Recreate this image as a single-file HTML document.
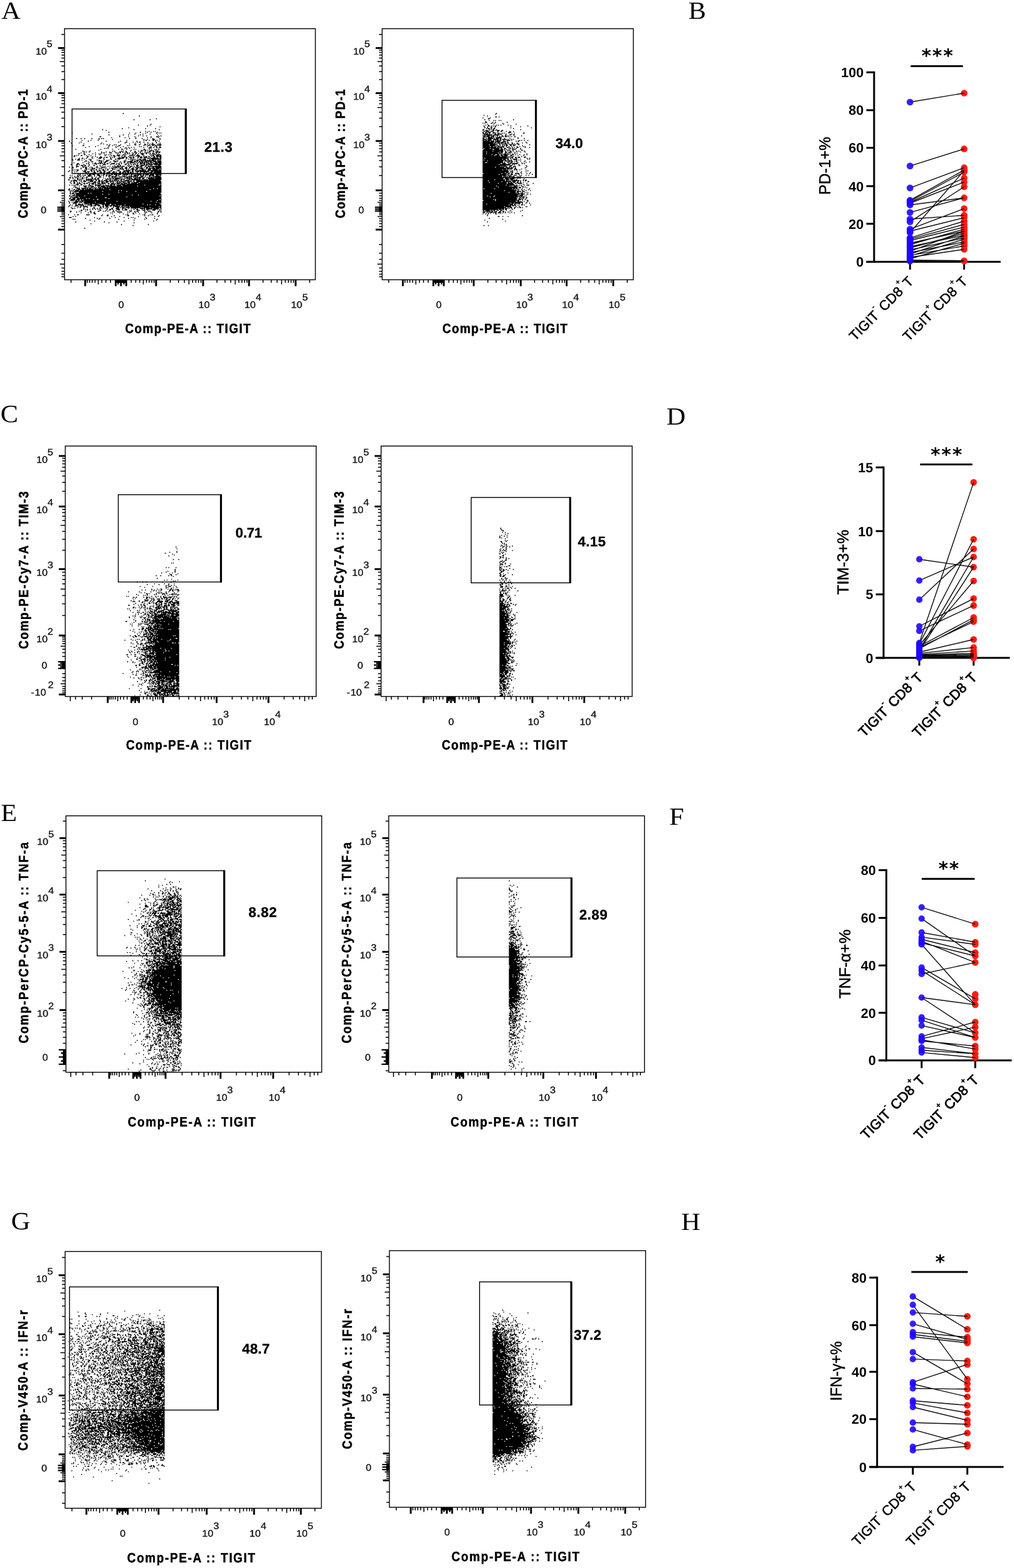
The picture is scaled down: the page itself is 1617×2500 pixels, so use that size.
<!DOCTYPE html>
<html><head><meta charset="utf-8"><title>Figure</title>
<style>html,body{margin:0;padding:0;background:#fff;overflow:hidden}svg{display:block}text{white-space:pre;text-rendering:geometricPrecision}</style></head>
<body>
<svg width="1617" height="2500" viewBox="0 0 1617 2500">
<rect width="1617" height="2500" fill="#fff"/>
<path transform="translate(102.90,46.42) scale(1.430)" d="M65 94h1M83 97h1M102 100h1M77 101h1m17 0h1M96 106h1M82 107h1m12 0h1M92 108h1M106 109h1M71 110h1M64 111h1m25 0h1m10 0h1M42 112h1m34 0h1m27 0h1M46 113h1M90 114h1m3 0h1m4 0h1m1 0h1M49 115h1m34 0h1m7 0h1m3 0h1m6 0h1M8 116h1m63 0h1m6 0h1m10 0h1m11 0h1m2 0h1m1 0h1M30 117h1m47 0h1m8 0h1m7 0h1m7 0h1M49 118h1m15 0h1m5 0h1m12 0h1M61 119h1m20 0h1m4 0h1m3 0h1m12 0h1m2 0h1M39 120h2m20 0h1m9 0h1m6 0h1m17 0h1m5 0h2m1 0h1M52 121h1m14 0h1m11 0h1m12 0h1m3 0h1m7 0h1M13 122h1m4 0h1m3 0h1m7 0h1m7 0h1m2 0h1m1 0h1m28 0h1m6 0h1m6 0h1m11 0h1m7 0h1M38 123h1m14 0h1m34 0h1m3 0h1m5 0h3m5 0h1M19 124h1m9 0h1m7 0h1m31 0h1m18 0h1m1 0h2m2 0h1m3 0h2m1 0h1m1 0h1M5 125h1m20 0h1m19 0h1m15 0h1m17 0h1m20 0h1m3 0h1M18 126h1m41 0h1m7 0h2m6 0h1m4 0h1m1 0h2m3 0h1m13 0h1M7 127h1m8 0h1m24 0h1m25 0h1m11 0h1m12 0h2m4 0h1m3 0h1m3 0h1M21 128h1m18 0h1m2 0h1m28 0h1m5 0h1m5 0h1m4 0h1m5 0h1m1 0h2m5 0h1m1 0h1M47 129h1m2 0h1m4 0h1m1 0h1m4 0h1m15 0h2m3 0h1m5 0h2m1 0h1m1 0h1m2 0h4m2 0h1m1 0h3M8 130h1m11 0h2m15 0h1m11 0h1m3 0h1m6 0h2m8 0h1m1 0h1m15 0h1m4 0h1m1 0h1m2 0h1m2 0h2m1 0h1m1 0h1M27 131h1m6 0h1m14 0h1m7 0h1m1 0h1m5 0h1m17 0h1m1 0h1m6 0h1m3 0h1m3 0h1m1 0h1m3 0h1M23 132h1m24 0h1m8 0h1m4 0h1m5 0h1m2 0h1m2 0h1m2 0h1m10 0h1m5 0h3m2 0h1m2 0h2m1 0h3M44 133h1m1 0h1m1 0h1m18 0h1m1 0h1m2 0h1m21 0h1m1 0h1M12 134h1m27 0h1m12 0h1m6 0h1m2 0h2m4 0h1m7 0h1m1 0h1m8 0h2m4 0h1m5 0h1m1 0h1m1 0h2M38 135h1m26 0h1m8 0h1m10 0h1m1 0h1m1 0h2m1 0h1m3 0h2m3 0h2M20 136h1m7 0h1m24 0h1m1 0h1m7 0h1m4 0h1m4 0h1m4 0h1m3 0h1m2 0h2m3 0h1m3 0h3m1 0h2m3 0h2M21 137h2m1 0h1m2 0h1m13 0h1m4 0h1m3 0h1m5 0h1m4 0h2m1 0h2m2 0h2m8 0h2m4 0h1m4 0h1m2 0h1m1 0h1m4 0h1m1 0h3m1 0h2M18 138h1m15 0h1m6 0h1m1 0h2m5 0h3m4 0h2m1 0h1m1 0h1m4 0h1m1 0h2m1 0h1m2 0h1m1 0h1m1 0h2m3 0h1m1 0h1m3 0h2m1 0h1m1 0h1m2 0h1m3 0h1m1 0h2M15 139h2m4 0h2m8 0h1m6 0h1m1 0h1m18 0h1m7 0h1m2 0h1m1 0h1m3 0h1m2 0h1m2 0h1m2 0h4m2 0h1m3 0h1m2 0h3m1 0h1M22 140h1m4 0h1m6 0h1m4 0h1m4 0h1m1 0h1m2 0h1m1 0h1m7 0h1m1 0h1m3 0h2m1 0h1m6 0h2m1 0h1m2 0h1m4 0h2m7 0h1m1 0h1m1 0h1m1 0h1m1 0h4M11 141h1m1 0h1m1 0h1m2 0h2m4 0h1m4 0h1m15 0h1m6 0h1m1 0h2m2 0h4m2 0h1m2 0h1m4 0h4m1 0h1m2 0h4m4 0h1m7 0h1m1 0h2m2 0h3m1 0h2M10 142h2m13 0h2m4 0h1m2 0h1m5 0h1m9 0h1m4 0h2m3 0h1m2 0h1m2 0h2m3 0h1m4 0h1m2 0h1m1 0h3m1 0h1m2 0h1m1 0h2m1 0h2m2 0h1m1 0h2m1 0h6M25 143h1m4 0h1m5 0h1m2 0h3m2 0h1m1 0h2m3 0h1m1 0h1m1 0h1m5 0h1m2 0h3m1 0h2m2 0h3m1 0h2m4 0h1m1 0h3m1 0h4m3 0h1m3 0h2m2 0h1m2 0h2M16 144h1m2 0h2m3 0h1m6 0h1m6 0h3m2 0h1m7 0h1m7 0h7m3 0h1m4 0h1m1 0h1m4 0h1m3 0h1m3 0h1m2 0h3m1 0h9m1 0h2M8 145h1m3 0h1m2 0h2m5 0h1m4 0h1m1 0h1m14 0h1m6 0h2m3 0h2m1 0h3m6 0h1m2 0h1m1 0h2m1 0h1m1 0h1m4 0h2m2 0h4m4 0h1m1 0h11M9 146h1m4 0h3m2 0h1m8 0h2m6 0h1m1 0h1m4 0h1m3 0h1m1 0h1m25 0h2m1 0h1m1 0h3m1 0h3m1 0h3m1 0h1m1 0h2m1 0h3m1 0h1m2 0h1m1 0h1M23 147h2m4 0h1m8 0h4m4 0h3m5 0h3m1 0h2m6 0h3m4 0h3m2 0h1m1 0h2m1 0h1m1 0h4m1 0h12m1 0h5M22 148h1m3 0h1m3 0h2m9 0h1m1 0h1m1 0h2m4 0h1m4 0h2m4 0h1m3 0h1m3 0h6m1 0h3m1 0h1m1 0h2m1 0h1m2 0h3m1 0h1m1 0h2m2 0h4m1 0h4M10 149h1m9 0h1m6 0h1m6 0h1m3 0h4m2 0h2m4 0h1m4 0h1m5 0h1m1 0h1m2 0h2m2 0h1m2 0h5m2 0h1m1 0h1m1 0h6m1 0h3m1 0h4m2 0h7M14 150h2m8 0h1m1 0h1m4 0h1m1 0h3m1 0h1m1 0h2m1 0h1m1 0h1m2 0h2m3 0h4m2 0h1m1 0h1m2 0h1m5 0h1m1 0h1m1 0h1m4 0h1m2 0h1m2 0h3m1 0h2m1 0h1m1 0h2m1 0h1m2 0h5m1 0h3M7 151h1m5 0h2m1 0h1m4 0h1m5 0h1m7 0h1m7 0h3m5 0h1m5 0h1m2 0h2m5 0h2m2 0h1m2 0h1m1 0h2m1 0h1m1 0h1m2 0h1m1 0h1m1 0h2m1 0h2m1 0h5m1 0h8M13 152h1m4 0h3m1 0h2m3 0h1m4 0h2m5 0h1m2 0h1m12 0h1m3 0h1m2 0h1m7 0h1m1 0h1m7 0h3m2 0h4m1 0h2m1 0h1m2 0h1m5 0h1m1 0h3M13 153h3m4 0h1m1 0h1m3 0h1m9 0h1m3 0h1m4 0h1m2 0h1m1 0h1m2 0h1m2 0h1m1 0h5m1 0h3m4 0h1m1 0h3m1 0h1m2 0h2m2 0h3m3 0h1m2 0h15M5 154h1m3 0h1m3 0h1m6 0h2m1 0h2m3 0h1m1 0h1m4 0h2m4 0h4m9 0h5m1 0h1m2 0h2m3 0h2m2 0h2m3 0h1m1 0h1m1 0h3m1 0h1m3 0h1m1 0h2m1 0h1m3 0h2m1 0h7M9 155h1m8 0h1m4 0h2m5 0h2m1 0h1m3 0h1m1 0h1m1 0h1m3 0h2m3 0h1m1 0h2m3 0h1m1 0h1m1 0h2m1 0h1m2 0h3m2 0h1m2 0h2m2 0h3m2 0h4m3 0h2m1 0h7m1 0h6M18 156h1m4 0h2m1 0h1m1 0h1m1 0h4m1 0h1m3 0h1m1 0h1m1 0h1m4 0h1m4 0h4m5 0h4m2 0h2m1 0h1m2 0h4m2 0h2m1 0h1m1 0h3m1 0h1m1 0h1m1 0h3m2 0h8m1 0h1M9 157h1m1 0h1m1 0h3m6 0h1m1 0h1m4 0h2m4 0h1m2 0h1m3 0h2m1 0h1m1 0h2m4 0h1m4 0h1m1 0h2m3 0h1m3 0h1m1 0h1m1 0h1m1 0h2m1 0h3m3 0h1m1 0h3m1 0h1m2 0h4m1 0h6m1 0h3M5 158h1m8 0h1m5 0h1m1 0h2m5 0h2m1 0h2m2 0h1m1 0h3m2 0h2m6 0h2m6 0h2m5 0h7m2 0h2m2 0h1m1 0h10m1 0h3m1 0h12M4 159h1m6 0h1m1 0h1m7 0h3m1 0h3m2 0h1m2 0h1m2 0h2m2 0h1m3 0h2m3 0h2m3 0h2m1 0h1m3 0h2m2 0h3m1 0h3m1 0h1m1 0h2m2 0h4m1 0h10m2 0h3m1 0h8M23 160h2m1 0h1m5 0h3m4 0h3m1 0h2m2 0h4m2 0h3m1 0h1m3 0h2m1 0h2m1 0h2m1 0h2m1 0h2m1 0h1m4 0h1m2 0h1m3 0h2m1 0h1m2 0h4m1 0h9M11 161h1m2 0h1m2 0h1m2 0h2m1 0h1m4 0h1m1 0h2m1 0h2m5 0h2m1 0h2m1 0h2m1 0h1m1 0h12m1 0h1m3 0h1m1 0h2m1 0h1m1 0h2m1 0h4m2 0h2m1 0h4m1 0h2m2 0h4m1 0h7M15 162h1m1 0h1m7 0h1m1 0h3m1 0h3m2 0h3m4 0h2m2 0h1m1 0h1m2 0h2m1 0h4m1 0h3m2 0h6m1 0h1m1 0h2m1 0h1m1 0h1m1 0h5m1 0h2m1 0h4m1 0h5m1 0h7M6 163h1m1 0h1m5 0h1m1 0h2m2 0h1m1 0h2m2 0h4m3 0h1m2 0h4m1 0h1m1 0h1m2 0h2m1 0h3m5 0h2m1 0h1m3 0h1m1 0h1m2 0h1m4 0h1m2 0h6m1 0h2m1 0h2m1 0h1m1 0h1m1 0h6m2 0h3m1 0h2M11 164h1m2 0h2m2 0h1m2 0h1m4 0h3m1 0h1m2 0h1m4 0h2m3 0h1m2 0h1m2 0h2m1 0h3m1 0h3m1 0h1m4 0h4m2 0h5m1 0h3m1 0h1m3 0h3m2 0h1m3 0h2m2 0h2m1 0h6M6 165h1m1 0h1m2 0h1m1 0h1m1 0h1m1 0h1m2 0h1m3 0h2m4 0h1m4 0h1m3 0h2m8 0h1m3 0h1m1 0h2m4 0h4m1 0h1m2 0h2m1 0h1m1 0h1m1 0h2m1 0h3m1 0h5m1 0h1m2 0h1m1 0h1m1 0h2m1 0h9M5 166h2m2 0h1m2 0h1m1 0h1m4 0h2m1 0h1m1 0h1m5 0h2m2 0h1m2 0h2m4 0h1m6 0h1m1 0h3m1 0h5m6 0h8m3 0h2m1 0h4m2 0h2m2 0h1m1 0h7m1 0h7M9 167h1m4 0h2m1 0h1m1 0h2m3 0h1m1 0h1m1 0h1m1 0h2m1 0h2m1 0h2m7 0h1m1 0h2m1 0h2m2 0h1m1 0h9m1 0h1m3 0h1m1 0h1m1 0h2m1 0h5m1 0h2m1 0h3m4 0h15M4 168h2m5 0h1m2 0h1m1 0h1m1 0h1m5 0h7m1 0h1m1 0h2m1 0h2m3 0h1m3 0h2m1 0h1m1 0h1m1 0h1m1 0h4m4 0h1m1 0h2m2 0h1m1 0h3m1 0h10m1 0h1m1 0h5m1 0h14M7 169h1m1 0h5m2 0h1m1 0h1m2 0h2m1 0h1m1 0h1m1 0h4m3 0h1m2 0h2m1 0h1m2 0h4m2 0h2m1 0h1m1 0h1m1 0h1m1 0h2m1 0h2m3 0h5m2 0h1m2 0h1m2 0h27M7 170h1m2 0h1m2 0h1m4 0h1m2 0h3m4 0h4m1 0h2m2 0h3m1 0h3m2 0h4m1 0h4m1 0h1m1 0h2m1 0h1m1 0h5m2 0h5m1 0h2m2 0h28M6 171h1m3 0h2m2 0h1m1 0h1m2 0h1m6 0h2m4 0h3m1 0h1m1 0h1m2 0h2m1 0h1m1 0h2m3 0h1m2 0h1m3 0h2m1 0h2m2 0h2m1 0h1m1 0h3m2 0h1m1 0h6m1 0h24M7 172h1m2 0h2m2 0h1m1 0h2m3 0h2m1 0h2m2 0h1m1 0h3m1 0h1m2 0h3m1 0h5m2 0h2m2 0h3m1 0h1m1 0h4m1 0h2m1 0h4m1 0h2m1 0h7m1 0h26M13 173h3m2 0h2m2 0h1m4 0h1m2 0h3m1 0h1m1 0h1m1 0h1m1 0h1m1 0h1m6 0h1m1 0h6m1 0h1m1 0h1m1 0h6m1 0h37m1 0h1M5 174h1m2 0h1m1 0h1m1 0h1m1 0h1m3 0h1m8 0h2m5 0h2m1 0h4m2 0h1m1 0h2m1 0h1m2 0h2m2 0h1m2 0h5m1 0h25m1 0h15m1 0h2M11 175h1m4 0h1m4 0h4m1 0h1m1 0h4m2 0h1m1 0h4m1 0h4m1 0h11m1 0h6m1 0h16m1 0h26M10 176h1m1 0h1m9 0h2m3 0h1m2 0h3m5 0h1m1 0h6m1 0h2m1 0h58M12 177h3m1 0h1m2 0h1m1 0h1m1 0h4m1 0h3m2 0h3m1 0h4m1 0h66M5 178h1m2 0h1m5 0h3m2 0h5m1 0h1m1 0h3m1 0h2m1 0h1m1 0h1m1 0h5m1 0h55m1 0h3m1 0h4M4 179h2m4 0h2m1 0h1m1 0h3m1 0h3m1 0h9m1 0h17m1 0h44m1 0h12M5 180h1m1 0h1m1 0h1m2 0h4m1 0h43m1 0h2m1 0h44M6 181h1m1 0h1m1 0h32m1 0h26m1 0h9m1 0h11m1 0h16M6 182h1m3 0h1m1 0h1m3 0h44m1 0h47M6 183h1m1 0h3m1 0h14m1 0h2m1 0h77M6 184h1m1 0h1m1 0h1m2 0h29m1 0h6m1 0h58M10 185h65m1 0h6m1 0h25M5 186h2m1 0h3m2 0h9m1 0h83m1 0h1M7 187h1m3 0h4m1 0h19m1 0h33m1 0h38M6 188h1m1 0h8m1 0h28m2 0h61M5 189h2m2 0h3m2 0h10m1 0h2m1 0h21m1 0h58M7 190h5m1 0h4m1 0h2m1 0h11m1 0h3m2 0h68m1 0h1M6 191h5m1 0h2m1 0h2m1 0h85m1 0h4M4 192h1m7 0h4m1 0h1m1 0h2m1 0h36m1 0h37m1 0h11M5 193h1m2 0h1m1 0h5m1 0h4m1 0h13m1 0h10m1 0h56m1 0h5M5 194h1m4 0h4m8 0h23m1 0h60m1 0h1M9 195h1m2 0h1m2 0h3m1 0h2m1 0h3m1 0h1m1 0h3m1 0h5m1 0h1m1 0h11m1 0h35m1 0h19M6 196h1m5 0h2m1 0h6m4 0h6m3 0h5m3 0h2m1 0h5m2 0h4m1 0h10m1 0h24m1 0h2m1 0h5m1 0h6M5 197h1m2 0h1m3 0h3m3 0h1m1 0h2m1 0h1m5 0h2m1 0h3m2 0h3m3 0h1m1 0h4m1 0h3m1 0h6m1 0h1m2 0h44M4 198h1m6 0h1m3 0h1m1 0h2m2 0h5m3 0h1m10 0h1m1 0h2m2 0h3m2 0h1m2 0h1m1 0h6m1 0h2m1 0h1m1 0h1m1 0h2m1 0h32m1 0h2M7 199h1m6 0h1m2 0h1m3 0h1m3 0h1m6 0h2m5 0h2m2 0h1m2 0h1m1 0h1m5 0h1m3 0h3m1 0h1m1 0h3m1 0h5m1 0h11m1 0h1m1 0h7m1 0h12M8 200h2m1 0h1m9 0h1m9 0h1m1 0h1m2 0h1m2 0h1m1 0h1m3 0h1m1 0h1m4 0h2m3 0h4m3 0h2m1 0h1m3 0h1m2 0h1m1 0h1m1 0h2m1 0h1m2 0h6m1 0h7m1 0h6m2 0h1M21 201h1m1 0h1m1 0h1m2 0h1m2 0h1m2 0h1m2 0h1m1 0h1m7 0h1m2 0h2m1 0h1m4 0h4m2 0h1m2 0h3m7 0h1m2 0h2m4 0h1m2 0h1m1 0h4m1 0h1m1 0h4m1 0h1m1 0h1m1 0h1M18 202h2m5 0h1m13 0h2m5 0h1m3 0h1m3 0h1m2 0h1m2 0h1m4 0h1m1 0h1m1 0h1m2 0h1m1 0h1m6 0h3m3 0h3m2 0h1m5 0h3m5 0h1M6 203h2m8 0h1m1 0h1m4 0h1m4 0h2m7 0h2m4 0h1m1 0h1m2 0h1m5 0h1m3 0h1m2 0h1m11 0h2m3 0h1m1 0h2m7 0h1m3 0h3m8 0h2m1 0h1M6 204h1m6 0h1m15 0h1m3 0h1m19 0h1m1 0h1m3 0h2m1 0h2m6 0h1m1 0h1m5 0h1m3 0h1m6 0h1m1 0h1m4 0h1m7 0h1m2 0h1M18 205h1m7 0h1m2 0h1m2 0h2m17 0h1m9 0h1m14 0h1m2 0h1m10 0h1m6 0h1m5 0h1M33 206h2m18 0h1m11 0h1m4 0h1m5 0h2m5 0h1m5 0h1m13 0h1M4 207h1m6 0h1m2 0h2m8 0h4m14 0h1m5 0h1m19 0h1m1 0h1m16 0h1m1 0h1m5 0h1m1 0h2M41 208h1m5 0h2m6 0h1m14 0h2m17 0h1m3 0h1m11 0h1M9 209h1m2 0h1m39 0h1m8 0h1m20 0h1m17 0h1m3 0h1M5 210h3m25 0h1m22 0h1m9 0h1m7 0h1m1 0h1m13 0h1M23 211h1m12 0h1m2 0h1m10 0h1m20 0h1m6 0h1m12 0h1m8 0h1M9 212h1m1 0h1m26 0h1m21 0h1m28 0h1m13 0h1M28 213h1m48 0h1m24 0h1M33 214h1m32 0h1m32 0h1M12 215h1m31 0h1m13 0h1M49 216h1m27 0h1M29 217h1M63 218h1m29 0h1M76 219h1M22 222h1" stroke="#000" stroke-width="1.12" fill="none"/>
<rect x="102.9" y="45.7" width="400" height="400.3" fill="none" stroke="#000" stroke-width="1.4"/>
<rect x="92.6" y="364.65" width="10.3" height="2.9" fill="#000"/>
<rect x="92.6" y="302.05" width="10.3" height="2.9" fill="#000"/>
<rect x="92.6" y="223.35" width="10.3" height="2.9" fill="#000"/>
<rect x="92.6" y="147.05" width="10.3" height="2.9" fill="#000"/>
<rect x="92.6" y="75.15" width="10.3" height="2.9" fill="#000"/>
<rect x="98" y="279.06" width="4.9" height="1.5" fill="#000"/>
<rect x="98" y="265.2" width="4.9" height="1.5" fill="#000"/>
<rect x="98" y="255.37" width="4.9" height="1.5" fill="#000"/>
<rect x="95.4" y="247.74" width="7.5" height="1.5" fill="#000"/>
<rect x="98" y="241.51" width="4.9" height="1.5" fill="#000"/>
<rect x="98" y="236.24" width="4.9" height="1.5" fill="#000"/>
<rect x="98" y="231.68" width="4.9" height="1.5" fill="#000"/>
<rect x="98" y="227.65" width="4.9" height="1.5" fill="#000"/>
<rect x="98" y="201.08" width="4.9" height="1.5" fill="#000"/>
<rect x="98" y="187.65" width="4.9" height="1.5" fill="#000"/>
<rect x="98" y="178.11" width="4.9" height="1.5" fill="#000"/>
<rect x="95.4" y="170.72" width="7.5" height="1.5" fill="#000"/>
<rect x="98" y="164.68" width="4.9" height="1.5" fill="#000"/>
<rect x="98" y="159.57" width="4.9" height="1.5" fill="#000"/>
<rect x="98" y="155.14" width="4.9" height="1.5" fill="#000"/>
<rect x="98" y="151.24" width="4.9" height="1.5" fill="#000"/>
<rect x="98" y="126.11" width="4.9" height="1.5" fill="#000"/>
<rect x="98" y="113.44" width="4.9" height="1.5" fill="#000"/>
<rect x="98" y="104.46" width="4.9" height="1.5" fill="#000"/>
<rect x="95.4" y="97.49" width="7.5" height="1.5" fill="#000"/>
<rect x="98" y="91.8" width="4.9" height="1.5" fill="#000"/>
<rect x="98" y="86.99" width="4.9" height="1.5" fill="#000"/>
<rect x="98" y="82.82" width="4.9" height="1.5" fill="#000"/>
<rect x="98" y="79.14" width="4.9" height="1.5" fill="#000"/>
<rect x="98" y="54.21" width="4.9" height="1.5" fill="#000"/>
<rect x="97.9" y="330.5" width="5" height="6" fill="#000"/>
<rect x="91.4" y="329.4" width="11.5" height="2.2" fill="#000"/>
<rect x="91.4" y="332.4" width="11.5" height="2.2" fill="#000"/>
<rect x="91.4" y="335.4" width="11.5" height="2.2" fill="#000"/>
<rect x="98" y="329.04" width="4.9" height="1.5" fill="#000"/>
<rect x="98" y="326.9" width="4.9" height="1.5" fill="#000"/>
<rect x="98" y="324.51" width="4.9" height="1.5" fill="#000"/>
<rect x="95.4" y="321.83" width="7.5" height="1.5" fill="#000"/>
<rect x="98" y="318.8" width="4.9" height="1.5" fill="#000"/>
<rect x="98" y="315.37" width="4.9" height="1.5" fill="#000"/>
<rect x="98" y="311.51" width="4.9" height="1.5" fill="#000"/>
<rect x="98" y="307.26" width="4.9" height="1.5" fill="#000"/>
<rect x="98" y="336.78" width="4.9" height="1.5" fill="#000"/>
<rect x="98" y="339.11" width="4.9" height="1.5" fill="#000"/>
<rect x="98" y="341.7" width="4.9" height="1.5" fill="#000"/>
<rect x="95.4" y="344.62" width="7.5" height="1.5" fill="#000"/>
<rect x="98" y="347.91" width="4.9" height="1.5" fill="#000"/>
<rect x="98" y="351.63" width="4.9" height="1.5" fill="#000"/>
<rect x="98" y="355.83" width="4.9" height="1.5" fill="#000"/>
<rect x="98" y="360.45" width="4.9" height="1.5" fill="#000"/>
<rect x="98" y="389.04" width="4.9" height="1.5" fill="#000"/>
<rect x="98" y="402.9" width="4.9" height="1.5" fill="#000"/>
<rect x="98" y="412.73" width="4.9" height="1.5" fill="#000"/>
<rect x="95.4" y="420.36" width="7.5" height="1.5" fill="#000"/>
<rect x="98" y="426.59" width="4.9" height="1.5" fill="#000"/>
<rect x="98" y="431.86" width="4.9" height="1.5" fill="#000"/>
<rect x="98" y="436.42" width="4.9" height="1.5" fill="#000"/>
<rect x="98" y="440.45" width="4.9" height="1.5" fill="#000"/>
<rect x="134.45" y="446" width="2.9" height="10.3" fill="#000"/>
<rect x="247.45" y="446" width="2.9" height="10.3" fill="#000"/>
<rect x="322.45" y="446" width="2.9" height="10.3" fill="#000"/>
<rect x="395.65" y="446" width="2.9" height="10.3" fill="#000"/>
<rect x="469.95" y="446" width="2.9" height="10.3" fill="#000"/>
<rect x="270.73" y="446" width="1.5" height="4.9" fill="#000"/>
<rect x="283.93" y="446" width="1.5" height="4.9" fill="#000"/>
<rect x="293.3" y="446" width="1.5" height="4.9" fill="#000"/>
<rect x="300.57" y="446" width="1.5" height="7.5" fill="#000"/>
<rect x="306.51" y="446" width="1.5" height="4.9" fill="#000"/>
<rect x="311.53" y="446" width="1.5" height="4.9" fill="#000"/>
<rect x="315.88" y="446" width="1.5" height="4.9" fill="#000"/>
<rect x="319.72" y="446" width="1.5" height="4.9" fill="#000"/>
<rect x="345.19" y="446" width="1.5" height="4.9" fill="#000"/>
<rect x="358.08" y="446" width="1.5" height="4.9" fill="#000"/>
<rect x="367.22" y="446" width="1.5" height="4.9" fill="#000"/>
<rect x="374.31" y="446" width="1.5" height="7.5" fill="#000"/>
<rect x="380.11" y="446" width="1.5" height="4.9" fill="#000"/>
<rect x="385.01" y="446" width="1.5" height="4.9" fill="#000"/>
<rect x="389.26" y="446" width="1.5" height="4.9" fill="#000"/>
<rect x="393" y="446" width="1.5" height="4.9" fill="#000"/>
<rect x="418.72" y="446" width="1.5" height="4.9" fill="#000"/>
<rect x="431.8" y="446" width="1.5" height="4.9" fill="#000"/>
<rect x="441.08" y="446" width="1.5" height="4.9" fill="#000"/>
<rect x="448.28" y="446" width="1.5" height="7.5" fill="#000"/>
<rect x="454.17" y="446" width="1.5" height="4.9" fill="#000"/>
<rect x="459.14" y="446" width="1.5" height="4.9" fill="#000"/>
<rect x="463.45" y="446" width="1.5" height="4.9" fill="#000"/>
<rect x="467.25" y="446" width="1.5" height="4.9" fill="#000"/>
<rect x="493.02" y="446" width="1.5" height="4.9" fill="#000"/>
<rect x="184.5" y="446" width="16.8" height="5" fill="#000"/>
<rect x="187.18" y="446" width="2.2" height="7.5" fill="#000"/>
<rect x="196.42" y="446" width="2.2" height="7.5" fill="#000"/>
<rect x="183.1" y="446" width="2.8" height="10.3" fill="#000"/>
<rect x="191.5" y="446" width="2.8" height="10.3" fill="#000"/>
<rect x="199.9" y="446" width="2.8" height="10.3" fill="#000"/>
<rect x="208.51" y="446" width="1.5" height="4.9" fill="#000"/>
<rect x="215.71" y="446" width="1.5" height="4.9" fill="#000"/>
<rect x="222.11" y="446" width="1.5" height="4.9" fill="#000"/>
<rect x="227.76" y="446" width="1.5" height="7.5" fill="#000"/>
<rect x="232.77" y="446" width="1.5" height="4.9" fill="#000"/>
<rect x="237.23" y="446" width="1.5" height="4.9" fill="#000"/>
<rect x="241.23" y="446" width="1.5" height="4.9" fill="#000"/>
<rect x="244.85" y="446" width="1.5" height="4.9" fill="#000"/>
<rect x="175.5" y="446" width="1.5" height="4.9" fill="#000"/>
<rect x="168.16" y="446" width="1.5" height="4.9" fill="#000"/>
<rect x="161.65" y="446" width="1.5" height="4.9" fill="#000"/>
<rect x="155.9" y="446" width="1.5" height="7.5" fill="#000"/>
<rect x="150.81" y="446" width="1.5" height="4.9" fill="#000"/>
<rect x="146.27" y="446" width="1.5" height="4.9" fill="#000"/>
<rect x="142.2" y="446" width="1.5" height="4.9" fill="#000"/>
<rect x="138.51" y="446" width="1.5" height="4.9" fill="#000"/>
<rect x="112.57" y="446" width="1.5" height="4.9" fill="#000"/>
<text transform="translate(193.2,491) scale(1.08,1)" text-anchor="middle" fill="#101010" font-family="Liberation Sans, Arial, Helvetica, sans-serif" font-size="15.0" stroke="#101010" stroke-width="0.35">0</text>
<text transform="translate(316.6,491) scale(1.08,1)" fill="#101010" font-family="Liberation Sans, Arial, Helvetica, sans-serif" font-size="15.0" stroke="#101010" stroke-width="0.35">10</text>
<text transform="translate(334.5,479) scale(1.08,1)" fill="#101010" font-family="Liberation Sans, Arial, Helvetica, sans-serif" font-size="15.0" stroke="#101010" stroke-width="0.35">3</text>
<text transform="translate(389.8,491) scale(1.08,1)" fill="#101010" font-family="Liberation Sans, Arial, Helvetica, sans-serif" font-size="15.0" stroke="#101010" stroke-width="0.35">10</text>
<text transform="translate(407.7,479) scale(1.08,1)" fill="#101010" font-family="Liberation Sans, Arial, Helvetica, sans-serif" font-size="15.0" stroke="#101010" stroke-width="0.35">4</text>
<text transform="translate(464.1,491) scale(1.08,1)" fill="#101010" font-family="Liberation Sans, Arial, Helvetica, sans-serif" font-size="15.0" stroke="#101010" stroke-width="0.35">10</text>
<text transform="translate(482,479) scale(1.08,1)" fill="#101010" font-family="Liberation Sans, Arial, Helvetica, sans-serif" font-size="15.0" stroke="#101010" stroke-width="0.35">5</text>
<text transform="translate(56.7,87) scale(1.08,1)" fill="#101010" font-family="Liberation Sans, Arial, Helvetica, sans-serif" font-size="15.0" stroke="#101010" stroke-width="0.35">10</text>
<text transform="translate(74.6,75) scale(1.08,1)" fill="#101010" font-family="Liberation Sans, Arial, Helvetica, sans-serif" font-size="15.0" stroke="#101010" stroke-width="0.35">5</text>
<text transform="translate(56.7,159) scale(1.08,1)" fill="#101010" font-family="Liberation Sans, Arial, Helvetica, sans-serif" font-size="15.0" stroke="#101010" stroke-width="0.35">10</text>
<text transform="translate(74.6,147) scale(1.08,1)" fill="#101010" font-family="Liberation Sans, Arial, Helvetica, sans-serif" font-size="15.0" stroke="#101010" stroke-width="0.35">4</text>
<text transform="translate(56.7,236) scale(1.08,1)" fill="#101010" font-family="Liberation Sans, Arial, Helvetica, sans-serif" font-size="15.0" stroke="#101010" stroke-width="0.35">10</text>
<text transform="translate(74.6,224) scale(1.08,1)" fill="#101010" font-family="Liberation Sans, Arial, Helvetica, sans-serif" font-size="15.0" stroke="#101010" stroke-width="0.35">3</text>
<text transform="translate(69.6,340) scale(1.08,1)" text-anchor="middle" fill="#101010" font-family="Liberation Sans, Arial, Helvetica, sans-serif" font-size="15.0" stroke="#101010" stroke-width="0.35">0</text>
<text transform="translate(199.4,530.8) scale(0.875,1)" textLength="228.69" lengthAdjust="spacing" font-weight="bold" font-family="Liberation Sans, Arial, Helvetica, sans-serif" font-size="21.6" stroke="#000" stroke-width="0.5">Comp-PE-A :: TIGIT</text>
<text transform="translate(44,348) rotate(-90) scale(0.875,1)" textLength="234.86" lengthAdjust="spacing" font-weight="bold" font-family="Liberation Sans, Arial, Helvetica, sans-serif" font-size="21.6" stroke="#000" stroke-width="0.5">Comp-APC-A :: PD-1</text>
<rect x="114.9" y="173.7" width="181.4" height="102.9" fill="none" stroke="#000" stroke-width="1.4"/>
<rect x="294.7" y="173" width="3.2" height="104.3" fill="#000"/>
<text transform="translate(325.7,242)" textLength="44.9" lengthAdjust="spacing" font-weight="bold" font-family="Liberation Sans, Arial, Helvetica, sans-serif" font-size="22.3" stroke="#000" stroke-width="0.3">21.3</text>
<path transform="translate(609.40,46.42) scale(1.430)" d="M127 94h1M126 95h1M113 96h1M117 97h1M126 98h2m2 0h1M112 99h1m7 0h1M118 100h2M114 101h1m31 0h1M119 102h1m4 0h1m1 0h1m3 0h1m1 0h1M115 103h1M115 104h2m6 0h1m2 0h1m12 0h1M112 105h1m1 0h1m6 0h2m2 0h1m8 0h1M117 106h1m6 0h1m10 0h1m13 0h1M115 107h1m2 0h1m8 0h1m1 0h1m2 0h1m7 0h1M113 108h1m4 0h2m2 0h1m1 0h1m1 0h1m16 0h1m18 0h1M114 109h1m2 0h1m3 0h1m4 0h1m27 0h1M114 110h1m2 0h1m3 0h2m2 0h1m17 0h1m22 0h1M116 111h1m1 0h2m1 0h1m2 0h2m20 0h1M112 112h2m5 0h1m1 0h1m1 0h2m2 0h1m26 0h1M112 113h1m2 0h3m1 0h1m3 0h2m1 0h1m1 0h3m2 0h2M113 114h2m1 0h3m2 0h3m4 0h2m2 0h2m4 0h1m3 0h1m3 0h1M112 115h1m2 0h2m1 0h3m3 0h1m16 0h3M112 116h2m1 0h1m1 0h1m1 0h2m2 0h4m1 0h3m3 0h1m1 0h1m4 0h1m5 0h1m9 0h2M112 117h6m1 0h1m6 0h1m2 0h1m1 0h3m4 0h1m5 0h1M114 118h1m1 0h7m1 0h7m6 0h1m4 0h2m2 0h2M112 119h4m1 0h3m1 0h1m1 0h2m3 0h1m4 0h2m2 0h2m1 0h1m14 0h1M113 120h2m1 0h4m1 0h4m1 0h1m1 0h1m1 0h2m1 0h1m1 0h1m1 0h2m1 0h1m1 0h1m1 0h1m2 0h2M112 121h2m1 0h1m2 0h5m1 0h1m2 0h6m18 0h1M112 122h2m2 0h1m1 0h6m1 0h1m1 0h3m1 0h2m3 0h1m5 0h1m8 0h1m6 0h1M112 123h4m1 0h5m2 0h6m1 0h2m1 0h5m1 0h1m3 0h1m1 0h1M112 124h2m1 0h2m1 0h4m2 0h1m1 0h1m1 0h2m1 0h2m2 0h1m3 0h4m1 0h1m8 0h1m1 0h1m2 0h1m3 0h1M112 125h8m1 0h4m1 0h6m3 0h3m1 0h1m9 0h1m1 0h2M112 126h13m1 0h1m1 0h4m1 0h3m1 0h1m2 0h1m19 0h1M112 127h12m1 0h3m1 0h2m1 0h3m1 0h2m1 0h2m3 0h2m4 0h1m5 0h1m4 0h1M112 128h14m2 0h1m1 0h2m1 0h1m1 0h1m1 0h2m2 0h1m3 0h1m1 0h1m2 0h3M112 129h7m1 0h8m3 0h1m2 0h1m1 0h1m1 0h2m2 0h3m1 0h1m1 0h1m3 0h1m11 0h1M112 130h14m2 0h2m1 0h1m2 0h1m1 0h1m1 0h2m3 0h1m2 0h2m8 0h1M112 131h8m1 0h3m1 0h3m1 0h3m1 0h3m2 0h1m2 0h1m2 0h1m5 0h1m2 0h1m3 0h1m1 0h1M112 132h15m1 0h2m1 0h3m1 0h1m3 0h2m1 0h1m2 0h1m1 0h1m2 0h2m7 0h1m4 0h1M112 133h1m1 0h6m1 0h10m1 0h2m2 0h2m3 0h1m1 0h1m1 0h1m3 0h1m4 0h1M113 134h10m2 0h6m1 0h3m1 0h1m1 0h1m3 0h1m2 0h4m5 0h1M112 135h23m1 0h1m2 0h3m3 0h1m9 0h2M112 136h11m1 0h11m2 0h1m4 0h2m2 0h1m2 0h1m2 0h1m5 0h1M112 137h4m1 0h14m1 0h3m2 0h2m1 0h1m1 0h1m1 0h1m5 0h1m3 0h1m4 0h1M112 138h17m1 0h4m3 0h2m2 0h3m3 0h2M112 139h4m1 0h14m1 0h1m1 0h1m1 0h2m1 0h2m4 0h1m4 0h1m10 0h1M112 140h10m1 0h3m2 0h3m1 0h2m1 0h5m1 0h1m1 0h1m1 0h2m1 0h1m4 0h1m4 0h1m2 0h1M112 141h13m1 0h5m1 0h3m1 0h4m3 0h2m6 0h1m5 0h1M112 142h20m1 0h7m1 0h1m1 0h1m1 0h2m8 0h1m3 0h1M112 143h27m1 0h1m1 0h1m1 0h2m2 0h2m1 0h3m4 0h2M112 144h2m1 0h26m2 0h1m1 0h1m3 0h1m11 0h1m2 0h1M112 145h22m1 0h3m2 0h1m2 0h1m2 0h5m3 0h1m7 0h1m1 0h1M112 146h1m1 0h24m1 0h3m2 0h1m2 0h1m1 0h1m2 0h1M112 147h5m1 0h17m2 0h2m2 0h4m4 0h2m3 0h1m4 0h1M112 148h23m1 0h1m2 0h3m2 0h2m1 0h1m1 0h1m8 0h1m5 0h1M112 149h3m2 0h18m1 0h1m3 0h1m1 0h3m5 0h2m3 0h1m4 0h1M112 150h20m2 0h4m3 0h1m1 0h1m1 0h6m5 0h1m1 0h1M112 151h18m1 0h12m2 0h1m1 0h1m4 0h1M112 152h26m1 0h1m1 0h1m1 0h2m7 0h2m6 0h1M112 153h20m1 0h1m1 0h4m3 0h2m2 0h3m12 0h1M112 154h14m1 0h9m2 0h2m1 0h2m1 0h1m1 0h1m1 0h1m11 0h1M112 155h30m1 0h3m2 0h1m10 0h1M112 156h26m1 0h6m2 0h3m5 0h1M112 157h22m1 0h5m7 0h1m1 0h2m2 0h1m6 0h1M112 158h29m1 0h1m1 0h2m16 0h1M112 159h29m2 0h1m1 0h1m4 0h1m4 0h1m4 0h1M112 160h25m1 0h3m1 0h1m1 0h2m8 0h1m10 0h1M113 161h20m1 0h5m1 0h2m2 0h1m3 0h5m2 0h1m5 0h1m2 0h1M112 162h18m1 0h7m1 0h1m1 0h1m1 0h3m6 0h1m14 0h1M112 163h27m1 0h2m1 0h1m3 0h3m3 0h1m1 0h1m4 0h1m2 0h1M112 164h22m1 0h3m1 0h1m1 0h4m1 0h1m7 0h1M112 165h22m1 0h1m1 0h3m1 0h2m2 0h3m2 0h4M112 166h24m1 0h5m1 0h6m2 0h4M112 167h23m2 0h4m1 0h5m3 0h1m7 0h1M112 168h13m1 0h11m1 0h4m1 0h3m1 0h1m1 0h1m7 0h1m2 0h1M112 169h6m1 0h18m1 0h2m1 0h1m1 0h1m1 0h8m1 0h1m2 0h1m1 0h2M112 170h21m1 0h10m1 0h4m2 0h1m2 0h1m7 0h2M112 171h7m1 0h19m1 0h2m1 0h2m1 0h2m2 0h2m2 0h1m2 0h1M112 172h17m1 0h9m1 0h6m2 0h2m1 0h5m5 0h1m6 0h1M112 173h35m10 0h1M112 174h26m1 0h9m1 0h2m2 0h1m1 0h1m2 0h1m2 0h3M112 175h15m1 0h14m1 0h1m3 0h3m1 0h1m3 0h1M112 176h17m1 0h21m2 0h1m2 0h2m1 0h1M112 177h39m1 0h3m6 0h1M112 178h1m1 0h11m1 0h19m1 0h2m1 0h2m5 0h1m7 0h1M112 179h35m1 0h1m2 0h2m2 0h1m2 0h1m4 0h1M112 180h24m1 0h13m1 0h1m4 0h1m3 0h1m4 0h1M112 181h37m1 0h5m1 0h3M112 182h29m1 0h7m1 0h2m4 0h1m3 0h1m1 0h1M112 183h9m1 0h28m1 0h2m1 0h3m1 0h1M112 184h42m1 0h3m3 0h2m2 0h1M112 185h40m2 0h3m1 0h1M112 186h5m1 0h7m1 0h25m1 0h5m3 0h1M112 187h8m1 0h3m1 0h27m1 0h1m1 0h1m1 0h2M112 188h38m3 0h2m1 0h2m2 0h2M112 189h39m1 0h2m1 0h1m1 0h1m2 0h1M112 190h12m1 0h1m1 0h23m2 0h3m1 0h1m2 0h1M113 191h13m1 0h26m3 0h1m4 0h2M112 192h37m2 0h2m1 0h1m3 0h1m3 0h1M112 193h45m4 0h1M112 194h31m1 0h3m1 0h6m2 0h1m3 0h1m3 0h1M112 195h4m1 0h29m1 0h2m3 0h2m2 0h1M112 196h29m1 0h4m1 0h2m1 0h1m4 0h2m1 0h1m6 0h1M112 197h32m1 0h2m1 0h1m3 0h1M112 198h24m1 0h7m5 0h1m3 0h1m6 0h2M112 199h26m2 0h1m1 0h3m2 0h2m2 0h1m1 0h2m1 0h1M112 200h24m1 0h3m1 0h1m2 0h1m2 0h1M112 201h17m1 0h3m1 0h2m1 0h2m6 0h1M112 202h2m1 0h5m1 0h2m1 0h2m2 0h2m2 0h2m4 0h1m4 0h1m12 0h1M113 203h1m1 0h6m1 0h2m1 0h1m1 0h1m3 0h2m1 0h2m6 0h1m11 0h1M112 204h3m2 0h1m1 0h1m1 0h3m1 0h3m2 0h2m3 0h1m1 0h1m2 0h1m3 0h1M113 205h1m2 0h1m1 0h1m1 0h2m2 0h1m1 0h1m2 0h4m1 0h1m2 0h1m4 0h1m4 0h1M112 206h1m2 0h1m2 0h1m7 0h2M117 207h1M117 208h1m38 0h1M129 209h2m3 0h1m5 0h1M119 211h1M134 212h1M114 213h1M137 214h1M117 215h1M113 219h1m4 0h1" stroke="#000" stroke-width="1.12" fill="none"/>
<rect x="609.4" y="45.7" width="400.6" height="400.3" fill="none" stroke="#000" stroke-width="1.4"/>
<rect x="599.1" y="364.65" width="10.3" height="2.9" fill="#000"/>
<rect x="599.1" y="302.05" width="10.3" height="2.9" fill="#000"/>
<rect x="599.1" y="223.35" width="10.3" height="2.9" fill="#000"/>
<rect x="599.1" y="147.05" width="10.3" height="2.9" fill="#000"/>
<rect x="599.1" y="75.15" width="10.3" height="2.9" fill="#000"/>
<rect x="604.5" y="279.06" width="4.9" height="1.5" fill="#000"/>
<rect x="604.5" y="265.2" width="4.9" height="1.5" fill="#000"/>
<rect x="604.5" y="255.37" width="4.9" height="1.5" fill="#000"/>
<rect x="601.9" y="247.74" width="7.5" height="1.5" fill="#000"/>
<rect x="604.5" y="241.51" width="4.9" height="1.5" fill="#000"/>
<rect x="604.5" y="236.24" width="4.9" height="1.5" fill="#000"/>
<rect x="604.5" y="231.68" width="4.9" height="1.5" fill="#000"/>
<rect x="604.5" y="227.65" width="4.9" height="1.5" fill="#000"/>
<rect x="604.5" y="201.08" width="4.9" height="1.5" fill="#000"/>
<rect x="604.5" y="187.65" width="4.9" height="1.5" fill="#000"/>
<rect x="604.5" y="178.11" width="4.9" height="1.5" fill="#000"/>
<rect x="601.9" y="170.72" width="7.5" height="1.5" fill="#000"/>
<rect x="604.5" y="164.68" width="4.9" height="1.5" fill="#000"/>
<rect x="604.5" y="159.57" width="4.9" height="1.5" fill="#000"/>
<rect x="604.5" y="155.14" width="4.9" height="1.5" fill="#000"/>
<rect x="604.5" y="151.24" width="4.9" height="1.5" fill="#000"/>
<rect x="604.5" y="126.11" width="4.9" height="1.5" fill="#000"/>
<rect x="604.5" y="113.44" width="4.9" height="1.5" fill="#000"/>
<rect x="604.5" y="104.46" width="4.9" height="1.5" fill="#000"/>
<rect x="601.9" y="97.49" width="7.5" height="1.5" fill="#000"/>
<rect x="604.5" y="91.8" width="4.9" height="1.5" fill="#000"/>
<rect x="604.5" y="86.99" width="4.9" height="1.5" fill="#000"/>
<rect x="604.5" y="82.82" width="4.9" height="1.5" fill="#000"/>
<rect x="604.5" y="79.14" width="4.9" height="1.5" fill="#000"/>
<rect x="604.5" y="54.21" width="4.9" height="1.5" fill="#000"/>
<rect x="604.4" y="330.5" width="5" height="6" fill="#000"/>
<rect x="597.9" y="329.4" width="11.5" height="2.2" fill="#000"/>
<rect x="597.9" y="332.4" width="11.5" height="2.2" fill="#000"/>
<rect x="597.9" y="335.4" width="11.5" height="2.2" fill="#000"/>
<rect x="604.5" y="329.04" width="4.9" height="1.5" fill="#000"/>
<rect x="604.5" y="326.9" width="4.9" height="1.5" fill="#000"/>
<rect x="604.5" y="324.51" width="4.9" height="1.5" fill="#000"/>
<rect x="601.9" y="321.83" width="7.5" height="1.5" fill="#000"/>
<rect x="604.5" y="318.8" width="4.9" height="1.5" fill="#000"/>
<rect x="604.5" y="315.37" width="4.9" height="1.5" fill="#000"/>
<rect x="604.5" y="311.51" width="4.9" height="1.5" fill="#000"/>
<rect x="604.5" y="307.26" width="4.9" height="1.5" fill="#000"/>
<rect x="604.5" y="336.78" width="4.9" height="1.5" fill="#000"/>
<rect x="604.5" y="339.11" width="4.9" height="1.5" fill="#000"/>
<rect x="604.5" y="341.7" width="4.9" height="1.5" fill="#000"/>
<rect x="601.9" y="344.62" width="7.5" height="1.5" fill="#000"/>
<rect x="604.5" y="347.91" width="4.9" height="1.5" fill="#000"/>
<rect x="604.5" y="351.63" width="4.9" height="1.5" fill="#000"/>
<rect x="604.5" y="355.83" width="4.9" height="1.5" fill="#000"/>
<rect x="604.5" y="360.45" width="4.9" height="1.5" fill="#000"/>
<rect x="604.5" y="389.04" width="4.9" height="1.5" fill="#000"/>
<rect x="604.5" y="402.9" width="4.9" height="1.5" fill="#000"/>
<rect x="604.5" y="412.73" width="4.9" height="1.5" fill="#000"/>
<rect x="601.9" y="420.36" width="7.5" height="1.5" fill="#000"/>
<rect x="604.5" y="426.59" width="4.9" height="1.5" fill="#000"/>
<rect x="604.5" y="431.86" width="4.9" height="1.5" fill="#000"/>
<rect x="604.5" y="436.42" width="4.9" height="1.5" fill="#000"/>
<rect x="604.5" y="440.45" width="4.9" height="1.5" fill="#000"/>
<rect x="640.95" y="446" width="2.9" height="10.3" fill="#000"/>
<rect x="753.95" y="446" width="2.9" height="10.3" fill="#000"/>
<rect x="828.95" y="446" width="2.9" height="10.3" fill="#000"/>
<rect x="902.15" y="446" width="2.9" height="10.3" fill="#000"/>
<rect x="976.45" y="446" width="2.9" height="10.3" fill="#000"/>
<rect x="777.23" y="446" width="1.5" height="4.9" fill="#000"/>
<rect x="790.43" y="446" width="1.5" height="4.9" fill="#000"/>
<rect x="799.8" y="446" width="1.5" height="4.9" fill="#000"/>
<rect x="807.07" y="446" width="1.5" height="7.5" fill="#000"/>
<rect x="813.01" y="446" width="1.5" height="4.9" fill="#000"/>
<rect x="818.03" y="446" width="1.5" height="4.9" fill="#000"/>
<rect x="822.38" y="446" width="1.5" height="4.9" fill="#000"/>
<rect x="826.22" y="446" width="1.5" height="4.9" fill="#000"/>
<rect x="851.69" y="446" width="1.5" height="4.9" fill="#000"/>
<rect x="864.58" y="446" width="1.5" height="4.9" fill="#000"/>
<rect x="873.72" y="446" width="1.5" height="4.9" fill="#000"/>
<rect x="880.81" y="446" width="1.5" height="7.5" fill="#000"/>
<rect x="886.61" y="446" width="1.5" height="4.9" fill="#000"/>
<rect x="891.51" y="446" width="1.5" height="4.9" fill="#000"/>
<rect x="895.76" y="446" width="1.5" height="4.9" fill="#000"/>
<rect x="899.5" y="446" width="1.5" height="4.9" fill="#000"/>
<rect x="925.22" y="446" width="1.5" height="4.9" fill="#000"/>
<rect x="938.3" y="446" width="1.5" height="4.9" fill="#000"/>
<rect x="947.58" y="446" width="1.5" height="4.9" fill="#000"/>
<rect x="954.78" y="446" width="1.5" height="7.5" fill="#000"/>
<rect x="960.67" y="446" width="1.5" height="4.9" fill="#000"/>
<rect x="965.64" y="446" width="1.5" height="4.9" fill="#000"/>
<rect x="969.95" y="446" width="1.5" height="4.9" fill="#000"/>
<rect x="973.75" y="446" width="1.5" height="4.9" fill="#000"/>
<rect x="999.52" y="446" width="1.5" height="4.9" fill="#000"/>
<rect x="691" y="446" width="16.8" height="5" fill="#000"/>
<rect x="693.68" y="446" width="2.2" height="7.5" fill="#000"/>
<rect x="702.92" y="446" width="2.2" height="7.5" fill="#000"/>
<rect x="689.6" y="446" width="2.8" height="10.3" fill="#000"/>
<rect x="698" y="446" width="2.8" height="10.3" fill="#000"/>
<rect x="706.4" y="446" width="2.8" height="10.3" fill="#000"/>
<rect x="715.01" y="446" width="1.5" height="4.9" fill="#000"/>
<rect x="722.21" y="446" width="1.5" height="4.9" fill="#000"/>
<rect x="728.61" y="446" width="1.5" height="4.9" fill="#000"/>
<rect x="734.26" y="446" width="1.5" height="7.5" fill="#000"/>
<rect x="739.27" y="446" width="1.5" height="4.9" fill="#000"/>
<rect x="743.73" y="446" width="1.5" height="4.9" fill="#000"/>
<rect x="747.73" y="446" width="1.5" height="4.9" fill="#000"/>
<rect x="751.35" y="446" width="1.5" height="4.9" fill="#000"/>
<rect x="682" y="446" width="1.5" height="4.9" fill="#000"/>
<rect x="674.66" y="446" width="1.5" height="4.9" fill="#000"/>
<rect x="668.15" y="446" width="1.5" height="4.9" fill="#000"/>
<rect x="662.4" y="446" width="1.5" height="7.5" fill="#000"/>
<rect x="657.31" y="446" width="1.5" height="4.9" fill="#000"/>
<rect x="652.77" y="446" width="1.5" height="4.9" fill="#000"/>
<rect x="648.7" y="446" width="1.5" height="4.9" fill="#000"/>
<rect x="645.01" y="446" width="1.5" height="4.9" fill="#000"/>
<rect x="619.07" y="446" width="1.5" height="4.9" fill="#000"/>
<text transform="translate(699.7,491) scale(1.08,1)" text-anchor="middle" fill="#101010" font-family="Liberation Sans, Arial, Helvetica, sans-serif" font-size="15.0" stroke="#101010" stroke-width="0.35">0</text>
<text transform="translate(823.1,491) scale(1.08,1)" fill="#101010" font-family="Liberation Sans, Arial, Helvetica, sans-serif" font-size="15.0" stroke="#101010" stroke-width="0.35">10</text>
<text transform="translate(841,479) scale(1.08,1)" fill="#101010" font-family="Liberation Sans, Arial, Helvetica, sans-serif" font-size="15.0" stroke="#101010" stroke-width="0.35">3</text>
<text transform="translate(896.3,491) scale(1.08,1)" fill="#101010" font-family="Liberation Sans, Arial, Helvetica, sans-serif" font-size="15.0" stroke="#101010" stroke-width="0.35">10</text>
<text transform="translate(914.2,479) scale(1.08,1)" fill="#101010" font-family="Liberation Sans, Arial, Helvetica, sans-serif" font-size="15.0" stroke="#101010" stroke-width="0.35">4</text>
<text transform="translate(970.6,491) scale(1.08,1)" fill="#101010" font-family="Liberation Sans, Arial, Helvetica, sans-serif" font-size="15.0" stroke="#101010" stroke-width="0.35">10</text>
<text transform="translate(988.5,479) scale(1.08,1)" fill="#101010" font-family="Liberation Sans, Arial, Helvetica, sans-serif" font-size="15.0" stroke="#101010" stroke-width="0.35">5</text>
<text transform="translate(563.2,87) scale(1.08,1)" fill="#101010" font-family="Liberation Sans, Arial, Helvetica, sans-serif" font-size="15.0" stroke="#101010" stroke-width="0.35">10</text>
<text transform="translate(581.1,75) scale(1.08,1)" fill="#101010" font-family="Liberation Sans, Arial, Helvetica, sans-serif" font-size="15.0" stroke="#101010" stroke-width="0.35">5</text>
<text transform="translate(563.2,159) scale(1.08,1)" fill="#101010" font-family="Liberation Sans, Arial, Helvetica, sans-serif" font-size="15.0" stroke="#101010" stroke-width="0.35">10</text>
<text transform="translate(581.1,147) scale(1.08,1)" fill="#101010" font-family="Liberation Sans, Arial, Helvetica, sans-serif" font-size="15.0" stroke="#101010" stroke-width="0.35">4</text>
<text transform="translate(563.2,236) scale(1.08,1)" fill="#101010" font-family="Liberation Sans, Arial, Helvetica, sans-serif" font-size="15.0" stroke="#101010" stroke-width="0.35">10</text>
<text transform="translate(581.1,224) scale(1.08,1)" fill="#101010" font-family="Liberation Sans, Arial, Helvetica, sans-serif" font-size="15.0" stroke="#101010" stroke-width="0.35">3</text>
<text transform="translate(576.1,340) scale(1.08,1)" text-anchor="middle" fill="#101010" font-family="Liberation Sans, Arial, Helvetica, sans-serif" font-size="15.0" stroke="#101010" stroke-width="0.35">0</text>
<text transform="translate(705.4,530.8) scale(0.875,1)" textLength="228" lengthAdjust="spacing" font-weight="bold" font-family="Liberation Sans, Arial, Helvetica, sans-serif" font-size="21.6" stroke="#000" stroke-width="0.5">Comp-PE-A :: TIGIT</text>
<text transform="translate(550,348) rotate(-90) scale(0.875,1)" textLength="234.86" lengthAdjust="spacing" font-weight="bold" font-family="Liberation Sans, Arial, Helvetica, sans-serif" font-size="21.6" stroke="#000" stroke-width="0.5">Comp-APC-A :: PD-1</text>
<rect x="704.9" y="160" width="149.7" height="123.1" fill="none" stroke="#000" stroke-width="1.4"/>
<rect x="853" y="159.3" width="3.2" height="124.5" fill="#000"/>
<text transform="translate(885.7,235.5)" textLength="44" lengthAdjust="spacing" font-weight="bold" font-family="Liberation Sans, Arial, Helvetica, sans-serif" font-size="22.3" stroke="#000" stroke-width="0.3">34.0</text>
<path transform="translate(104.10,711.92) scale(1.430)" d="M123 112h1M124 114h1M124 117h1M116 118h1m7 0h1M111 119h1M119 120h1M121 121h1M115 122h1M120 126h1m5 0h1M118 130h1m1 0h1M112 135h1m2 0h1m7 0h1M122 137h1M122 138h1M114 139h1m7 0h1M112 140h1m9 0h1M107 141h1m11 0h1M116 142h1m8 0h1M117 143h2m4 0h1M101 144h1m4 0h1m8 0h1m2 0h1M120 145h1M102 147h1M118 148h1M110 149h1m2 0h1m11 0h1M120 150h1m1 0h1M80 151h1m5 0h1m3 0h1m17 0h1m8 0h2M99 153h1m10 0h1m4 0h1m5 0h1M91 154h1m12 0h1m10 0h1M112 155h1m1 0h1m3 0h1m2 0h1M83 156h1m13 0h1m14 0h1m2 0h3m5 0h1M88 157h1m23 0h1m1 0h1m5 0h1m3 0h1M112 158h1m5 0h1M96 159h1m5 0h1m3 0h2m6 0h1m2 0h2m1 0h1m2 0h1m1 0h1M85 160h1m3 0h1m6 0h1m2 0h1m4 0h1m2 0h1m8 0h2m1 0h1m2 0h1m1 0h3M98 161h1m2 0h1m4 0h1m9 0h1m2 0h2m5 0h1M70 162h1m11 0h1m12 0h1m8 0h1m7 0h1m2 0h1m9 0h1M84 163h1m3 0h1m13 0h1m1 0h1m1 0h2m4 0h1m8 0h1M90 164h2m1 0h1m7 0h1m2 0h1m3 0h3m1 0h2m5 0h1m1 0h1m1 0h1M79 165h1m11 0h1m7 0h1m1 0h1m6 0h1m1 0h1m5 0h1m1 0h3m1 0h1m1 0h1m1 0h1M81 166h1m5 0h1m1 0h1m1 0h1m19 0h1m2 0h1m10 0h1M68 167h1m1 0h1m25 0h1m3 0h1m2 0h1m2 0h1m2 0h1m9 0h1m1 0h1m1 0h1M76 168h1m2 0h1m7 0h1m2 0h2m1 0h1m7 0h1m4 0h1m2 0h4m2 0h4m2 0h1m2 0h1M75 169h1m2 0h1m11 0h2m2 0h1m1 0h1m1 0h1m8 0h1m2 0h1m1 0h3m2 0h1m2 0h1m5 0h1M90 170h1m5 0h1m1 0h1m3 0h4m1 0h2m1 0h1m1 0h1m3 0h1m2 0h2m1 0h1m2 0h1M76 171h1m11 0h2m1 0h2m3 0h1m1 0h2m4 0h1m7 0h5m2 0h1M73 172h1m8 0h1m6 0h3m3 0h1m2 0h1m4 0h3m1 0h1m3 0h1m1 0h2m3 0h1m3 0h3M75 173h3m4 0h1m3 0h1m1 0h1m5 0h1m2 0h1m4 0h7m2 0h4m1 0h4m4 0h3M85 174h2m6 0h1m2 0h1m1 0h1m2 0h2m2 0h3m5 0h1m1 0h3m1 0h8M78 175h1m9 0h1m4 0h2m3 0h1m1 0h2m2 0h1m2 0h1m2 0h3m2 0h1m1 0h1m2 0h3m1 0h3M76 176h1m7 0h1m2 0h1m3 0h1m9 0h2m1 0h1m1 0h2m4 0h1m2 0h1m2 0h4m2 0h1m1 0h1M70 177h2m9 0h1m2 0h1m2 0h2m9 0h1m2 0h2m1 0h2m1 0h1m2 0h3m1 0h3m1 0h5m2 0h2M85 178h1m2 0h2m5 0h1m1 0h1m5 0h3m1 0h1m2 0h4m1 0h1m4 0h2M76 179h1m5 0h1m2 0h1m8 0h1m3 0h1m2 0h4m1 0h1m1 0h3m1 0h2m3 0h4m1 0h1m1 0h1M75 180h2m1 0h1m5 0h1m2 0h3m1 0h1m2 0h1m5 0h2m1 0h4m2 0h2m1 0h2m3 0h1m3 0h1m1 0h1m1 0h1M69 181h1m1 0h1m11 0h1m7 0h1m1 0h4m4 0h5m1 0h1m2 0h1m1 0h2m3 0h3m1 0h2m2 0h2M88 182h2m7 0h1m1 0h1m1 0h2m6 0h3m1 0h3m1 0h2m1 0h1m2 0h1m1 0h2M72 183h1m7 0h1m1 0h1m11 0h2m3 0h3m2 0h1m1 0h4m5 0h10M89 184h1m2 0h1m2 0h3m1 0h1m1 0h1m1 0h5m1 0h1m1 0h3m1 0h2m1 0h6m1 0h2M75 185h1m4 0h3m3 0h2m3 0h1m1 0h2m1 0h1m1 0h2m2 0h4m1 0h11m1 0h2m2 0h4M84 186h1m4 0h1m4 0h2m1 0h1m1 0h2m1 0h1m4 0h1m1 0h4m1 0h8m1 0h3M78 187h1m2 0h1m6 0h2m1 0h2m3 0h1m2 0h4m1 0h1m1 0h7m1 0h1m1 0h1m1 0h9M87 188h1m4 0h2m2 0h3m1 0h2m1 0h9m1 0h3m2 0h3m2 0h4M75 189h1m1 0h2m6 0h1m4 0h1m1 0h2m1 0h1m1 0h1m1 0h10m1 0h4m1 0h12M71 190h1m11 0h1m1 0h1m7 0h1m1 0h2m2 0h17m1 0h8M71 191h1m5 0h1m6 0h1m2 0h3m2 0h2m1 0h1m1 0h5m1 0h4m1 0h10m1 0h5m1 0h2M88 192h1m2 0h1m5 0h1m1 0h5m1 0h1m1 0h1m1 0h16m1 0h1M76 193h1m9 0h1m2 0h1m1 0h4m3 0h1m1 0h5m1 0h19m1 0h1M78 194h1m10 0h1m1 0h1m1 0h2m1 0h31M67 195h2m9 0h1m6 0h2m1 0h1m2 0h1m1 0h1m1 0h1m1 0h9m1 0h3m1 0h9m1 0h6M76 196h1m11 0h4m2 0h2m1 0h30M84 197h1m1 0h1m6 0h6m2 0h26M72 198h1m1 0h1m6 0h2m1 0h1m3 0h5m3 0h2m1 0h5m1 0h10m1 0h11M83 199h1m7 0h2m1 0h1m1 0h1m3 0h1m1 0h4m1 0h20M74 200h1m6 0h1m11 0h2m1 0h1m1 0h29M85 201h1m1 0h1m4 0h1m1 0h2m2 0h7m1 0h21M86 202h1m3 0h1m1 0h5m1 0h3m1 0h25M85 203h3m2 0h3m1 0h4m1 0h5m1 0h1m1 0h1m1 0h17M76 204h1m5 0h1m2 0h2m2 0h1m2 0h4m1 0h18m1 0h1m1 0h9M72 205h1m15 0h3m1 0h2m1 0h4m2 0h1m1 0h24M75 206h1m9 0h1m3 0h2m2 0h2m1 0h31M77 207h1m4 0h1m1 0h1m2 0h1m1 0h1m1 0h1m1 0h3m2 0h1m1 0h1m1 0h25M90 208h2m2 0h4m1 0h28M80 209h1m2 0h1m3 0h4m1 0h2m1 0h3m1 0h1m1 0h26M87 210h2m1 0h1m1 0h1m1 0h5m1 0h2m1 0h24M72 211h1m4 0h2m2 0h2m4 0h1m2 0h1m1 0h1m1 0h1m2 0h23m1 0h1m1 0h4M75 212h1m2 0h2m4 0h1m1 0h1m1 0h4m1 0h5m1 0h1m1 0h26M76 213h1m8 0h1m5 0h3m1 0h2m1 0h4m1 0h24M88 214h1m2 0h2m1 0h3m1 0h2m1 0h22m2 0h2M73 215h1m6 0h1m1 0h1m3 0h1m1 0h1m3 0h4m1 0h10m1 0h9m1 0h9M66 216h1m8 0h1m2 0h1m6 0h2m1 0h1m3 0h4m2 0h18m1 0h10M84 217h1m5 0h1m1 0h1m1 0h8m1 0h11m1 0h12M79 218h2m11 0h2m1 0h8m1 0h23M73 219h1m10 0h1m4 0h8m1 0h1m1 0h19m2 0h1m1 0h3M75 220h1m4 0h2m2 0h3m1 0h2m4 0h1m1 0h2m1 0h28M83 221h2m5 0h1m2 0h1m4 0h1m1 0h27M79 222h1m6 0h2m2 0h2m2 0h3m1 0h29M73 223h1m5 0h1m10 0h37M76 224h2m3 0h1m1 0h1m2 0h5m1 0h3m1 0h31M82 225h1m4 0h1m2 0h16m1 0h11m1 0h8M80 226h1m1 0h1m1 0h9m1 0h2m1 0h14m1 0h15M70 227h1m6 0h1m6 0h1m1 0h1m1 0h3m1 0h3m1 0h31M73 228h1m7 0h1m4 0h1m1 0h1m2 0h1m1 0h3m1 0h14m2 0h2m1 0h11M71 229h1m2 0h1m5 0h1m1 0h1m2 0h1m3 0h3m2 0h1m2 0h2m1 0h27M72 230h1m4 0h1m2 0h1m6 0h3m4 0h6m1 0h8m1 0h17M82 231h1m6 0h3m1 0h6m1 0h27M68 232h2m3 0h1m3 0h2m5 0h3m2 0h1m1 0h1m1 0h1m1 0h1m1 0h2m2 0h23m1 0h2M86 233h3m1 0h6m1 0h1m1 0h28M69 234h1m7 0h2m5 0h1m3 0h2m1 0h9m1 0h26M70 235h1m9 0h1m3 0h1m4 0h27m1 0h10M82 236h2m4 0h1m2 0h1m2 0h3m2 0h12m1 0h15M79 237h2m3 0h1m1 0h4m1 0h1m1 0h3m1 0h30M73 238h1m10 0h2m1 0h2m2 0h2m1 0h1m1 0h3m1 0h11m1 0h15M82 239h1m1 0h1m3 0h2m1 0h1m1 0h4m1 0h3m1 0h25M69 240h1m5 0h1m9 0h2m1 0h1m3 0h1m2 0h3m1 0h28M75 241h1m1 0h1m7 0h2m1 0h1m2 0h1m2 0h3m1 0h2m1 0h1m1 0h24M83 242h1m1 0h2m3 0h2m1 0h2m2 0h3m1 0h26M82 243h1m4 0h1m2 0h1m1 0h1m2 0h1m1 0h21m2 0h7M78 244h2m2 0h2m6 0h1m1 0h1m1 0h5m1 0h22m1 0h2m1 0h1M89 245h2m1 0h5m1 0h29M79 246h1m5 0h6m2 0h4m1 0h3m1 0h25M85 247h2m2 0h4m1 0h4m1 0h28M83 248h1m4 0h2m2 0h1m2 0h1m1 0h4m2 0h24M72 249h1m9 0h1m1 0h1m7 0h1m1 0h1m1 0h3m2 0h26M80 250h1m5 0h1m1 0h1m1 0h2m1 0h1m1 0h1m3 0h28M75 251h1m3 0h1m1 0h1m4 0h1m2 0h1m3 0h1m1 0h1m2 0h8m1 0h9m1 0h10M74 252h1m12 0h1m1 0h2m1 0h1m1 0h30m1 0h2M64 253h1m14 0h1m6 0h2m6 0h1m1 0h1m3 0h1m1 0h1m1 0h23M75 254h1m8 0h1m4 0h1m1 0h1m2 0h1m4 0h28M78 255h2m6 0h2m1 0h3m1 0h3m1 0h3m1 0h1m1 0h3m1 0h19M90 256h4m1 0h1m2 0h12m1 0h16M72 257h1m12 0h1m3 0h2m2 0h1m1 0h2m1 0h1m2 0h13m1 0h1m1 0h5m1 0h4M76 258h1m4 0h1m2 0h1m2 0h1m9 0h1m1 0h2m1 0h25M82 259h1m12 0h1m1 0h3m2 0h6m1 0h2m1 0h15M84 260h2m4 0h1m3 0h2m1 0h1m2 0h1m1 0h4m1 0h3m1 0h7m1 0h3m1 0h4M88 261h1m1 0h1m2 0h2m1 0h1m2 0h2m2 0h1m1 0h6m1 0h1m1 0h1m1 0h5m2 0h4M80 262h1m8 0h1m4 0h1m2 0h2m2 0h5m1 0h7m1 0h7m2 0h3M88 263h1m4 0h1m2 0h1m1 0h2m1 0h1m1 0h3m1 0h3m4 0h5m2 0h1m2 0h2M86 264h1m5 0h1m1 0h1m1 0h3m1 0h1m1 0h4m1 0h2m1 0h1m1 0h3m1 0h2m2 0h7M82 265h1m1 0h1m9 0h1m3 0h1m1 0h2m1 0h2m2 0h3m2 0h1m1 0h1m1 0h3m2 0h1m2 0h3M75 266h1m9 0h1m10 0h1m6 0h3m1 0h1m1 0h5m1 0h2m1 0h1m1 0h7M81 267h1m12 0h1m2 0h1m1 0h2m1 0h5m1 0h2m1 0h3m1 0h2m1 0h9M91 268h2m1 0h1m1 0h1m2 0h3m2 0h5m1 0h1m1 0h3m1 0h7m1 0h1m1 0h1M92 269h1m9 0h7m1 0h1m1 0h3m1 0h1m1 0h1m1 0h2m2 0h2M71 270h1m12 0h1m7 0h3m1 0h5m2 0h4m1 0h2m1 0h11m1 0h4M92 271h2m1 0h3m1 0h1m1 0h5m1 0h6m1 0h1m1 0h11M82 272h1m12 0h2m1 0h5m1 0h1m1 0h18m1 0h2M88 273h1m5 0h1m1 0h3m1 0h2m1 0h2m1 0h7m1 0h5m2 0h3m1 0h2M84 274h1m5 0h2m4 0h1m2 0h1m2 0h5m3 0h9m1 0h4m1 0h1M88 275h2m3 0h1m4 0h1m1 0h1m1 0h5m2 0h3m1 0h2m1 0h1m1 0h9M89 276h1m5 0h1m2 0h3m1 0h1m1 0h2m1 0h2m1 0h2m1 0h2m1 0h1m1 0h2m1 0h2m1 0h1m1 0h1M83 277h1m7 0h2m6 0h4m2 0h7m1 0h3m1 0h1m1 0h2m3 0h1m1 0h1M77 278h1m13 0h1m1 0h1m1 0h2m3 0h3m2 0h1m3 0h1m1 0h4m1 0h1m2 0h3m1 0h1m1 0h2" stroke="#000" stroke-width="1.12" fill="none"/>
<rect x="104.1" y="711.2" width="400.1" height="399.3" fill="none" stroke="#000" stroke-width="1.4"/>
<rect x="93.8" y="1105.85" width="10.3" height="2.9" fill="#000"/>
<rect x="93.8" y="1011.75" width="10.3" height="2.9" fill="#000"/>
<rect x="93.8" y="905.95" width="10.3" height="2.9" fill="#000"/>
<rect x="93.8" y="806.15" width="10.3" height="2.9" fill="#000"/>
<rect x="93.8" y="725.55" width="10.3" height="2.9" fill="#000"/>
<rect x="99.2" y="980.6" width="4.9" height="1.5" fill="#000"/>
<rect x="99.2" y="961.97" width="4.9" height="1.5" fill="#000"/>
<rect x="99.2" y="948.75" width="4.9" height="1.5" fill="#000"/>
<rect x="96.6" y="938.5" width="7.5" height="1.5" fill="#000"/>
<rect x="99.2" y="930.12" width="4.9" height="1.5" fill="#000"/>
<rect x="99.2" y="923.04" width="4.9" height="1.5" fill="#000"/>
<rect x="99.2" y="916.9" width="4.9" height="1.5" fill="#000"/>
<rect x="99.2" y="911.49" width="4.9" height="1.5" fill="#000"/>
<rect x="99.2" y="876.61" width="4.9" height="1.5" fill="#000"/>
<rect x="99.2" y="859.03" width="4.9" height="1.5" fill="#000"/>
<rect x="99.2" y="846.56" width="4.9" height="1.5" fill="#000"/>
<rect x="96.6" y="836.89" width="7.5" height="1.5" fill="#000"/>
<rect x="99.2" y="828.99" width="4.9" height="1.5" fill="#000"/>
<rect x="99.2" y="822.31" width="4.9" height="1.5" fill="#000"/>
<rect x="99.2" y="816.52" width="4.9" height="1.5" fill="#000"/>
<rect x="99.2" y="811.42" width="4.9" height="1.5" fill="#000"/>
<rect x="99.2" y="782.59" width="4.9" height="1.5" fill="#000"/>
<rect x="99.2" y="768.39" width="4.9" height="1.5" fill="#000"/>
<rect x="99.2" y="758.32" width="4.9" height="1.5" fill="#000"/>
<rect x="96.6" y="750.51" width="7.5" height="1.5" fill="#000"/>
<rect x="99.2" y="744.13" width="4.9" height="1.5" fill="#000"/>
<rect x="99.2" y="738.74" width="4.9" height="1.5" fill="#000"/>
<rect x="99.2" y="734.06" width="4.9" height="1.5" fill="#000"/>
<rect x="99.2" y="729.94" width="4.9" height="1.5" fill="#000"/>
<rect x="99.1" y="1055.1" width="5" height="10.6" fill="#000"/>
<rect x="96.1" y="1056.29" width="8" height="2.4" fill="#000"/>
<rect x="96.1" y="1062.12" width="8" height="2.4" fill="#000"/>
<rect x="92.6" y="1054" width="11.5" height="2.2" fill="#000"/>
<rect x="92.6" y="1059.3" width="11.5" height="2.2" fill="#000"/>
<rect x="92.6" y="1064.6" width="11.5" height="2.2" fill="#000"/>
<rect x="99.2" y="1045.86" width="4.9" height="1.5" fill="#000"/>
<rect x="99.2" y="1039.79" width="4.9" height="1.5" fill="#000"/>
<rect x="99.2" y="1034.39" width="4.9" height="1.5" fill="#000"/>
<rect x="96.6" y="1029.63" width="7.5" height="1.5" fill="#000"/>
<rect x="99.2" y="1025.42" width="4.9" height="1.5" fill="#000"/>
<rect x="99.2" y="1021.66" width="4.9" height="1.5" fill="#000"/>
<rect x="99.2" y="1018.28" width="4.9" height="1.5" fill="#000"/>
<rect x="99.2" y="1015.23" width="4.9" height="1.5" fill="#000"/>
<rect x="99.2" y="1073.35" width="4.9" height="1.5" fill="#000"/>
<rect x="99.2" y="1079.39" width="4.9" height="1.5" fill="#000"/>
<rect x="99.2" y="1084.74" width="4.9" height="1.5" fill="#000"/>
<rect x="96.6" y="1089.48" width="7.5" height="1.5" fill="#000"/>
<rect x="99.2" y="1093.67" width="4.9" height="1.5" fill="#000"/>
<rect x="99.2" y="1097.4" width="4.9" height="1.5" fill="#000"/>
<rect x="99.2" y="1100.75" width="4.9" height="1.5" fill="#000"/>
<rect x="99.2" y="1103.79" width="4.9" height="1.5" fill="#000"/>
<rect x="170.35" y="1110.5" width="2.9" height="10.3" fill="#000"/>
<rect x="258.65" y="1110.5" width="2.9" height="10.3" fill="#000"/>
<rect x="343.95" y="1110.5" width="2.9" height="10.3" fill="#000"/>
<rect x="426.65" y="1110.5" width="2.9" height="10.3" fill="#000"/>
<rect x="285.03" y="1110.5" width="1.5" height="4.9" fill="#000"/>
<rect x="300.05" y="1110.5" width="1.5" height="4.9" fill="#000"/>
<rect x="310.71" y="1110.5" width="1.5" height="4.9" fill="#000"/>
<rect x="318.97" y="1110.5" width="1.5" height="7.5" fill="#000"/>
<rect x="325.73" y="1110.5" width="1.5" height="4.9" fill="#000"/>
<rect x="331.44" y="1110.5" width="1.5" height="4.9" fill="#000"/>
<rect x="336.38" y="1110.5" width="1.5" height="4.9" fill="#000"/>
<rect x="340.75" y="1110.5" width="1.5" height="4.9" fill="#000"/>
<rect x="369.55" y="1110.5" width="1.5" height="4.9" fill="#000"/>
<rect x="384.11" y="1110.5" width="1.5" height="4.9" fill="#000"/>
<rect x="394.44" y="1110.5" width="1.5" height="4.9" fill="#000"/>
<rect x="402.45" y="1110.5" width="1.5" height="7.5" fill="#000"/>
<rect x="409" y="1110.5" width="1.5" height="4.9" fill="#000"/>
<rect x="414.54" y="1110.5" width="1.5" height="4.9" fill="#000"/>
<rect x="419.34" y="1110.5" width="1.5" height="4.9" fill="#000"/>
<rect x="423.57" y="1110.5" width="1.5" height="4.9" fill="#000"/>
<rect x="452.25" y="1110.5" width="1.5" height="4.9" fill="#000"/>
<rect x="466.81" y="1110.5" width="1.5" height="4.9" fill="#000"/>
<rect x="477.14" y="1110.5" width="1.5" height="4.9" fill="#000"/>
<rect x="485.15" y="1110.5" width="1.5" height="7.5" fill="#000"/>
<rect x="491.7" y="1110.5" width="1.5" height="4.9" fill="#000"/>
<rect x="497.24" y="1110.5" width="1.5" height="4.9" fill="#000"/>
<rect x="209.5" y="1110.5" width="12.2" height="5" fill="#000"/>
<rect x="211.15" y="1110.5" width="2.2" height="7.5" fill="#000"/>
<rect x="217.85" y="1110.5" width="2.2" height="7.5" fill="#000"/>
<rect x="208.1" y="1110.5" width="2.8" height="10.3" fill="#000"/>
<rect x="214.2" y="1110.5" width="2.8" height="10.3" fill="#000"/>
<rect x="220.3" y="1110.5" width="2.8" height="10.3" fill="#000"/>
<rect x="227.85" y="1110.5" width="1.5" height="4.9" fill="#000"/>
<rect x="233.58" y="1110.5" width="1.5" height="4.9" fill="#000"/>
<rect x="238.66" y="1110.5" width="1.5" height="4.9" fill="#000"/>
<rect x="243.15" y="1110.5" width="1.5" height="7.5" fill="#000"/>
<rect x="247.13" y="1110.5" width="1.5" height="4.9" fill="#000"/>
<rect x="250.67" y="1110.5" width="1.5" height="4.9" fill="#000"/>
<rect x="253.85" y="1110.5" width="1.5" height="4.9" fill="#000"/>
<rect x="256.73" y="1110.5" width="1.5" height="4.9" fill="#000"/>
<rect x="202.05" y="1110.5" width="1.5" height="4.9" fill="#000"/>
<rect x="196.42" y="1110.5" width="1.5" height="4.9" fill="#000"/>
<rect x="191.41" y="1110.5" width="1.5" height="4.9" fill="#000"/>
<rect x="186.99" y="1110.5" width="1.5" height="7.5" fill="#000"/>
<rect x="183.08" y="1110.5" width="1.5" height="4.9" fill="#000"/>
<rect x="179.59" y="1110.5" width="1.5" height="4.9" fill="#000"/>
<rect x="176.46" y="1110.5" width="1.5" height="4.9" fill="#000"/>
<rect x="173.63" y="1110.5" width="1.5" height="4.9" fill="#000"/>
<rect x="145.37" y="1110.5" width="1.5" height="4.9" fill="#000"/>
<rect x="130.35" y="1110.5" width="1.5" height="4.9" fill="#000"/>
<rect x="119.69" y="1110.5" width="1.5" height="4.9" fill="#000"/>
<rect x="111.43" y="1110.5" width="1.5" height="7.5" fill="#000"/>
<text transform="translate(215.9,1156) scale(1.08,1)" text-anchor="middle" fill="#101010" font-family="Liberation Sans, Arial, Helvetica, sans-serif" font-size="15.0" stroke="#101010" stroke-width="0.35">0</text>
<text transform="translate(338.1,1156) scale(1.08,1)" fill="#101010" font-family="Liberation Sans, Arial, Helvetica, sans-serif" font-size="15.0" stroke="#101010" stroke-width="0.35">10</text>
<text transform="translate(356,1144) scale(1.08,1)" fill="#101010" font-family="Liberation Sans, Arial, Helvetica, sans-serif" font-size="15.0" stroke="#101010" stroke-width="0.35">3</text>
<text transform="translate(420.8,1156) scale(1.08,1)" fill="#101010" font-family="Liberation Sans, Arial, Helvetica, sans-serif" font-size="15.0" stroke="#101010" stroke-width="0.35">10</text>
<text transform="translate(438.7,1144) scale(1.08,1)" fill="#101010" font-family="Liberation Sans, Arial, Helvetica, sans-serif" font-size="15.0" stroke="#101010" stroke-width="0.35">4</text>
<text transform="translate(57.9,738) scale(1.08,1)" fill="#101010" font-family="Liberation Sans, Arial, Helvetica, sans-serif" font-size="15.0" stroke="#101010" stroke-width="0.35">10</text>
<text transform="translate(75.8,726) scale(1.08,1)" fill="#101010" font-family="Liberation Sans, Arial, Helvetica, sans-serif" font-size="15.0" stroke="#101010" stroke-width="0.35">5</text>
<text transform="translate(57.9,818) scale(1.08,1)" fill="#101010" font-family="Liberation Sans, Arial, Helvetica, sans-serif" font-size="15.0" stroke="#101010" stroke-width="0.35">10</text>
<text transform="translate(75.8,806) scale(1.08,1)" fill="#101010" font-family="Liberation Sans, Arial, Helvetica, sans-serif" font-size="15.0" stroke="#101010" stroke-width="0.35">4</text>
<text transform="translate(57.9,918) scale(1.08,1)" fill="#101010" font-family="Liberation Sans, Arial, Helvetica, sans-serif" font-size="15.0" stroke="#101010" stroke-width="0.35">10</text>
<text transform="translate(75.8,906) scale(1.08,1)" fill="#101010" font-family="Liberation Sans, Arial, Helvetica, sans-serif" font-size="15.0" stroke="#101010" stroke-width="0.35">3</text>
<text transform="translate(57.9,1024) scale(1.08,1)" fill="#101010" font-family="Liberation Sans, Arial, Helvetica, sans-serif" font-size="15.0" stroke="#101010" stroke-width="0.35">10</text>
<text transform="translate(75.8,1012) scale(1.08,1)" fill="#101010" font-family="Liberation Sans, Arial, Helvetica, sans-serif" font-size="15.0" stroke="#101010" stroke-width="0.35">2</text>
<text transform="translate(70.8,1066) scale(1.08,1)" text-anchor="middle" fill="#101010" font-family="Liberation Sans, Arial, Helvetica, sans-serif" font-size="15.0" stroke="#101010" stroke-width="0.35">0</text>
<text transform="translate(54.6,1109) scale(1.08,1)" text-anchor="end" fill="#101010" font-family="Liberation Sans, Arial, Helvetica, sans-serif" font-size="15.0" stroke="#101010" stroke-width="0.35">-</text>
<text transform="translate(55.5,1109) scale(1.08,1)" fill="#101010" font-family="Liberation Sans, Arial, Helvetica, sans-serif" font-size="15.0" stroke="#101010" stroke-width="0.35">10</text>
<text transform="translate(76.6,1097) scale(1.08,1)" fill="#101010" font-family="Liberation Sans, Arial, Helvetica, sans-serif" font-size="15.0" stroke="#101010" stroke-width="0.35">2</text>
<text transform="translate(201,1195.1) scale(0.875,1)" textLength="228.11" lengthAdjust="spacing" font-weight="bold" font-family="Liberation Sans, Arial, Helvetica, sans-serif" font-size="21.6" stroke="#000" stroke-width="0.5">Comp-PE-A :: TIGIT</text>
<text transform="translate(45,1034.7) rotate(-90) scale(0.875,1)" textLength="287.09" lengthAdjust="spacing" font-weight="bold" font-family="Liberation Sans, Arial, Helvetica, sans-serif" font-size="21.6" stroke="#000" stroke-width="0.5">Comp-PE-Cy7-A :: TIM-3</text>
<rect x="188.6" y="788.7" width="163.8" height="139.2" fill="none" stroke="#000" stroke-width="1.4"/>
<rect x="350.8" y="788" width="3.2" height="140.6" fill="#000"/>
<text transform="translate(375.6,857.3)" textLength="42.3" lengthAdjust="spacing" font-weight="bold" font-family="Liberation Sans, Arial, Helvetica, sans-serif" font-size="22.3" stroke="#000" stroke-width="0.3">0.71</text>
<path transform="translate(607.70,711.92) scale(1.430)" d="M133 91h1M133 92h1M134 93h1M135 94h2M135 96h1m2 0h1M141 97h1M138 98h1M134 99h1m5 0h1M132 100h1m4 0h1M132 101h1m7 0h1M132 102h1m1 0h1M138 103h1M138 105h1m1 0h1M133 106h2m4 0h1M134 107h1M135 108h1m1 0h1M137 109h1m1 0h1M134 110h1m4 0h1M133 111h1m1 0h1m1 0h1m2 0h1m5 0h1M136 112h1m2 0h1m3 0h1M135 113h1m3 0h1M133 114h1m5 0h1M132 115h1m3 0h1m2 0h1M133 116h1m1 0h1m1 0h2m7 0h1M132 117h1m6 0h1M134 118h1m1 0h1M132 119h1m2 0h1M132 120h1m5 0h1M136 121h1M135 122h2M132 123h2M133 124h1m1 0h2m2 0h1M132 125h1m6 0h1m2 0h1M139 126h1M135 127h1m2 0h2M133 128h2m2 0h1M132 129h1m2 0h2M132 130h1m5 0h1M133 131h3m2 0h1m5 0h1M132 132h2m1 0h1M142 133h2M132 134h1m1 0h1m2 0h1m1 0h2M132 135h2M132 136h1m1 0h1m8 0h1M132 137h1m1 0h1m1 0h1m2 0h1m7 0h1M132 138h2m2 0h2m3 0h1M134 139h3M133 140h2M132 141h1m8 0h1M132 142h2m2 0h1M133 143h1m4 0h1m7 0h1M132 144h2m2 0h2M133 145h1m1 0h2M138 146h1M134 147h1m3 0h1m1 0h1M134 148h1m1 0h1m2 0h1M132 149h1m2 0h1m3 0h1m3 0h1M137 150h1M133 151h1m3 0h1m4 0h1m1 0h1M133 152h1m7 0h1M134 153h2m3 0h1m5 0h1M132 154h2m1 0h1m6 0h1M133 155h1m5 0h1M133 156h3m3 0h2m1 0h1m3 0h1M133 157h3m2 0h1m5 0h1M140 158h3m2 0h1m3 0h1M132 159h1m2 0h2m1 0h1M135 160h1m3 0h1m2 0h2M132 161h1m1 0h5m13 0h1M133 162h1m7 0h1M132 163h2m2 0h1m1 0h1m1 0h1M133 164h1m2 0h1m1 0h2M132 165h4m3 0h1M132 166h4m4 0h1m1 0h1m6 0h1M132 167h5m6 0h1M132 168h1m1 0h1m6 0h2M132 169h2m7 0h1m2 0h1M132 170h1m2 0h2m3 0h1m2 0h1M132 171h2m2 0h2m5 0h2M132 172h2m1 0h2m2 0h1m4 0h1M132 173h4m2 0h1m3 0h1M132 174h1m1 0h2m2 0h1m1 0h2M132 175h5m7 0h2M132 176h4m1 0h2m1 0h3m4 0h1m2 0h1M132 177h6m2 0h1m2 0h1m5 0h1M132 178h9m1 0h2M132 179h3m1 0h6M132 180h7m2 0h1M132 181h7m2 0h2m2 0h1M132 182h5m1 0h1m1 0h2m1 0h1M132 183h3m1 0h1m1 0h2m2 0h1m2 0h1M132 184h6m1 0h2m3 0h1M132 185h6m1 0h2m1 0h1m1 0h1m6 0h1M132 186h8m1 0h1m1 0h1M132 187h10m5 0h1M132 188h6m2 0h2m1 0h1m4 0h2M132 189h11M132 190h10m3 0h1m3 0h1M132 191h5m1 0h5m3 0h1M132 192h9m2 0h2m3 0h2M132 193h11m2 0h3M132 194h6m1 0h4m1 0h3M132 195h10m1 0h1M132 196h10m2 0h1M132 197h7m3 0h2m7 0h1M132 198h8m1 0h2m1 0h2m3 0h1M132 199h9m1 0h1m1 0h1m2 0h1M132 200h8m2 0h1m1 0h3M132 201h9M132 202h9m3 0h1M132 203h7m1 0h2m2 0h1M132 204h12m2 0h1M132 205h9M132 206h4m2 0h6m1 0h1M132 207h8m1 0h2m6 0h1M132 208h10m1 0h1m1 0h2M132 209h11m1 0h1m2 0h1M132 210h10m1 0h2m5 0h1M132 211h7m1 0h1m3 0h1m1 0h1M132 212h14M132 213h10m2 0h1M132 214h10m2 0h1M132 215h8m2 0h1m6 0h1M132 216h9m1 0h1m5 0h1M132 217h12m7 0h1M132 218h11m1 0h1m1 0h2m1 0h1M132 219h5m1 0h7m1 0h1M132 220h13m1 0h1m3 0h1M132 221h5m1 0h3m2 0h1M132 222h9m1 0h1m2 0h2m1 0h1M132 223h8m1 0h2m1 0h1m1 0h1M132 224h9m1 0h1m2 0h1M132 225h5m1 0h4m2 0h1m4 0h1M132 226h11M132 227h7m2 0h2M132 228h8m1 0h2m3 0h1M132 229h8m3 0h2M132 230h11m1 0h1m1 0h1m1 0h1M132 231h4m1 0h2m1 0h2m1 0h1m4 0h1M132 232h9M132 233h6m1 0h2m1 0h2M132 234h10m1 0h2M132 235h6m2 0h3m2 0h3M132 236h7m1 0h3m3 0h1M132 237h8m1 0h3M132 238h8m1 0h2m1 0h2m1 0h1M132 239h11m3 0h1m1 0h1M132 240h9m4 0h1m1 0h1M132 241h10m3 0h2M132 242h8m1 0h3m7 0h1M132 243h8M132 244h3m1 0h3m1 0h2m8 0h1M132 245h7m1 0h1m1 0h1m1 0h1m1 0h1M132 246h8m2 0h2M132 247h10m1 0h2M132 248h7m1 0h1m1 0h1m2 0h3M132 249h7m1 0h1m1 0h1m1 0h1m1 0h1M132 250h10m1 0h1m1 0h1m1 0h2M132 251h5m1 0h4m2 0h1M132 252h4m1 0h5M132 253h1m1 0h3m1 0h3m2 0h2M132 254h3m1 0h1m1 0h2m3 0h1m2 0h1M132 255h6m1 0h1m3 0h1M132 256h6m2 0h4M132 257h7m1 0h1m4 0h1m1 0h1M134 258h2m2 0h3m1 0h1M132 259h3m1 0h4m1 0h1m1 0h2m4 0h1M132 260h2m1 0h3m1 0h1m1 0h1m3 0h1M132 261h5m4 0h1m3 0h1M132 262h7m2 0h2M132 263h3m1 0h3M133 264h3m4 0h2M132 265h1m2 0h3m2 0h2m1 0h1M132 266h1m1 0h1m1 0h4M132 267h2m1 0h4M133 268h1m2 0h2m1 0h1m2 0h1M132 269h3m1 0h3m1 0h2m5 0h1M132 270h3m1 0h4m1 0h1M133 271h1m1 0h2m1 0h1M134 272h1m1 0h2m1 0h1m3 0h1M132 273h3m11 0h1M136 274h1m2 0h1m2 0h1m1 0h1M132 275h3m2 0h1m4 0h1M134 276h2m1 0h1m3 0h1m1 0h1M133 277h3m2 0h1m7 0h1M132 278h4m1 0h1m3 0h1m1 0h2" stroke="#000" stroke-width="1.12" fill="none"/>
<rect x="607.7" y="711.2" width="400.4" height="399.3" fill="none" stroke="#000" stroke-width="1.4"/>
<rect x="597.4" y="1105.85" width="10.3" height="2.9" fill="#000"/>
<rect x="597.4" y="1011.75" width="10.3" height="2.9" fill="#000"/>
<rect x="597.4" y="905.95" width="10.3" height="2.9" fill="#000"/>
<rect x="597.4" y="806.15" width="10.3" height="2.9" fill="#000"/>
<rect x="597.4" y="725.55" width="10.3" height="2.9" fill="#000"/>
<rect x="602.8" y="980.6" width="4.9" height="1.5" fill="#000"/>
<rect x="602.8" y="961.97" width="4.9" height="1.5" fill="#000"/>
<rect x="602.8" y="948.75" width="4.9" height="1.5" fill="#000"/>
<rect x="600.2" y="938.5" width="7.5" height="1.5" fill="#000"/>
<rect x="602.8" y="930.12" width="4.9" height="1.5" fill="#000"/>
<rect x="602.8" y="923.04" width="4.9" height="1.5" fill="#000"/>
<rect x="602.8" y="916.9" width="4.9" height="1.5" fill="#000"/>
<rect x="602.8" y="911.49" width="4.9" height="1.5" fill="#000"/>
<rect x="602.8" y="876.61" width="4.9" height="1.5" fill="#000"/>
<rect x="602.8" y="859.03" width="4.9" height="1.5" fill="#000"/>
<rect x="602.8" y="846.56" width="4.9" height="1.5" fill="#000"/>
<rect x="600.2" y="836.89" width="7.5" height="1.5" fill="#000"/>
<rect x="602.8" y="828.99" width="4.9" height="1.5" fill="#000"/>
<rect x="602.8" y="822.31" width="4.9" height="1.5" fill="#000"/>
<rect x="602.8" y="816.52" width="4.9" height="1.5" fill="#000"/>
<rect x="602.8" y="811.42" width="4.9" height="1.5" fill="#000"/>
<rect x="602.8" y="782.59" width="4.9" height="1.5" fill="#000"/>
<rect x="602.8" y="768.39" width="4.9" height="1.5" fill="#000"/>
<rect x="602.8" y="758.32" width="4.9" height="1.5" fill="#000"/>
<rect x="600.2" y="750.51" width="7.5" height="1.5" fill="#000"/>
<rect x="602.8" y="744.13" width="4.9" height="1.5" fill="#000"/>
<rect x="602.8" y="738.74" width="4.9" height="1.5" fill="#000"/>
<rect x="602.8" y="734.06" width="4.9" height="1.5" fill="#000"/>
<rect x="602.8" y="729.94" width="4.9" height="1.5" fill="#000"/>
<rect x="602.7" y="1055.1" width="5" height="10.6" fill="#000"/>
<rect x="599.7" y="1056.29" width="8" height="2.4" fill="#000"/>
<rect x="599.7" y="1062.12" width="8" height="2.4" fill="#000"/>
<rect x="596.2" y="1054" width="11.5" height="2.2" fill="#000"/>
<rect x="596.2" y="1059.3" width="11.5" height="2.2" fill="#000"/>
<rect x="596.2" y="1064.6" width="11.5" height="2.2" fill="#000"/>
<rect x="602.8" y="1045.86" width="4.9" height="1.5" fill="#000"/>
<rect x="602.8" y="1039.79" width="4.9" height="1.5" fill="#000"/>
<rect x="602.8" y="1034.39" width="4.9" height="1.5" fill="#000"/>
<rect x="600.2" y="1029.63" width="7.5" height="1.5" fill="#000"/>
<rect x="602.8" y="1025.42" width="4.9" height="1.5" fill="#000"/>
<rect x="602.8" y="1021.66" width="4.9" height="1.5" fill="#000"/>
<rect x="602.8" y="1018.28" width="4.9" height="1.5" fill="#000"/>
<rect x="602.8" y="1015.23" width="4.9" height="1.5" fill="#000"/>
<rect x="602.8" y="1073.35" width="4.9" height="1.5" fill="#000"/>
<rect x="602.8" y="1079.39" width="4.9" height="1.5" fill="#000"/>
<rect x="602.8" y="1084.74" width="4.9" height="1.5" fill="#000"/>
<rect x="600.2" y="1089.48" width="7.5" height="1.5" fill="#000"/>
<rect x="602.8" y="1093.67" width="4.9" height="1.5" fill="#000"/>
<rect x="602.8" y="1097.4" width="4.9" height="1.5" fill="#000"/>
<rect x="602.8" y="1100.75" width="4.9" height="1.5" fill="#000"/>
<rect x="602.8" y="1103.79" width="4.9" height="1.5" fill="#000"/>
<rect x="673.95" y="1110.5" width="2.9" height="10.3" fill="#000"/>
<rect x="762.25" y="1110.5" width="2.9" height="10.3" fill="#000"/>
<rect x="847.55" y="1110.5" width="2.9" height="10.3" fill="#000"/>
<rect x="930.25" y="1110.5" width="2.9" height="10.3" fill="#000"/>
<rect x="788.63" y="1110.5" width="1.5" height="4.9" fill="#000"/>
<rect x="803.65" y="1110.5" width="1.5" height="4.9" fill="#000"/>
<rect x="814.31" y="1110.5" width="1.5" height="4.9" fill="#000"/>
<rect x="822.57" y="1110.5" width="1.5" height="7.5" fill="#000"/>
<rect x="829.33" y="1110.5" width="1.5" height="4.9" fill="#000"/>
<rect x="835.04" y="1110.5" width="1.5" height="4.9" fill="#000"/>
<rect x="839.98" y="1110.5" width="1.5" height="4.9" fill="#000"/>
<rect x="844.35" y="1110.5" width="1.5" height="4.9" fill="#000"/>
<rect x="873.15" y="1110.5" width="1.5" height="4.9" fill="#000"/>
<rect x="887.71" y="1110.5" width="1.5" height="4.9" fill="#000"/>
<rect x="898.04" y="1110.5" width="1.5" height="4.9" fill="#000"/>
<rect x="906.05" y="1110.5" width="1.5" height="7.5" fill="#000"/>
<rect x="912.6" y="1110.5" width="1.5" height="4.9" fill="#000"/>
<rect x="918.14" y="1110.5" width="1.5" height="4.9" fill="#000"/>
<rect x="922.94" y="1110.5" width="1.5" height="4.9" fill="#000"/>
<rect x="927.17" y="1110.5" width="1.5" height="4.9" fill="#000"/>
<rect x="955.85" y="1110.5" width="1.5" height="4.9" fill="#000"/>
<rect x="970.41" y="1110.5" width="1.5" height="4.9" fill="#000"/>
<rect x="980.74" y="1110.5" width="1.5" height="4.9" fill="#000"/>
<rect x="988.75" y="1110.5" width="1.5" height="7.5" fill="#000"/>
<rect x="995.3" y="1110.5" width="1.5" height="4.9" fill="#000"/>
<rect x="1000.84" y="1110.5" width="1.5" height="4.9" fill="#000"/>
<rect x="713.1" y="1110.5" width="12.2" height="5" fill="#000"/>
<rect x="714.75" y="1110.5" width="2.2" height="7.5" fill="#000"/>
<rect x="721.46" y="1110.5" width="2.2" height="7.5" fill="#000"/>
<rect x="711.7" y="1110.5" width="2.8" height="10.3" fill="#000"/>
<rect x="717.8" y="1110.5" width="2.8" height="10.3" fill="#000"/>
<rect x="723.9" y="1110.5" width="2.8" height="10.3" fill="#000"/>
<rect x="731.45" y="1110.5" width="1.5" height="4.9" fill="#000"/>
<rect x="737.18" y="1110.5" width="1.5" height="4.9" fill="#000"/>
<rect x="742.26" y="1110.5" width="1.5" height="4.9" fill="#000"/>
<rect x="746.75" y="1110.5" width="1.5" height="7.5" fill="#000"/>
<rect x="750.73" y="1110.5" width="1.5" height="4.9" fill="#000"/>
<rect x="754.27" y="1110.5" width="1.5" height="4.9" fill="#000"/>
<rect x="757.45" y="1110.5" width="1.5" height="4.9" fill="#000"/>
<rect x="760.33" y="1110.5" width="1.5" height="4.9" fill="#000"/>
<rect x="705.65" y="1110.5" width="1.5" height="4.9" fill="#000"/>
<rect x="700.02" y="1110.5" width="1.5" height="4.9" fill="#000"/>
<rect x="695.01" y="1110.5" width="1.5" height="4.9" fill="#000"/>
<rect x="690.59" y="1110.5" width="1.5" height="7.5" fill="#000"/>
<rect x="686.68" y="1110.5" width="1.5" height="4.9" fill="#000"/>
<rect x="683.19" y="1110.5" width="1.5" height="4.9" fill="#000"/>
<rect x="680.06" y="1110.5" width="1.5" height="4.9" fill="#000"/>
<rect x="677.23" y="1110.5" width="1.5" height="4.9" fill="#000"/>
<rect x="648.97" y="1110.5" width="1.5" height="4.9" fill="#000"/>
<rect x="633.95" y="1110.5" width="1.5" height="4.9" fill="#000"/>
<rect x="623.29" y="1110.5" width="1.5" height="4.9" fill="#000"/>
<rect x="615.03" y="1110.5" width="1.5" height="7.5" fill="#000"/>
<text transform="translate(719.5,1156) scale(1.08,1)" text-anchor="middle" fill="#101010" font-family="Liberation Sans, Arial, Helvetica, sans-serif" font-size="15.0" stroke="#101010" stroke-width="0.35">0</text>
<text transform="translate(841.7,1156) scale(1.08,1)" fill="#101010" font-family="Liberation Sans, Arial, Helvetica, sans-serif" font-size="15.0" stroke="#101010" stroke-width="0.35">10</text>
<text transform="translate(859.6,1144) scale(1.08,1)" fill="#101010" font-family="Liberation Sans, Arial, Helvetica, sans-serif" font-size="15.0" stroke="#101010" stroke-width="0.35">3</text>
<text transform="translate(924.4,1156) scale(1.08,1)" fill="#101010" font-family="Liberation Sans, Arial, Helvetica, sans-serif" font-size="15.0" stroke="#101010" stroke-width="0.35">10</text>
<text transform="translate(942.3,1144) scale(1.08,1)" fill="#101010" font-family="Liberation Sans, Arial, Helvetica, sans-serif" font-size="15.0" stroke="#101010" stroke-width="0.35">4</text>
<text transform="translate(561.5,738) scale(1.08,1)" fill="#101010" font-family="Liberation Sans, Arial, Helvetica, sans-serif" font-size="15.0" stroke="#101010" stroke-width="0.35">10</text>
<text transform="translate(579.4,726) scale(1.08,1)" fill="#101010" font-family="Liberation Sans, Arial, Helvetica, sans-serif" font-size="15.0" stroke="#101010" stroke-width="0.35">5</text>
<text transform="translate(561.5,818) scale(1.08,1)" fill="#101010" font-family="Liberation Sans, Arial, Helvetica, sans-serif" font-size="15.0" stroke="#101010" stroke-width="0.35">10</text>
<text transform="translate(579.4,806) scale(1.08,1)" fill="#101010" font-family="Liberation Sans, Arial, Helvetica, sans-serif" font-size="15.0" stroke="#101010" stroke-width="0.35">4</text>
<text transform="translate(561.5,918) scale(1.08,1)" fill="#101010" font-family="Liberation Sans, Arial, Helvetica, sans-serif" font-size="15.0" stroke="#101010" stroke-width="0.35">10</text>
<text transform="translate(579.4,906) scale(1.08,1)" fill="#101010" font-family="Liberation Sans, Arial, Helvetica, sans-serif" font-size="15.0" stroke="#101010" stroke-width="0.35">3</text>
<text transform="translate(561.5,1024) scale(1.08,1)" fill="#101010" font-family="Liberation Sans, Arial, Helvetica, sans-serif" font-size="15.0" stroke="#101010" stroke-width="0.35">10</text>
<text transform="translate(579.4,1012) scale(1.08,1)" fill="#101010" font-family="Liberation Sans, Arial, Helvetica, sans-serif" font-size="15.0" stroke="#101010" stroke-width="0.35">2</text>
<text transform="translate(574.4,1066) scale(1.08,1)" text-anchor="middle" fill="#101010" font-family="Liberation Sans, Arial, Helvetica, sans-serif" font-size="15.0" stroke="#101010" stroke-width="0.35">0</text>
<text transform="translate(558.2,1109) scale(1.08,1)" text-anchor="end" fill="#101010" font-family="Liberation Sans, Arial, Helvetica, sans-serif" font-size="15.0" stroke="#101010" stroke-width="0.35">-</text>
<text transform="translate(559.1,1109) scale(1.08,1)" fill="#101010" font-family="Liberation Sans, Arial, Helvetica, sans-serif" font-size="15.0" stroke="#101010" stroke-width="0.35">10</text>
<text transform="translate(580.2,1097) scale(1.08,1)" fill="#101010" font-family="Liberation Sans, Arial, Helvetica, sans-serif" font-size="15.0" stroke="#101010" stroke-width="0.35">2</text>
<text transform="translate(704.5,1195.1) scale(0.875,1)" textLength="229.03" lengthAdjust="spacing" font-weight="bold" font-family="Liberation Sans, Arial, Helvetica, sans-serif" font-size="21.6" stroke="#000" stroke-width="0.5">Comp-PE-A :: TIGIT</text>
<text transform="translate(548,1034.7) rotate(-90) scale(0.875,1)" textLength="287.09" lengthAdjust="spacing" font-weight="bold" font-family="Liberation Sans, Arial, Helvetica, sans-serif" font-size="21.6" stroke="#000" stroke-width="0.5">Comp-PE-Cy7-A :: TIM-3</text>
<rect x="751.4" y="793.2" width="157.8" height="136.1" fill="none" stroke="#000" stroke-width="1.4"/>
<rect x="907.6" y="792.5" width="3.2" height="137.5" fill="#000"/>
<text transform="translate(921.6,871.3)" textLength="44.3" lengthAdjust="spacing" font-weight="bold" font-family="Liberation Sans, Arial, Helvetica, sans-serif" font-size="22.3" stroke="#000" stroke-width="0.3">4.15</text>
<path transform="translate(105.20,1301.41) scale(1.430)" d="M110 70h1M88 72h1M116 73h1m9 0h1M115 74h1m2 0h1M112 76h1m3 0h1M103 77h1m3 0h1M103 79h1m15 0h2m1 0h1M111 80h1m4 0h1m8 0h1M91 81h1m16 0h1m8 0h1m4 0h1m2 0h1m1 0h2M111 82h1m1 0h1m2 0h1m6 0h1m3 0h1M95 83h1m9 0h1m4 0h1m5 0h1m2 0h1m2 0h1M107 84h1m5 0h1m5 0h1m3 0h2M98 85h1m4 0h1m4 0h1m2 0h1m2 0h1m8 0h1m1 0h1M94 86h1m8 0h1m3 0h2m1 0h1m3 0h2m4 0h2m2 0h1M96 87h2m9 0h1m5 0h1m1 0h2m4 0h1m3 0h1M84 88h1m8 0h1m3 0h1m1 0h1m3 0h1m6 0h1m5 0h2m2 0h3m1 0h1m2 0h1M104 89h1m3 0h1m3 0h1m1 0h2m2 0h1m1 0h1m1 0h1m1 0h1m1 0h1m1 0h1M97 90h1m2 0h1m1 0h1m5 0h1m3 0h1m1 0h1m1 0h1m1 0h4m1 0h2M82 91h1m28 0h1m2 0h7m1 0h1m1 0h2m1 0h1M87 92h1m2 0h1m8 0h1m7 0h1m1 0h2m1 0h1m2 0h4m2 0h1m2 0h3m1 0h1M87 93h1m3 0h1m8 0h1m1 0h1m1 0h3m1 0h4m1 0h5m2 0h1m2 0h2m1 0h2M84 94h1m3 0h1m11 0h1m6 0h1m1 0h1m1 0h1m1 0h2m3 0h2m4 0h2m1 0h2M99 95h1m9 0h2m1 0h1m1 0h1m1 0h4m4 0h1m1 0h3M69 96h1m22 0h1m5 0h1m2 0h1m6 0h2m3 0h1m1 0h2m1 0h3m1 0h1m1 0h2m2 0h1M88 97h1m5 0h1m2 0h1m8 0h1m1 0h1m1 0h1m1 0h3m2 0h1m1 0h2m2 0h2m1 0h1M82 98h1m15 0h1m2 0h2m3 0h1m3 0h1m1 0h2m1 0h2m1 0h5m1 0h1m2 0h2M88 99h2m4 0h1m2 0h1m2 0h2m4 0h2m1 0h1m2 0h2m1 0h4m1 0h2m1 0h6M88 100h3m6 0h3m4 0h3m3 0h2m1 0h1m2 0h1m1 0h3m1 0h1m1 0h4M88 101h4m12 0h1m1 0h1m1 0h2m1 0h1m1 0h4m2 0h1m1 0h2m2 0h1m2 0h1M82 102h1m12 0h1m1 0h1m4 0h4m1 0h2m1 0h5m1 0h1m2 0h3m1 0h2m1 0h1m1 0h1M87 103h2m6 0h1m5 0h1m1 0h2m6 0h3m2 0h4m3 0h3m1 0h2M86 104h1m6 0h2m2 0h1m6 0h1m2 0h2m1 0h1m3 0h2m1 0h8m1 0h2M77 105h1m11 0h1m3 0h1m3 0h2m3 0h6m3 0h1m1 0h1m2 0h3m2 0h1m1 0h1m1 0h2m1 0h1M84 106h1m3 0h1m7 0h1m1 0h4m1 0h1m8 0h3m3 0h4m3 0h3M86 107h1m5 0h1m1 0h1m2 0h1m1 0h2m5 0h1m6 0h6m1 0h2m1 0h1m1 0h1m2 0h1M90 108h2m2 0h1m1 0h5m1 0h2m1 0h6m2 0h4m1 0h1m1 0h1m1 0h2m1 0h1m1 0h1M73 109h1m9 0h1m9 0h1m2 0h1m1 0h2m5 0h1m1 0h1m1 0h1m1 0h8m1 0h7m1 0h1M92 110h1m2 0h1m2 0h2m4 0h1m2 0h12m1 0h2m3 0h1m1 0h2M78 111h1m6 0h2m6 0h2m2 0h1m1 0h3m1 0h3m1 0h2m1 0h4m2 0h1m3 0h1m1 0h3m2 0h2M84 112h1m1 0h1m1 0h2m1 0h1m7 0h1m1 0h5m2 0h1m1 0h4m2 0h1m3 0h4m2 0h3M83 113h1m9 0h1m2 0h2m2 0h1m2 0h4m1 0h2m2 0h1m1 0h1m1 0h2m4 0h1m2 0h2m1 0h1M88 114h1m2 0h2m10 0h1m1 0h3m1 0h1m3 0h2m2 0h1m1 0h1m1 0h4M69 115h1m11 0h1m12 0h1m9 0h2m1 0h2m4 0h1m2 0h4m1 0h1m1 0h2m1 0h3M79 116h1m1 0h1m10 0h1m6 0h1m2 0h2m2 0h1m1 0h2m1 0h1m1 0h2m1 0h3m6 0h1m2 0h1M75 117h1m12 0h1m6 0h1m2 0h1m3 0h1m2 0h3m1 0h4m1 0h1m1 0h1m1 0h3m1 0h2m1 0h1m1 0h2M88 118h2m1 0h1m3 0h3m2 0h5m4 0h1m4 0h3m1 0h2m2 0h4m1 0h2M97 119h1m3 0h1m1 0h1m4 0h5m1 0h4m1 0h4m1 0h1m3 0h1M81 120h1m2 0h1m2 0h1m2 0h2m2 0h1m3 0h6m3 0h5m1 0h1m2 0h3m1 0h4m2 0h1m1 0h1M89 121h1m4 0h1m5 0h2m2 0h4m2 0h1m1 0h3m1 0h2m1 0h1m2 0h7M71 122h1m7 0h1m5 0h3m4 0h2m3 0h2m2 0h2m1 0h5m1 0h4m1 0h3m1 0h1m2 0h2m1 0h4M84 123h1m1 0h1m2 0h1m2 0h4m5 0h1m1 0h1m1 0h5m1 0h3m1 0h1m2 0h2m1 0h1m4 0h3M79 124h1m4 0h2m13 0h7m1 0h3m1 0h1m1 0h1m2 0h2m2 0h3m2 0h1m1 0h2M84 125h1m2 0h1m1 0h1m6 0h2m1 0h1m1 0h1m1 0h1m1 0h3m2 0h1m3 0h3m1 0h1m1 0h5m1 0h2M72 126h1m14 0h2m1 0h1m1 0h1m2 0h2m3 0h1m1 0h2m1 0h2m1 0h1m5 0h4m1 0h2m1 0h4m2 0h1M74 127h1m11 0h1m4 0h1m3 0h2m1 0h1m2 0h1m1 0h1m1 0h3m1 0h2m1 0h4m1 0h9m1 0h2M89 128h1m1 0h1m2 0h1m1 0h1m2 0h1m1 0h2m1 0h1m3 0h2m4 0h1m1 0h1m2 0h2m1 0h2m1 0h3M87 129h1m2 0h1m2 0h1m1 0h3m1 0h1m2 0h1m1 0h2m1 0h15m1 0h6M72 130h2m14 0h1m1 0h2m1 0h1m2 0h1m5 0h1m2 0h2m1 0h1m1 0h7m2 0h2m1 0h1m4 0h2M79 131h1m7 0h1m2 0h1m1 0h2m3 0h1m1 0h1m3 0h1m1 0h1m1 0h4m2 0h12m2 0h2M72 132h1m10 0h1m6 0h2m1 0h1m2 0h1m9 0h2m1 0h2m2 0h7m1 0h2m1 0h1M65 133h1m10 0h1m7 0h1m5 0h2m1 0h1m2 0h1m1 0h1m1 0h1m2 0h4m4 0h8m1 0h2m1 0h1m2 0h3M90 134h2m2 0h2m2 0h1m1 0h1m1 0h1m1 0h1m3 0h3m1 0h3m1 0h5m1 0h2m4 0h1M77 135h1m1 0h1m1 0h1m11 0h2m2 0h1m3 0h1m1 0h1m2 0h1m1 0h4m3 0h3m2 0h1m1 0h1m1 0h2m1 0h2M86 136h1m7 0h2m2 0h3m1 0h1m2 0h1m1 0h5m1 0h1m2 0h4m1 0h1m1 0h1m2 0h3M79 137h1m2 0h2m6 0h1m5 0h1m3 0h2m1 0h1m1 0h7m4 0h5m2 0h4m1 0h1M84 138h1m3 0h1m4 0h5m1 0h1m1 0h3m1 0h2m1 0h1m1 0h2m1 0h3m1 0h1m1 0h1m1 0h2m2 0h2m1 0h1M81 139h1m5 0h2m3 0h1m1 0h1m2 0h1m4 0h4m1 0h6m1 0h5m1 0h3m1 0h1m1 0h1M86 140h1m7 0h2m2 0h2m4 0h1m2 0h2m1 0h3m1 0h3m1 0h1m3 0h3m1 0h3M82 141h1m1 0h1m4 0h1m3 0h1m5 0h7m1 0h2m1 0h1m5 0h3m1 0h2m2 0h4M84 142h1m2 0h1m2 0h1m1 0h2m1 0h2m1 0h5m2 0h1m1 0h2m1 0h3m1 0h1m1 0h3m2 0h1m3 0h4M90 143h3m1 0h1m1 0h2m2 0h1m1 0h2m1 0h1m1 0h6m1 0h3m2 0h2m1 0h7M77 144h1m3 0h1m6 0h1m2 0h2m10 0h1m2 0h4m1 0h2m1 0h2m2 0h4m2 0h5M84 145h1m3 0h1m4 0h2m1 0h4m5 0h6m1 0h1m1 0h4m1 0h3m1 0h1m2 0h1M68 146h1m7 0h1m10 0h1m2 0h1m4 0h3m1 0h1m1 0h4m2 0h3m1 0h1m1 0h3m1 0h7m2 0h2M67 147h1m4 0h1m4 0h1m4 0h1m4 0h1m1 0h1m3 0h3m2 0h1m3 0h2m4 0h4m1 0h4m3 0h3m1 0h1m1 0h1M79 148h1m8 0h2m9 0h6m1 0h4m1 0h2m2 0h8m1 0h1m1 0h1m1 0h1M78 149h1m3 0h1m4 0h2m2 0h1m3 0h1m1 0h1m1 0h3m2 0h3m2 0h3m3 0h1m1 0h12M87 150h1m4 0h1m1 0h2m1 0h1m1 0h7m3 0h3m1 0h3m3 0h1m1 0h1m2 0h1m1 0h3M78 151h1m4 0h1m9 0h3m3 0h1m1 0h5m1 0h2m1 0h2m1 0h1m2 0h1m2 0h7m1 0h1M68 152h1m2 0h1m12 0h1m11 0h1m1 0h3m3 0h1m1 0h1m1 0h3m2 0h1m1 0h1m1 0h6m3 0h3M74 153h1m10 0h3m1 0h2m1 0h1m2 0h2m1 0h3m3 0h2m1 0h3m1 0h4m1 0h1m1 0h3m1 0h2m1 0h2M81 154h1m7 0h1m5 0h1m1 0h1m1 0h1m1 0h1m6 0h9m1 0h1m1 0h1m2 0h4m1 0h1M72 155h1m9 0h1m3 0h1m1 0h3m8 0h2m1 0h3m1 0h1m1 0h1m1 0h3m2 0h2m1 0h1m1 0h4m1 0h3M94 156h1m2 0h3m1 0h3m1 0h1m1 0h1m1 0h10m1 0h3m2 0h4M85 157h1m4 0h1m7 0h1m1 0h1m1 0h1m1 0h1m2 0h2m1 0h4m1 0h5m1 0h3m2 0h2M97 158h4m2 0h2m4 0h9m1 0h1m1 0h6m1 0h1M87 159h1m1 0h1m3 0h1m5 0h2m1 0h1m1 0h3m1 0h1m1 0h7m1 0h8m1 0h1M89 160h3m3 0h1m1 0h2m2 0h4m1 0h7m1 0h1m1 0h1m2 0h6m2 0h2M74 161h1m5 0h1m3 0h1m7 0h2m3 0h3m4 0h1m3 0h6m1 0h7m1 0h5M67 162h1m22 0h1m1 0h5m1 0h3m1 0h3m1 0h2m2 0h6m1 0h3m1 0h1m1 0h6M89 163h3m1 0h1m2 0h1m3 0h6m1 0h4m1 0h17M76 164h1m7 0h1m1 0h1m2 0h2m2 0h1m2 0h1m1 0h5m1 0h18m2 0h2m1 0h2M85 165h1m4 0h1m4 0h1m1 0h2m1 0h3m1 0h3m1 0h3m1 0h17M83 166h1m3 0h1m3 0h4m1 0h1m1 0h1m1 0h5m1 0h3m1 0h1m1 0h1m1 0h13M88 167h1m2 0h1m1 0h1m1 0h1m2 0h2m1 0h3m1 0h15m1 0h8M75 168h1m11 0h1m4 0h1m2 0h4m1 0h3m1 0h16m1 0h8M70 169h1m2 0h1m8 0h1m6 0h1m4 0h1m1 0h2m2 0h2m1 0h4m1 0h12m1 0h8M92 170h1m2 0h1m1 0h1m3 0h2m1 0h6m1 0h18M84 171h1m7 0h3m1 0h3m2 0h28M75 172h2m9 0h1m2 0h6m1 0h25m1 0h7M63 173h1m16 0h1m2 0h1m3 0h1m2 0h1m1 0h1m3 0h1m1 0h31M73 174h1m10 0h2m3 0h5m1 0h34M78 175h1m10 0h3m1 0h2m1 0h33M78 176h1m3 0h1m1 0h1m6 0h1m1 0h1m1 0h34M76 177h2m4 0h2m1 0h1m1 0h1m3 0h1m1 0h7m1 0h19m1 0h8M79 178h1m2 0h1m1 0h1m1 0h3m1 0h2m2 0h3m1 0h7m1 0h23M74 179h1m9 0h2m1 0h1m2 0h5m1 0h33M65 180h1m12 0h1m4 0h1m2 0h1m1 0h3m2 0h1m1 0h1m1 0h11m1 0h5m1 0h14M69 181h1m6 0h1m8 0h2m2 0h3m1 0h1m1 0h34M80 182h1m1 0h5m1 0h3m2 0h2m1 0h29m1 0h3M82 183h1m2 0h1m2 0h2m3 0h36M81 184h1m3 0h5m1 0h20m1 0h17M72 185h1m10 0h7m2 0h2m2 0h15m1 0h17M69 186h1m9 0h1m1 0h1m2 0h1m3 0h1m1 0h5m1 0h7m1 0h13m1 0h11M76 187h1m5 0h3m1 0h2m1 0h40M70 188h1m2 0h2m3 0h1m5 0h1m3 0h1m1 0h7m1 0h4m1 0h14m1 0h11M70 189h1m10 0h8m2 0h38M80 190h1m1 0h4m1 0h1m3 0h2m1 0h7m1 0h27M67 191h1m10 0h1m3 0h1m1 0h5m1 0h5m2 0h5m1 0h5m1 0h20M62 192h1m8 0h1m4 0h1m4 0h1m3 0h1m1 0h1m1 0h4m1 0h2m1 0h12m1 0h19M67 193h1m12 0h1m3 0h1m1 0h2m1 0h1m1 0h6m1 0h31M66 194h1m8 0h1m7 0h1m3 0h1m3 0h2m1 0h1m1 0h16m1 0h3m1 0h1m1 0h10M76 195h1m5 0h1m5 0h2m3 0h2m1 0h33M74 196h1m3 0h1m3 0h2m4 0h3m6 0h28m1 0h3M76 197h2m5 0h1m2 0h2m2 0h2m1 0h2m1 0h33M81 198h1m8 0h3m1 0h25m1 0h9M72 199h1m3 0h1m3 0h1m5 0h1m3 0h1m1 0h2m1 0h4m1 0h5m1 0h23M83 200h2m2 0h1m3 0h5m1 0h19m1 0h12M86 201h1m4 0h2m2 0h2m1 0h31M79 202h1m2 0h2m6 0h1m2 0h2m2 0h1m1 0h30M75 203h1m4 0h1m2 0h1m2 0h2m1 0h1m2 0h1m2 0h20m1 0h13M69 204h1m6 0h1m10 0h1m4 0h2m1 0h4m1 0h3m1 0h25M75 205h1m11 0h2m3 0h2m1 0h1m1 0h2m1 0h6m1 0h22M66 206h1m18 0h1m4 0h3m1 0h5m2 0h19m1 0h8M87 207h1m4 0h2m1 0h3m1 0h1m2 0h12m1 0h14M74 208h1m11 0h1m5 0h3m2 0h1m2 0h2m1 0h13m1 0h12M83 209h1m4 0h2m1 0h4m1 0h2m1 0h30M80 210h1m3 0h1m2 0h3m1 0h1m1 0h1m2 0h14m1 0h18M82 211h1m2 0h1m1 0h1m2 0h2m3 0h1m1 0h1m1 0h2m1 0h2m1 0h2m1 0h21M83 212h1m2 0h1m8 0h2m1 0h1m2 0h1m1 0h26M86 213h2m7 0h3m1 0h1m2 0h5m2 0h20M79 214h1m11 0h1m1 0h4m3 0h3m2 0h17m1 0h1m1 0h4M87 215h1m4 0h2m5 0h1m1 0h2m1 0h1m1 0h1m1 0h21M90 216h1m2 0h1m1 0h1m2 0h4m2 0h4m1 0h7m1 0h7m1 0h4M84 217h1m7 0h1m2 0h1m1 0h4m1 0h1m1 0h4m1 0h6m1 0h5m2 0h5M75 218h1m15 0h1m2 0h1m1 0h1m2 0h1m1 0h2m2 0h7m2 0h9m1 0h1m1 0h3M75 219h1m13 0h3m1 0h1m1 0h1m1 0h2m1 0h3m2 0h2m1 0h1m1 0h4m1 0h14M85 220h1m6 0h1m2 0h1m4 0h1m1 0h12m1 0h1m1 0h1m2 0h7m1 0h1M78 221h1m10 0h1m2 0h1m3 0h1m1 0h4m2 0h1m1 0h1m2 0h1m1 0h1m1 0h9m1 0h6M79 222h1m7 0h1m5 0h1m4 0h1m1 0h6m1 0h2m1 0h3m1 0h5m3 0h2m1 0h1m1 0h2M87 223h1m4 0h2m2 0h1m2 0h1m1 0h1m1 0h7m1 0h3m6 0h3m1 0h2m1 0h2M77 224h1m2 0h1m6 0h1m2 0h1m6 0h3m1 0h1m5 0h3m1 0h1m1 0h4m1 0h3m2 0h6M84 225h1m4 0h1m7 0h1m2 0h4m2 0h4m1 0h1m2 0h3m2 0h1m1 0h2m1 0h3m1 0h1M86 226h1m5 0h2m2 0h1m3 0h1m2 0h1m1 0h1m1 0h3m4 0h3m1 0h5m1 0h4M90 227h1m7 0h1m2 0h1m1 0h1m1 0h2m1 0h7m1 0h2m1 0h5m1 0h1m2 0h1M92 228h1m5 0h2m6 0h1m1 0h5m3 0h1m2 0h2m1 0h1m1 0h1m2 0h1M78 229h1m2 0h1m4 0h1m4 0h1m7 0h2m2 0h1m2 0h2m1 0h2m2 0h1m1 0h1m1 0h3m1 0h2m2 0h1m1 0h1M91 230h1m2 0h2m7 0h1m5 0h9m1 0h4m4 0h2M74 231h1m19 0h1m4 0h1m4 0h2m4 0h7m2 0h1m1 0h1m1 0h1m1 0h1m1 0h1M76 232h1m6 0h1m7 0h2m8 0h4m2 0h2m2 0h2m1 0h3m1 0h4m1 0h4M93 233h1m2 0h1m2 0h2m1 0h1m1 0h3m2 0h1m1 0h1m4 0h1m1 0h1m1 0h1m1 0h3m1 0h3M93 234h1m3 0h1m2 0h1m4 0h1m4 0h1m3 0h1m1 0h3m1 0h2m2 0h2m2 0h1M87 235h1m3 0h2m2 0h1m7 0h1m3 0h2m3 0h1m1 0h1m1 0h1m4 0h6m1 0h1M86 236h1m8 0h1m6 0h1m1 0h3m2 0h3m3 0h2m1 0h2m1 0h2m1 0h1m1 0h1M96 237h1m8 0h1m1 0h2m2 0h2m11 0h4M90 238h1m2 0h1m5 0h1m2 0h4m1 0h1m1 0h2m4 0h2m1 0h1m1 0h4m1 0h1m1 0h2M87 239h1m5 0h1m5 0h1m3 0h3m2 0h1m1 0h2m3 0h1m4 0h1m1 0h2M86 240h1m6 0h1m3 0h1m5 0h1m1 0h1m4 0h1m1 0h3m2 0h2m2 0h2m2 0h1M93 241h1m5 0h1m2 0h1m6 0h1m1 0h1m1 0h1m3 0h1m2 0h3m1 0h4M73 242h1m8 0h1m9 0h2m2 0h1m3 0h2m6 0h2m1 0h2m1 0h1m3 0h2m1 0h3m1 0h3M82 243h1m7 0h1m5 0h2m4 0h1m1 0h1m6 0h1m1 0h2m3 0h1m1 0h1m2 0h2m3 0h1M77 244h1m11 0h1m1 0h1m11 0h5m1 0h1m1 0h1m1 0h1m1 0h1m1 0h1m1 0h3m3 0h1m1 0h2M75 245h1m14 0h1m5 0h1m4 0h3m1 0h2m3 0h1m1 0h3m2 0h1m2 0h2m2 0h2m1 0h1M88 246h6m8 0h2m6 0h1m1 0h2m9 0h1m1 0h3M90 247h1m2 0h1m3 0h2m3 0h1m1 0h2m4 0h1m2 0h4m3 0h1m1 0h1m1 0h2M90 248h1m7 0h1m1 0h1m1 0h1m2 0h1m3 0h1m1 0h2m1 0h1m2 0h1m2 0h1m1 0h5M86 249h1m1 0h1m4 0h1m3 0h1m2 0h1m2 0h3m3 0h1m3 0h1m2 0h1m9 0h3M79 250h1m20 0h1m2 0h3m1 0h1m9 0h1m1 0h1m5 0h1m2 0h1M84 251h1m10 0h1m2 0h2m2 0h1m4 0h1m3 0h1m1 0h1m2 0h1m1 0h1m2 0h1m4 0h3M77 252h1m21 0h1m2 0h1m1 0h2m3 0h1m1 0h1m2 0h1m3 0h2m2 0h2m1 0h2m1 0h1M91 253h1m6 0h1m1 0h1m3 0h2m4 0h1m2 0h1m4 0h1m1 0h1m1 0h1m2 0h2m1 0h1M84 254h1m2 0h1m11 0h3m1 0h1m6 0h2m1 0h2m1 0h2m1 0h1m1 0h1m1 0h1m1 0h1M72 255h1m13 0h1m7 0h1m1 0h2m2 0h1m6 0h2m2 0h1m4 0h1m2 0h1m4 0h2M86 256h1m3 0h2m2 0h3m6 0h3m2 0h1m1 0h1m1 0h1m3 0h1m2 0h1m1 0h1m3 0h3M88 257h1m5 0h1m9 0h1m1 0h1m2 0h1m1 0h1m2 0h4m1 0h1m2 0h1M94 258h2m2 0h1m11 0h1m1 0h1m4 0h1m6 0h1M94 259h1m13 0h1m8 0h1m2 0h3m2 0h1M92 260h1m1 0h1m3 0h2m1 0h1m2 0h1m1 0h3m1 0h1m1 0h1m1 0h1m4 0h1m1 0h1m2 0h3m1 0h1M86 261h1m5 0h3m9 0h1m1 0h2m2 0h1m8 0h1m5 0h3M91 262h1m12 0h1m3 0h2m1 0h2m6 0h2m5 0h1m1 0h1M98 263h1m6 0h1m6 0h2m2 0h1m1 0h1m3 0h1m1 0h1m2 0h1M81 264h1m10 0h1m16 0h1m1 0h2m2 0h1m1 0h1m1 0h1m4 0h1m1 0h2M65 265h1m12 0h1m13 0h1m9 0h1m2 0h1m12 0h1m2 0h1m4 0h1M86 266h1m13 0h1m3 0h1m3 0h1m1 0h1m1 0h2m1 0h1m5 0h2m2 0h1M102 267h2m1 0h2m2 0h1m2 0h1m7 0h6M97 268h1m1 0h1m4 0h1m1 0h1m3 0h1m2 0h1m2 0h2m5 0h1m1 0h1M88 269h1m6 0h1m6 0h1m3 0h1m2 0h2m1 0h2m1 0h1m2 0h1m3 0h3m2 0h1M94 270h2m1 0h4m2 0h1m1 0h4m2 0h1m1 0h1m1 0h1m1 0h1m1 0h2m1 0h1m1 0h1M90 271h1m1 0h1m3 0h1m7 0h1m1 0h2m6 0h1m4 0h2m1 0h1m1 0h1M86 272h1m10 0h1m10 0h1m3 0h2m2 0h1m6 0h1M107 273h1m1 0h1m4 0h1m4 0h3m4 0h1M86 274h1m14 0h1m2 0h1m3 0h1m4 0h1m5 0h1m4 0h1m2 0h1M74 275h1m21 0h1m19 0h2m2 0h3m3 0h1M82 276h1m12 0h1m3 0h1m2 0h1m9 0h1m8 0h1m2 0h2m2 0h1M90 277h1m7 0h1m3 0h1m5 0h3m2 0h3m2 0h2m3 0h1M109 278h1m10 0h2m6 0h1M92 279h1m8 0h1m4 0h1m8 0h1m3 0h1m2 0h2m1 0h1M96 280h1m12 0h1m2 0h2m6 0h1m4 0h2M94 281h1m1 0h1m3 0h2m3 0h1m2 0h1m11 0h1m6 0h1M69 282h1m23 0h2m9 0h1m3 0h1m9 0h2m7 0h1M83 283h1m11 0h1m3 0h1m3 0h1m8 0h1m6 0h3m1 0h1m1 0h2M81 284h1m14 0h3m5 0h1m3 0h2m8 0h2m2 0h1m2 0h1M82 285h1m25 0h1m1 0h1m1 0h2m1 0h1m1 0h1m2 0h1" stroke="#000" stroke-width="1.12" fill="none"/>
<rect x="105.2" y="1300.7" width="407.8" height="408.9" fill="none" stroke="#000" stroke-width="1.4"/>
<rect x="94.9" y="1608.95" width="10.3" height="2.9" fill="#000"/>
<rect x="94.9" y="1516.15" width="10.3" height="2.9" fill="#000"/>
<rect x="94.9" y="1424.85" width="10.3" height="2.9" fill="#000"/>
<rect x="94.9" y="1334.85" width="10.3" height="2.9" fill="#000"/>
<rect x="100.3" y="1581.71" width="4.9" height="1.5" fill="#000"/>
<rect x="100.3" y="1565.37" width="4.9" height="1.5" fill="#000"/>
<rect x="100.3" y="1553.78" width="4.9" height="1.5" fill="#000"/>
<rect x="97.7" y="1544.79" width="7.5" height="1.5" fill="#000"/>
<rect x="100.3" y="1537.44" width="4.9" height="1.5" fill="#000"/>
<rect x="100.3" y="1531.22" width="4.9" height="1.5" fill="#000"/>
<rect x="100.3" y="1525.84" width="4.9" height="1.5" fill="#000"/>
<rect x="100.3" y="1521.1" width="4.9" height="1.5" fill="#000"/>
<rect x="100.3" y="1489.37" width="4.9" height="1.5" fill="#000"/>
<rect x="100.3" y="1473.29" width="4.9" height="1.5" fill="#000"/>
<rect x="100.3" y="1461.88" width="4.9" height="1.5" fill="#000"/>
<rect x="97.7" y="1453.03" width="7.5" height="1.5" fill="#000"/>
<rect x="100.3" y="1445.8" width="4.9" height="1.5" fill="#000"/>
<rect x="100.3" y="1439.69" width="4.9" height="1.5" fill="#000"/>
<rect x="100.3" y="1434.4" width="4.9" height="1.5" fill="#000"/>
<rect x="100.3" y="1429.73" width="4.9" height="1.5" fill="#000"/>
<rect x="100.3" y="1398.46" width="4.9" height="1.5" fill="#000"/>
<rect x="100.3" y="1382.61" width="4.9" height="1.5" fill="#000"/>
<rect x="100.3" y="1371.36" width="4.9" height="1.5" fill="#000"/>
<rect x="97.7" y="1362.64" width="7.5" height="1.5" fill="#000"/>
<rect x="100.3" y="1355.52" width="4.9" height="1.5" fill="#000"/>
<rect x="100.3" y="1349.49" width="4.9" height="1.5" fill="#000"/>
<rect x="100.3" y="1344.27" width="4.9" height="1.5" fill="#000"/>
<rect x="100.3" y="1339.67" width="4.9" height="1.5" fill="#000"/>
<rect x="100.3" y="1308.46" width="4.9" height="1.5" fill="#000"/>
<rect x="100.2" y="1673.8" width="5" height="23" fill="#000"/>
<rect x="97.2" y="1677.78" width="8" height="2.4" fill="#000"/>
<rect x="97.2" y="1690.43" width="8" height="2.4" fill="#000"/>
<rect x="93.7" y="1672.7" width="11.5" height="2.2" fill="#000"/>
<rect x="93.7" y="1684.2" width="11.5" height="2.2" fill="#000"/>
<rect x="93.7" y="1695.7" width="11.5" height="2.2" fill="#000"/>
<rect x="100.3" y="1662.67" width="4.9" height="1.5" fill="#000"/>
<rect x="100.3" y="1653.03" width="4.9" height="1.5" fill="#000"/>
<rect x="100.3" y="1644.47" width="4.9" height="1.5" fill="#000"/>
<rect x="97.7" y="1636.92" width="7.5" height="1.5" fill="#000"/>
<rect x="100.3" y="1630.22" width="4.9" height="1.5" fill="#000"/>
<rect x="100.3" y="1624.26" width="4.9" height="1.5" fill="#000"/>
<rect x="100.3" y="1618.91" width="4.9" height="1.5" fill="#000"/>
<rect x="100.3" y="1614.06" width="4.9" height="1.5" fill="#000"/>
<rect x="100.3" y="1706.43" width="4.9" height="1.5" fill="#000"/>
<rect x="172.65" y="1709.6" width="2.9" height="10.3" fill="#000"/>
<rect x="262.55" y="1709.6" width="2.9" height="10.3" fill="#000"/>
<rect x="350.25" y="1709.6" width="2.9" height="10.3" fill="#000"/>
<rect x="434.25" y="1709.6" width="2.9" height="10.3" fill="#000"/>
<rect x="289.65" y="1709.6" width="1.5" height="4.9" fill="#000"/>
<rect x="305.09" y="1709.6" width="1.5" height="4.9" fill="#000"/>
<rect x="316.05" y="1709.6" width="1.5" height="4.9" fill="#000"/>
<rect x="324.55" y="1709.6" width="1.5" height="7.5" fill="#000"/>
<rect x="331.49" y="1709.6" width="1.5" height="4.9" fill="#000"/>
<rect x="337.37" y="1709.6" width="1.5" height="4.9" fill="#000"/>
<rect x="342.45" y="1709.6" width="1.5" height="4.9" fill="#000"/>
<rect x="346.94" y="1709.6" width="1.5" height="4.9" fill="#000"/>
<rect x="376.24" y="1709.6" width="1.5" height="4.9" fill="#000"/>
<rect x="391.03" y="1709.6" width="1.5" height="4.9" fill="#000"/>
<rect x="401.52" y="1709.6" width="1.5" height="4.9" fill="#000"/>
<rect x="409.66" y="1709.6" width="1.5" height="7.5" fill="#000"/>
<rect x="416.31" y="1709.6" width="1.5" height="4.9" fill="#000"/>
<rect x="421.94" y="1709.6" width="1.5" height="4.9" fill="#000"/>
<rect x="426.81" y="1709.6" width="1.5" height="4.9" fill="#000"/>
<rect x="431.11" y="1709.6" width="1.5" height="4.9" fill="#000"/>
<rect x="460.24" y="1709.6" width="1.5" height="4.9" fill="#000"/>
<rect x="475.03" y="1709.6" width="1.5" height="4.9" fill="#000"/>
<rect x="485.52" y="1709.6" width="1.5" height="4.9" fill="#000"/>
<rect x="493.66" y="1709.6" width="1.5" height="7.5" fill="#000"/>
<rect x="500.31" y="1709.6" width="1.5" height="4.9" fill="#000"/>
<rect x="505.94" y="1709.6" width="1.5" height="4.9" fill="#000"/>
<rect x="212.5" y="1709.6" width="11.6" height="5" fill="#000"/>
<rect x="214.01" y="1709.6" width="2.2" height="7.5" fill="#000"/>
<rect x="220.39" y="1709.6" width="2.2" height="7.5" fill="#000"/>
<rect x="211.1" y="1709.6" width="2.8" height="10.3" fill="#000"/>
<rect x="216.9" y="1709.6" width="2.8" height="10.3" fill="#000"/>
<rect x="222.7" y="1709.6" width="2.8" height="10.3" fill="#000"/>
<rect x="230.9" y="1709.6" width="1.5" height="4.9" fill="#000"/>
<rect x="236.78" y="1709.6" width="1.5" height="4.9" fill="#000"/>
<rect x="242" y="1709.6" width="1.5" height="4.9" fill="#000"/>
<rect x="246.61" y="1709.6" width="1.5" height="7.5" fill="#000"/>
<rect x="250.7" y="1709.6" width="1.5" height="4.9" fill="#000"/>
<rect x="254.34" y="1709.6" width="1.5" height="4.9" fill="#000"/>
<rect x="257.6" y="1709.6" width="1.5" height="4.9" fill="#000"/>
<rect x="260.56" y="1709.6" width="1.5" height="4.9" fill="#000"/>
<rect x="204.64" y="1709.6" width="1.5" height="4.9" fill="#000"/>
<rect x="198.95" y="1709.6" width="1.5" height="4.9" fill="#000"/>
<rect x="193.9" y="1709.6" width="1.5" height="4.9" fill="#000"/>
<rect x="189.44" y="1709.6" width="1.5" height="7.5" fill="#000"/>
<rect x="185.49" y="1709.6" width="1.5" height="4.9" fill="#000"/>
<rect x="181.97" y="1709.6" width="1.5" height="4.9" fill="#000"/>
<rect x="178.81" y="1709.6" width="1.5" height="4.9" fill="#000"/>
<rect x="175.95" y="1709.6" width="1.5" height="4.9" fill="#000"/>
<rect x="146.95" y="1709.6" width="1.5" height="4.9" fill="#000"/>
<rect x="131.51" y="1709.6" width="1.5" height="4.9" fill="#000"/>
<rect x="120.55" y="1709.6" width="1.5" height="4.9" fill="#000"/>
<rect x="112.05" y="1709.6" width="1.5" height="7.5" fill="#000"/>
<text transform="translate(218.6,1755) scale(1.08,1)" text-anchor="middle" fill="#101010" font-family="Liberation Sans, Arial, Helvetica, sans-serif" font-size="15.0" stroke="#101010" stroke-width="0.35">0</text>
<text transform="translate(344.4,1755) scale(1.08,1)" fill="#101010" font-family="Liberation Sans, Arial, Helvetica, sans-serif" font-size="15.0" stroke="#101010" stroke-width="0.35">10</text>
<text transform="translate(362.3,1743) scale(1.08,1)" fill="#101010" font-family="Liberation Sans, Arial, Helvetica, sans-serif" font-size="15.0" stroke="#101010" stroke-width="0.35">3</text>
<text transform="translate(428.4,1755) scale(1.08,1)" fill="#101010" font-family="Liberation Sans, Arial, Helvetica, sans-serif" font-size="15.0" stroke="#101010" stroke-width="0.35">10</text>
<text transform="translate(446.3,1743) scale(1.08,1)" fill="#101010" font-family="Liberation Sans, Arial, Helvetica, sans-serif" font-size="15.0" stroke="#101010" stroke-width="0.35">4</text>
<text transform="translate(59,1347) scale(1.08,1)" fill="#101010" font-family="Liberation Sans, Arial, Helvetica, sans-serif" font-size="15.0" stroke="#101010" stroke-width="0.35">10</text>
<text transform="translate(76.9,1335) scale(1.08,1)" fill="#101010" font-family="Liberation Sans, Arial, Helvetica, sans-serif" font-size="15.0" stroke="#101010" stroke-width="0.35">5</text>
<text transform="translate(59,1437) scale(1.08,1)" fill="#101010" font-family="Liberation Sans, Arial, Helvetica, sans-serif" font-size="15.0" stroke="#101010" stroke-width="0.35">10</text>
<text transform="translate(76.9,1425) scale(1.08,1)" fill="#101010" font-family="Liberation Sans, Arial, Helvetica, sans-serif" font-size="15.0" stroke="#101010" stroke-width="0.35">4</text>
<text transform="translate(59,1528) scale(1.08,1)" fill="#101010" font-family="Liberation Sans, Arial, Helvetica, sans-serif" font-size="15.0" stroke="#101010" stroke-width="0.35">10</text>
<text transform="translate(76.9,1516) scale(1.08,1)" fill="#101010" font-family="Liberation Sans, Arial, Helvetica, sans-serif" font-size="15.0" stroke="#101010" stroke-width="0.35">3</text>
<text transform="translate(59,1621) scale(1.08,1)" fill="#101010" font-family="Liberation Sans, Arial, Helvetica, sans-serif" font-size="15.0" stroke="#101010" stroke-width="0.35">10</text>
<text transform="translate(76.9,1609) scale(1.08,1)" fill="#101010" font-family="Liberation Sans, Arial, Helvetica, sans-serif" font-size="15.0" stroke="#101010" stroke-width="0.35">2</text>
<text transform="translate(71.9,1691) scale(1.08,1)" text-anchor="middle" fill="#101010" font-family="Liberation Sans, Arial, Helvetica, sans-serif" font-size="15.0" stroke="#101010" stroke-width="0.35">0</text>
<text transform="translate(203.8,1795.9) scale(0.875,1)" textLength="232.91" lengthAdjust="spacing" font-weight="bold" font-family="Liberation Sans, Arial, Helvetica, sans-serif" font-size="21.6" stroke="#000" stroke-width="0.5">Comp-PE-A :: TIGIT</text>
<text transform="translate(45,1663.5) rotate(-90) scale(0.875,1)" textLength="366.4" lengthAdjust="spacing" font-weight="bold" font-family="Liberation Sans, Arial, Helvetica, sans-serif" font-size="21.6" stroke="#000" stroke-width="0.5">Comp-PerCP-Cy5-5-A :: TNF-a</text>
<rect x="155" y="1388.3" width="202.6" height="135.7" fill="none" stroke="#000" stroke-width="1.4"/>
<rect x="356" y="1387.6" width="3.2" height="137.1" fill="#000"/>
<text transform="translate(396.3,1461.5)" textLength="45" lengthAdjust="spacing" font-weight="bold" font-family="Liberation Sans, Arial, Helvetica, sans-serif" font-size="22.3" stroke="#000" stroke-width="0.3">8.82</text>
<path transform="translate(619.90,1301.41) scale(1.430)" d="M134 72h1M135 77h1m3 0h1M137 78h1M143 79h1M134 80h1M134 81h1M134 82h2M135 83h1m1 0h1M136 84h2M142 85h1M134 86h1M139 87h1m2 0h1M137 88h1m1 0h1m2 0h1M136 89h1M134 90h1m4 0h1M139 91h2M144 92h1M136 93h1m4 0h1M134 95h1m1 0h1m2 0h1M134 96h1M140 97h1M134 98h1M140 99h1M136 100h1m1 0h2M137 101h1M134 102h1m2 0h1m9 0h1M135 103h1m7 0h1M136 104h1m4 0h1M134 105h1m3 0h1m2 0h1M134 106h2m1 0h1M134 107h3m4 0h1m3 0h1M139 108h1M134 109h1m1 0h1M137 110h1m2 0h1M136 111h1m1 0h2M135 112h1m3 0h1m1 0h1M134 113h1M139 114h1M136 115h1M138 116h1m5 0h1M134 117h1m1 0h2m6 0h1M135 118h1m3 0h1M142 119h1M134 120h2M136 121h1m1 0h1m1 0h1m1 0h1M134 122h1m2 0h1M139 123h1m1 0h1m3 0h2M136 124h5M136 125h3M136 126h2m3 0h2m1 0h1M141 127h1M135 128h1m1 0h3m6 0h1M134 129h1m1 0h4m3 0h1M135 130h2m1 0h1m4 0h1m3 0h1M136 131h5m3 0h1M134 132h2m3 0h2m2 0h1m1 0h1m1 0h1M137 133h5m2 0h3M135 134h3m4 0h1m5 0h1M135 135h1m1 0h3m2 0h1M134 136h1m1 0h1m2 0h3m4 0h1m2 0h1M134 137h1m1 0h1m8 0h1M135 138h2m1 0h1m2 0h4M139 139h1m3 0h1m2 0h1M135 140h1m1 0h1m3 0h1M134 141h1m1 0h4m1 0h1m5 0h1M134 142h4m1 0h2m6 0h1M135 143h4m2 0h1m2 0h1m1 0h1m1 0h1M134 144h1m1 0h4m2 0h1m4 0h1m5 0h2M134 145h5m1 0h3m1 0h1m1 0h1M134 146h1m1 0h2m1 0h4m1 0h2M134 147h6m1 0h4m2 0h1M134 148h7m1 0h1m7 0h2M134 149h7m3 0h2m4 0h2M134 150h11m10 0h1M134 151h12M134 152h9m1 0h1m4 0h1M134 153h12m2 0h1M134 154h9m3 0h1m1 0h1m7 0h1M134 155h9m1 0h2m1 0h1M134 156h11m5 0h1m2 0h1M134 157h7m1 0h5m1 0h1M134 158h12m2 0h1m1 0h3M134 159h7m1 0h2m2 0h1m1 0h2M134 160h6m1 0h3m1 0h1m2 0h2m6 0h1M134 161h13M134 162h8m1 0h2m1 0h3M134 163h9m3 0h2m4 0h1M134 164h13m1 0h1m8 0h1M134 165h12m1 0h1m1 0h2m1 0h1M134 166h9m2 0h1m1 0h2m2 0h1m2 0h1M135 167h10m1 0h2M134 168h18m1 0h1M135 169h11m2 0h2M134 170h15m1 0h1M134 171h9m1 0h2m1 0h2m6 0h1M134 172h14m1 0h1M134 173h12m6 0h1M134 174h12M134 175h13m1 0h1M134 176h10m1 0h5M134 177h4m1 0h7m2 0h3m2 0h1M134 178h10m1 0h2m2 0h1m1 0h1m7 0h1M134 179h4m1 0h2m1 0h2m1 0h1m2 0h1M134 180h12m2 0h1m2 0h1M134 181h11m1 0h1m4 0h2M134 182h12m1 0h3m8 0h1M134 183h11m3 0h1M134 184h9m2 0h3m4 0h1M134 185h9m2 0h1m6 0h2m2 0h1M134 186h8m1 0h4m1 0h1M134 187h11m1 0h1m6 0h1M134 188h9m1 0h1m8 0h1M134 189h13m1 0h2m4 0h1M134 190h11m1 0h1m4 0h1M134 191h12m2 0h1m1 0h1M134 192h2m1 0h8m1 0h1m1 0h1m4 0h1M134 193h13m3 0h1M135 194h9m1 0h3m2 0h1M134 195h11m4 0h1m1 0h1M134 196h9m1 0h1M134 197h13M134 198h9m1 0h3M134 199h9m2 0h1m1 0h1m1 0h1m1 0h1M134 200h12m2 0h1m4 0h1M134 201h12m6 0h1M134 202h4m1 0h10m1 0h1M135 203h10m1 0h1m1 0h1m1 0h1M134 204h7m1 0h1m1 0h3m4 0h1m2 0h1M134 205h10m1 0h1M134 206h11M134 207h9m1 0h2m1 0h1M134 208h4m1 0h2m1 0h1m4 0h1m3 0h1M134 209h5m2 0h1m1 0h1m1 0h2m2 0h2M134 210h1m1 0h4m1 0h4m3 0h1M134 211h7m1 0h1m2 0h1M134 212h2m1 0h4m5 0h1M135 213h9M134 214h4m2 0h3m1 0h1m3 0h2M135 215h2m1 0h1m2 0h2m1 0h1m1 0h1m4 0h1M135 216h2m4 0h2M136 217h2m2 0h2m1 0h1m1 0h1M135 218h1m1 0h2m3 0h1m1 0h2M135 219h1m1 0h2m1 0h4M134 220h3m1 0h2m2 0h1m6 0h1M135 221h1m1 0h2m8 0h1m1 0h1M134 222h3m1 0h1m2 0h3m2 0h1M135 223h3m1 0h2m2 0h1m1 0h1m1 0h1m5 0h1M135 224h2m1 0h1m2 0h2m6 0h1M134 225h4m1 0h3m4 0h1M134 226h1m1 0h2m1 0h3m3 0h2M134 227h2m2 0h5m1 0h1m2 0h1M135 228h4m1 0h1m1 0h2m1 0h1M134 229h1m3 0h4m10 0h2m3 0h1M134 230h1m2 0h2m2 0h1M134 231h3m1 0h3m4 0h1M134 232h1m7 0h1m2 0h1M135 233h1m2 0h3m1 0h1m3 0h1M136 234h1m2 0h1m2 0h1m8 0h1M135 235h1m1 0h2m1 0h2m2 0h2M135 236h2m1 0h3m2 0h1m7 0h1M138 237h1m4 0h1m8 0h1M135 238h2m5 0h1m4 0h2M135 239h2m3 0h1m5 0h1m2 0h1M138 240h1m6 0h1m5 0h1M134 241h1m4 0h2m5 0h1M134 242h1m1 0h1m2 0h1m4 0h1M135 243h5m3 0h1M134 244h1m2 0h1m1 0h3M138 245h3m1 0h1m7 0h1M134 246h1m1 0h1m6 0h1M135 247h2m4 0h1m1 0h3m3 0h1M137 248h3m1 0h1M136 249h1M134 250h2m8 0h1M134 251h1m2 0h1m3 0h1M136 252h2m2 0h1m4 0h1m2 0h1M134 253h1m5 0h2m1 0h1M138 254h1m1 0h2m7 0h1M134 255h1m3 0h1M145 256h1M134 257h1m1 0h1m3 0h1m1 0h1M135 259h2m7 0h1M135 260h1m4 0h1m1 0h1M135 261h1m3 0h1m4 0h1M134 262h1m12 0h1M134 263h1m3 0h1m2 0h2M138 264h1m2 0h1m1 0h1M135 265h1m1 0h1m1 0h1M135 266h1M137 267h1M140 268h1M143 269h1M139 270h1m1 0h1M135 271h1m3 0h1M134 272h1m5 0h1M135 273h3m2 0h1M134 274h2m9 0h1m2 0h1M135 275h1m1 0h1M138 276h1M139 277h1m4 0h1M134 278h1m4 0h1M136 279h1m2 0h1M138 280h1M141 281h1m8 0h1M136 282h1m11 0h1M148 284h1" stroke="#000" stroke-width="1.12" fill="none"/>
<rect x="619.9" y="1300.7" width="407.8" height="408.9" fill="none" stroke="#000" stroke-width="1.4"/>
<rect x="609.6" y="1608.95" width="10.3" height="2.9" fill="#000"/>
<rect x="609.6" y="1516.15" width="10.3" height="2.9" fill="#000"/>
<rect x="609.6" y="1424.85" width="10.3" height="2.9" fill="#000"/>
<rect x="609.6" y="1334.85" width="10.3" height="2.9" fill="#000"/>
<rect x="615" y="1581.71" width="4.9" height="1.5" fill="#000"/>
<rect x="615" y="1565.37" width="4.9" height="1.5" fill="#000"/>
<rect x="615" y="1553.78" width="4.9" height="1.5" fill="#000"/>
<rect x="612.4" y="1544.79" width="7.5" height="1.5" fill="#000"/>
<rect x="615" y="1537.44" width="4.9" height="1.5" fill="#000"/>
<rect x="615" y="1531.22" width="4.9" height="1.5" fill="#000"/>
<rect x="615" y="1525.84" width="4.9" height="1.5" fill="#000"/>
<rect x="615" y="1521.1" width="4.9" height="1.5" fill="#000"/>
<rect x="615" y="1489.37" width="4.9" height="1.5" fill="#000"/>
<rect x="615" y="1473.29" width="4.9" height="1.5" fill="#000"/>
<rect x="615" y="1461.88" width="4.9" height="1.5" fill="#000"/>
<rect x="612.4" y="1453.03" width="7.5" height="1.5" fill="#000"/>
<rect x="615" y="1445.8" width="4.9" height="1.5" fill="#000"/>
<rect x="615" y="1439.69" width="4.9" height="1.5" fill="#000"/>
<rect x="615" y="1434.4" width="4.9" height="1.5" fill="#000"/>
<rect x="615" y="1429.73" width="4.9" height="1.5" fill="#000"/>
<rect x="615" y="1398.46" width="4.9" height="1.5" fill="#000"/>
<rect x="615" y="1382.61" width="4.9" height="1.5" fill="#000"/>
<rect x="615" y="1371.36" width="4.9" height="1.5" fill="#000"/>
<rect x="612.4" y="1362.64" width="7.5" height="1.5" fill="#000"/>
<rect x="615" y="1355.52" width="4.9" height="1.5" fill="#000"/>
<rect x="615" y="1349.49" width="4.9" height="1.5" fill="#000"/>
<rect x="615" y="1344.27" width="4.9" height="1.5" fill="#000"/>
<rect x="615" y="1339.67" width="4.9" height="1.5" fill="#000"/>
<rect x="615" y="1308.46" width="4.9" height="1.5" fill="#000"/>
<rect x="614.9" y="1673.8" width="5" height="23" fill="#000"/>
<rect x="611.9" y="1677.78" width="8" height="2.4" fill="#000"/>
<rect x="611.9" y="1690.43" width="8" height="2.4" fill="#000"/>
<rect x="608.4" y="1672.7" width="11.5" height="2.2" fill="#000"/>
<rect x="608.4" y="1684.2" width="11.5" height="2.2" fill="#000"/>
<rect x="608.4" y="1695.7" width="11.5" height="2.2" fill="#000"/>
<rect x="615" y="1662.67" width="4.9" height="1.5" fill="#000"/>
<rect x="615" y="1653.03" width="4.9" height="1.5" fill="#000"/>
<rect x="615" y="1644.47" width="4.9" height="1.5" fill="#000"/>
<rect x="612.4" y="1636.92" width="7.5" height="1.5" fill="#000"/>
<rect x="615" y="1630.22" width="4.9" height="1.5" fill="#000"/>
<rect x="615" y="1624.26" width="4.9" height="1.5" fill="#000"/>
<rect x="615" y="1618.91" width="4.9" height="1.5" fill="#000"/>
<rect x="615" y="1614.06" width="4.9" height="1.5" fill="#000"/>
<rect x="615" y="1706.43" width="4.9" height="1.5" fill="#000"/>
<rect x="687.35" y="1709.6" width="2.9" height="10.3" fill="#000"/>
<rect x="777.25" y="1709.6" width="2.9" height="10.3" fill="#000"/>
<rect x="864.95" y="1709.6" width="2.9" height="10.3" fill="#000"/>
<rect x="948.95" y="1709.6" width="2.9" height="10.3" fill="#000"/>
<rect x="804.35" y="1709.6" width="1.5" height="4.9" fill="#000"/>
<rect x="819.79" y="1709.6" width="1.5" height="4.9" fill="#000"/>
<rect x="830.75" y="1709.6" width="1.5" height="4.9" fill="#000"/>
<rect x="839.25" y="1709.6" width="1.5" height="7.5" fill="#000"/>
<rect x="846.19" y="1709.6" width="1.5" height="4.9" fill="#000"/>
<rect x="852.07" y="1709.6" width="1.5" height="4.9" fill="#000"/>
<rect x="857.15" y="1709.6" width="1.5" height="4.9" fill="#000"/>
<rect x="861.64" y="1709.6" width="1.5" height="4.9" fill="#000"/>
<rect x="890.94" y="1709.6" width="1.5" height="4.9" fill="#000"/>
<rect x="905.73" y="1709.6" width="1.5" height="4.9" fill="#000"/>
<rect x="916.22" y="1709.6" width="1.5" height="4.9" fill="#000"/>
<rect x="924.36" y="1709.6" width="1.5" height="7.5" fill="#000"/>
<rect x="931.01" y="1709.6" width="1.5" height="4.9" fill="#000"/>
<rect x="936.64" y="1709.6" width="1.5" height="4.9" fill="#000"/>
<rect x="941.51" y="1709.6" width="1.5" height="4.9" fill="#000"/>
<rect x="945.81" y="1709.6" width="1.5" height="4.9" fill="#000"/>
<rect x="974.94" y="1709.6" width="1.5" height="4.9" fill="#000"/>
<rect x="989.73" y="1709.6" width="1.5" height="4.9" fill="#000"/>
<rect x="1000.22" y="1709.6" width="1.5" height="4.9" fill="#000"/>
<rect x="1008.36" y="1709.6" width="1.5" height="7.5" fill="#000"/>
<rect x="1015.01" y="1709.6" width="1.5" height="4.9" fill="#000"/>
<rect x="1020.64" y="1709.6" width="1.5" height="4.9" fill="#000"/>
<rect x="727.2" y="1709.6" width="11.6" height="5" fill="#000"/>
<rect x="728.71" y="1709.6" width="2.2" height="7.5" fill="#000"/>
<rect x="735.09" y="1709.6" width="2.2" height="7.5" fill="#000"/>
<rect x="725.8" y="1709.6" width="2.8" height="10.3" fill="#000"/>
<rect x="731.6" y="1709.6" width="2.8" height="10.3" fill="#000"/>
<rect x="737.4" y="1709.6" width="2.8" height="10.3" fill="#000"/>
<rect x="745.6" y="1709.6" width="1.5" height="4.9" fill="#000"/>
<rect x="751.48" y="1709.6" width="1.5" height="4.9" fill="#000"/>
<rect x="756.7" y="1709.6" width="1.5" height="4.9" fill="#000"/>
<rect x="761.31" y="1709.6" width="1.5" height="7.5" fill="#000"/>
<rect x="765.4" y="1709.6" width="1.5" height="4.9" fill="#000"/>
<rect x="769.04" y="1709.6" width="1.5" height="4.9" fill="#000"/>
<rect x="772.3" y="1709.6" width="1.5" height="4.9" fill="#000"/>
<rect x="775.26" y="1709.6" width="1.5" height="4.9" fill="#000"/>
<rect x="719.34" y="1709.6" width="1.5" height="4.9" fill="#000"/>
<rect x="713.65" y="1709.6" width="1.5" height="4.9" fill="#000"/>
<rect x="708.6" y="1709.6" width="1.5" height="4.9" fill="#000"/>
<rect x="704.14" y="1709.6" width="1.5" height="7.5" fill="#000"/>
<rect x="700.19" y="1709.6" width="1.5" height="4.9" fill="#000"/>
<rect x="696.67" y="1709.6" width="1.5" height="4.9" fill="#000"/>
<rect x="693.51" y="1709.6" width="1.5" height="4.9" fill="#000"/>
<rect x="690.65" y="1709.6" width="1.5" height="4.9" fill="#000"/>
<rect x="661.65" y="1709.6" width="1.5" height="4.9" fill="#000"/>
<rect x="646.21" y="1709.6" width="1.5" height="4.9" fill="#000"/>
<rect x="635.25" y="1709.6" width="1.5" height="4.9" fill="#000"/>
<rect x="626.75" y="1709.6" width="1.5" height="7.5" fill="#000"/>
<text transform="translate(733.3,1755) scale(1.08,1)" text-anchor="middle" fill="#101010" font-family="Liberation Sans, Arial, Helvetica, sans-serif" font-size="15.0" stroke="#101010" stroke-width="0.35">0</text>
<text transform="translate(859.1,1755) scale(1.08,1)" fill="#101010" font-family="Liberation Sans, Arial, Helvetica, sans-serif" font-size="15.0" stroke="#101010" stroke-width="0.35">10</text>
<text transform="translate(877,1743) scale(1.08,1)" fill="#101010" font-family="Liberation Sans, Arial, Helvetica, sans-serif" font-size="15.0" stroke="#101010" stroke-width="0.35">3</text>
<text transform="translate(943.1,1755) scale(1.08,1)" fill="#101010" font-family="Liberation Sans, Arial, Helvetica, sans-serif" font-size="15.0" stroke="#101010" stroke-width="0.35">10</text>
<text transform="translate(961,1743) scale(1.08,1)" fill="#101010" font-family="Liberation Sans, Arial, Helvetica, sans-serif" font-size="15.0" stroke="#101010" stroke-width="0.35">4</text>
<text transform="translate(573.7,1347) scale(1.08,1)" fill="#101010" font-family="Liberation Sans, Arial, Helvetica, sans-serif" font-size="15.0" stroke="#101010" stroke-width="0.35">10</text>
<text transform="translate(591.6,1335) scale(1.08,1)" fill="#101010" font-family="Liberation Sans, Arial, Helvetica, sans-serif" font-size="15.0" stroke="#101010" stroke-width="0.35">5</text>
<text transform="translate(573.7,1437) scale(1.08,1)" fill="#101010" font-family="Liberation Sans, Arial, Helvetica, sans-serif" font-size="15.0" stroke="#101010" stroke-width="0.35">10</text>
<text transform="translate(591.6,1425) scale(1.08,1)" fill="#101010" font-family="Liberation Sans, Arial, Helvetica, sans-serif" font-size="15.0" stroke="#101010" stroke-width="0.35">4</text>
<text transform="translate(573.7,1528) scale(1.08,1)" fill="#101010" font-family="Liberation Sans, Arial, Helvetica, sans-serif" font-size="15.0" stroke="#101010" stroke-width="0.35">10</text>
<text transform="translate(591.6,1516) scale(1.08,1)" fill="#101010" font-family="Liberation Sans, Arial, Helvetica, sans-serif" font-size="15.0" stroke="#101010" stroke-width="0.35">3</text>
<text transform="translate(573.7,1621) scale(1.08,1)" fill="#101010" font-family="Liberation Sans, Arial, Helvetica, sans-serif" font-size="15.0" stroke="#101010" stroke-width="0.35">10</text>
<text transform="translate(591.6,1609) scale(1.08,1)" fill="#101010" font-family="Liberation Sans, Arial, Helvetica, sans-serif" font-size="15.0" stroke="#101010" stroke-width="0.35">2</text>
<text transform="translate(586.6,1691) scale(1.08,1)" text-anchor="middle" fill="#101010" font-family="Liberation Sans, Arial, Helvetica, sans-serif" font-size="15.0" stroke="#101010" stroke-width="0.35">0</text>
<text transform="translate(718.6,1795.9) scale(0.875,1)" textLength="232.91" lengthAdjust="spacing" font-weight="bold" font-family="Liberation Sans, Arial, Helvetica, sans-serif" font-size="21.6" stroke="#000" stroke-width="0.5">Comp-PE-A :: TIGIT</text>
<text transform="translate(559.5,1663.5) rotate(-90) scale(0.875,1)" textLength="366.4" lengthAdjust="spacing" font-weight="bold" font-family="Liberation Sans, Arial, Helvetica, sans-serif" font-size="21.6" stroke="#000" stroke-width="0.5">Comp-PerCP-Cy5-5-A :: TNF-a</text>
<rect x="728.6" y="1399.9" width="182.7" height="125.9" fill="none" stroke="#000" stroke-width="1.4"/>
<rect x="909.7" y="1399.2" width="3.2" height="127.3" fill="#000"/>
<text transform="translate(923.7,1466.1)" textLength="45" lengthAdjust="spacing" font-weight="bold" font-family="Liberation Sans, Arial, Helvetica, sans-serif" font-size="22.3" stroke="#000" stroke-width="0.3">2.89</text>
<path transform="translate(103.80,1996.12) scale(1.430)" d="M105 65h1M66 66h1M14 67h1M22 68h1m24 0h1M22 69h1m16 0h1m48 0h1m5 0h1M23 70h1m6 0h1m8 0h1m39 0h1m1 0h1M15 71h1m37 0h2m20 0h1m7 0h1m19 0h1m6 0h1M15 72h1m6 0h2m11 0h1m2 0h1m19 0h1m23 0h1M56 73h1m12 0h1m4 0h1m10 0h1m1 0h1m20 0h1M46 74h1m11 0h1m8 0h1m25 0h1m10 0h1m1 0h1M5 75h1m1 0h1m15 0h1m22 0h1m8 0h1m7 0h1m2 0h1m5 0h1m8 0h1m12 0h1m14 0h1M38 76h1m12 0h1m13 0h2m6 0h1m11 0h1m1 0h3m1 0h1m1 0h1m1 0h1M15 77h1m9 0h1m6 0h1m6 0h1m16 0h1m18 0h2m1 0h1m2 0h1m5 0h1m5 0h1M29 78h1m9 0h1m3 0h1m3 0h1m2 0h1m1 0h1m27 0h2m2 0h1m6 0h1m4 0h1m1 0h1m3 0h1m2 0h1m3 0h2M5 79h1m16 0h1m24 0h1m4 0h1m1 0h1m5 0h1m1 0h1m11 0h1m1 0h2m2 0h1m11 0h1m1 0h2m10 0h1M6 80h2m7 0h1m5 0h1m8 0h1m2 0h1m4 0h1m5 0h1m1 0h1m2 0h1m7 0h1m12 0h1m7 0h1m1 0h2m1 0h2m3 0h1m1 0h1m2 0h1m1 0h2m1 0h1m6 0h2m2 0h1M28 81h1m14 0h1m5 0h1m7 0h1m7 0h1m2 0h1m22 0h4m6 0h1m5 0h4M13 82h1m5 0h1m2 0h1m3 0h1m1 0h1m8 0h1m1 0h2m1 0h1m1 0h1m5 0h1m11 0h2m3 0h1m6 0h2m10 0h1m7 0h2m1 0h3m4 0h1m5 0h1M19 83h2m7 0h1m6 0h3m1 0h1m9 0h1m1 0h2m9 0h1m22 0h1m4 0h1m5 0h1m1 0h1m2 0h3m3 0h1m2 0h1M5 84h1m23 0h1m5 0h1m6 0h1m5 0h1m7 0h1m5 0h1m7 0h1m3 0h1m4 0h3m3 0h1m1 0h1m5 0h1m5 0h1m4 0h2m4 0h1M5 85h1m1 0h1m3 0h1m1 0h1m2 0h1m8 0h2m8 0h2m5 0h2m2 0h1m6 0h1m1 0h1m8 0h1m3 0h1m2 0h2m1 0h3m1 0h1m2 0h1m5 0h2m2 0h1m4 0h2m2 0h1m1 0h2m2 0h3m1 0h1M8 86h1m7 0h1m5 0h1m20 0h1m3 0h1m8 0h1m4 0h1m3 0h1m5 0h2m9 0h1m2 0h1m1 0h1m3 0h1m1 0h1m1 0h5m1 0h4m1 0h3M18 87h1m2 0h1m8 0h1m2 0h2m3 0h1m3 0h1m3 0h1m8 0h1m8 0h1m1 0h2m1 0h1m1 0h1m9 0h1m9 0h2m1 0h4m5 0h1m1 0h4m1 0h1M10 88h1m13 0h1m5 0h1m1 0h1m6 0h1m1 0h1m6 0h1m2 0h1m1 0h5m1 0h1m2 0h2m1 0h1m3 0h1m2 0h1m1 0h2m1 0h2m3 0h2m2 0h2m3 0h2m2 0h3m6 0h1m3 0h2M18 89h1m6 0h1m2 0h1m2 0h1m1 0h3m10 0h2m2 0h1m10 0h1m2 0h1m6 0h1m2 0h4m4 0h2m5 0h1m1 0h1m2 0h2m1 0h1m1 0h1m1 0h3m1 0h1m1 0h4M5 90h1m8 0h1m12 0h1m3 0h1m3 0h1m6 0h2m4 0h1m29 0h2m3 0h1m3 0h1m1 0h1m4 0h6m1 0h3m1 0h1m3 0h1M23 91h1m2 0h4m11 0h1m3 0h2m1 0h1m3 0h1m5 0h1m11 0h1m11 0h3m2 0h3m1 0h1m2 0h3m1 0h1m2 0h1m5 0h2M12 92h2m8 0h1m10 0h1m3 0h1m7 0h1m4 0h1m2 0h3m2 0h3m6 0h1m2 0h4m3 0h1m2 0h1m3 0h2m1 0h4m4 0h3m1 0h1m1 0h1m3 0h1m1 0h1m1 0h2M28 93h1m1 0h1m2 0h1m2 0h1m4 0h1m10 0h1m5 0h1m2 0h1m2 0h1m2 0h1m5 0h1m4 0h1m2 0h1m8 0h1m3 0h1m3 0h1m2 0h1m1 0h1m1 0h2m1 0h3M6 94h2m6 0h2m3 0h1m1 0h1m2 0h1m3 0h1m1 0h2m8 0h1m1 0h3m1 0h2m1 0h2m3 0h1m13 0h1m1 0h1m1 0h1m5 0h1m10 0h2m2 0h1m1 0h1m1 0h5m1 0h4m1 0h1M16 95h1m9 0h1m1 0h2m7 0h1m1 0h1m4 0h1m1 0h2m5 0h3m5 0h2m2 0h1m6 0h2m2 0h4m2 0h3m6 0h1m3 0h6m4 0h3m1 0h1M8 96h1m9 0h1m3 0h1m2 0h1m1 0h1m4 0h1m8 0h5m2 0h2m5 0h2m1 0h2m4 0h1m6 0h1m3 0h2m1 0h2m5 0h2m2 0h2m1 0h2m1 0h1m1 0h1m2 0h3m4 0h1m2 0h1M6 97h1m1 0h1m5 0h2m9 0h1m2 0h1m6 0h2m6 0h1m5 0h2m8 0h2m1 0h2m2 0h2m2 0h1m4 0h1m1 0h1m5 0h1m1 0h1m2 0h2m3 0h4m1 0h2m2 0h2m4 0h3M7 98h1m5 0h1m2 0h1m11 0h2m4 0h2m13 0h2m1 0h1m6 0h2m5 0h1m3 0h3m2 0h3m1 0h3m5 0h3m1 0h2m1 0h1m1 0h1m1 0h1m1 0h1m1 0h1m1 0h4m2 0h1M6 99h1m12 0h1m6 0h1m13 0h1m4 0h1m2 0h2m3 0h1m3 0h4m5 0h1m3 0h4m1 0h5m1 0h1m1 0h1m3 0h3m2 0h1m2 0h1m2 0h3m1 0h1m1 0h2m3 0h1M4 100h1m3 0h1m2 0h1m2 0h2m8 0h1m2 0h1m10 0h2m8 0h1m3 0h2m1 0h2m4 0h1m1 0h6m3 0h2m3 0h1m1 0h1m7 0h1m1 0h3m3 0h1m2 0h2m1 0h2m2 0h4M17 101h1m2 0h1m2 0h1m7 0h1m2 0h1m2 0h1m7 0h2m5 0h1m1 0h1m3 0h4m1 0h2m5 0h1m2 0h3m1 0h1m2 0h1m3 0h1m1 0h1m1 0h5m1 0h1m5 0h1m1 0h2m3 0h1m1 0h2M6 102h1m2 0h1m3 0h1m2 0h1m5 0h1m6 0h1m4 0h1m8 0h1m1 0h1m9 0h1m3 0h2m7 0h1m2 0h2m1 0h1m2 0h6m2 0h1m3 0h3m1 0h1m4 0h1m2 0h3m1 0h1m1 0h2m1 0h1M10 103h1m7 0h1m8 0h1m4 0h2m2 0h1m2 0h1m2 0h2m9 0h1m2 0h1m1 0h1m3 0h1m5 0h1m4 0h4m4 0h1m2 0h2m2 0h4m1 0h6m1 0h1m1 0h1m2 0h2m1 0h1m1 0h1M18 104h2m4 0h3m8 0h3m3 0h1m1 0h1m3 0h1m3 0h1m6 0h3m2 0h1m2 0h1m2 0h2m1 0h2m3 0h4m5 0h2m1 0h1m1 0h1m1 0h2m2 0h2m2 0h3m1 0h1m1 0h3M7 105h1m2 0h1m4 0h2m14 0h1m2 0h1m6 0h1m4 0h1m3 0h1m1 0h1m2 0h2m1 0h2m1 0h1m5 0h1m2 0h1m2 0h2m2 0h1m2 0h3m1 0h2m2 0h1m2 0h1m1 0h3m1 0h1m2 0h3m1 0h1m1 0h5M6 106h1m10 0h3m8 0h1m4 0h1m2 0h1m1 0h1m6 0h2m7 0h1m5 0h1m2 0h3m3 0h1m4 0h2m1 0h2m2 0h1m1 0h4m1 0h1m1 0h3m1 0h1m1 0h4m1 0h3m1 0h1m1 0h2m1 0h1M8 107h1m17 0h4m1 0h1m5 0h1m2 0h1m2 0h1m2 0h1m3 0h1m1 0h2m3 0h1m2 0h1m3 0h1m4 0h2m6 0h3m1 0h2m1 0h2m1 0h2m2 0h7m1 0h12M7 108h1m7 0h1m1 0h2m1 0h1m9 0h1m4 0h2m2 0h1m4 0h2m7 0h1m1 0h1m2 0h1m1 0h2m1 0h1m1 0h3m1 0h1m3 0h7m1 0h1m2 0h1m1 0h1m1 0h2m3 0h2m4 0h3m1 0h7M6 109h2m7 0h2m1 0h1m1 0h1m1 0h1m2 0h2m6 0h3m1 0h1m2 0h2m3 0h1m5 0h4m3 0h1m2 0h2m4 0h3m1 0h2m6 0h1m1 0h2m2 0h1m1 0h1m2 0h4m1 0h2m3 0h1m1 0h1m1 0h7M6 110h1m10 0h1m14 0h1m3 0h1m3 0h2m3 0h2m3 0h1m1 0h3m3 0h1m7 0h1m1 0h3m2 0h1m3 0h2m1 0h1m1 0h2m2 0h2m5 0h1m4 0h13M15 111h1m2 0h1m2 0h1m1 0h1m6 0h1m1 0h2m1 0h1m1 0h1m5 0h2m2 0h1m5 0h1m5 0h1m1 0h1m3 0h1m2 0h2m1 0h2m2 0h3m1 0h1m1 0h1m1 0h1m1 0h2m1 0h2m3 0h1m1 0h1m3 0h1m1 0h1m1 0h8M10 112h2m1 0h1m2 0h3m3 0h1m6 0h1m7 0h1m1 0h1m2 0h2m1 0h2m3 0h3m3 0h1m1 0h1m1 0h1m4 0h3m2 0h1m1 0h4m1 0h6m1 0h1m3 0h2m3 0h3m1 0h1m1 0h2m2 0h3m2 0h3M4 113h1m2 0h1m6 0h1m12 0h2m1 0h2m3 0h1m2 0h1m1 0h1m4 0h2m2 0h1m2 0h1m1 0h2m6 0h6m1 0h1m5 0h1m3 0h1m1 0h1m2 0h1m1 0h2m2 0h4m1 0h1m1 0h4m1 0h2m3 0h4M8 114h1m3 0h1m1 0h1m3 0h2m3 0h1m6 0h2m7 0h1m2 0h1m4 0h1m7 0h1m2 0h1m1 0h1m4 0h1m1 0h1m1 0h2m2 0h4m3 0h1m4 0h6m2 0h2m2 0h2m1 0h2m1 0h2m2 0h4M6 115h1m3 0h1m2 0h2m12 0h1m11 0h1m1 0h2m5 0h2m3 0h1m1 0h1m1 0h1m2 0h1m2 0h1m3 0h1m1 0h2m1 0h1m2 0h1m1 0h1m3 0h3m2 0h2m4 0h1m1 0h1m4 0h1m1 0h8m1 0h1M10 116h1m6 0h1m5 0h1m2 0h1m3 0h1m3 0h2m1 0h2m4 0h1m2 0h1m3 0h1m1 0h1m3 0h1m1 0h1m1 0h1m2 0h1m1 0h2m1 0h1m2 0h2m1 0h3m2 0h1m1 0h1m2 0h3m2 0h5m1 0h3m3 0h2m1 0h3m1 0h1m1 0h1M3 117h1m5 0h1m6 0h1m1 0h1m4 0h1m4 0h1m2 0h1m2 0h1m1 0h1m7 0h1m5 0h1m1 0h2m2 0h1m1 0h1m1 0h3m2 0h3m1 0h1m5 0h1m1 0h3m1 0h1m3 0h2m1 0h4m1 0h5m1 0h9m1 0h2M7 118h1m2 0h1m6 0h2m1 0h1m8 0h1m4 0h1m1 0h2m3 0h1m1 0h2m2 0h2m1 0h1m1 0h1m3 0h1m2 0h1m4 0h2m1 0h1m2 0h1m1 0h1m4 0h1m1 0h3m1 0h1m1 0h2m1 0h2m1 0h3m2 0h6m1 0h3M13 119h1m3 0h1m1 0h1m8 0h1m3 0h1m1 0h1m1 0h1m1 0h2m2 0h3m2 0h1m1 0h2m4 0h3m1 0h1m2 0h2m1 0h1m5 0h3m6 0h5m1 0h2m2 0h4m1 0h1m1 0h1m1 0h1m1 0h1m2 0h1m2 0h3M6 120h2m2 0h1m3 0h1m5 0h1m2 0h1m1 0h1m11 0h1m4 0h1m2 0h1m3 0h1m1 0h1m2 0h3m1 0h2m2 0h1m1 0h1m3 0h1m1 0h1m1 0h1m1 0h1m1 0h1m6 0h1m1 0h1m2 0h2m1 0h2m1 0h2m2 0h2m1 0h4m1 0h1m1 0h3M9 121h1m9 0h1m6 0h2m2 0h2m5 0h1m4 0h1m4 0h2m1 0h1m3 0h1m3 0h2m1 0h1m1 0h2m1 0h2m2 0h1m1 0h1m1 0h2m2 0h1m1 0h1m1 0h1m1 0h1m1 0h3m5 0h1m1 0h1m1 0h2m1 0h3m2 0h1m1 0h3M13 122h1m1 0h1m5 0h1m3 0h2m5 0h3m7 0h1m3 0h1m1 0h1m3 0h1m1 0h1m1 0h1m3 0h2m2 0h1m2 0h3m4 0h1m5 0h2m1 0h1m3 0h1m4 0h1m2 0h2m2 0h5m1 0h1m1 0h2M10 123h1m1 0h1m4 0h2m2 0h1m4 0h1m4 0h1m1 0h1m5 0h1m3 0h2m1 0h1m1 0h1m4 0h2m1 0h1m1 0h2m1 0h2m1 0h2m3 0h1m3 0h1m1 0h1m2 0h1m2 0h1m1 0h1m1 0h2m3 0h3m1 0h5m1 0h4m3 0h1m2 0h1M8 124h1m4 0h2m4 0h1m4 0h1m10 0h2m2 0h1m1 0h1m1 0h4m2 0h1m1 0h3m4 0h1m4 0h2m4 0h1m3 0h1m1 0h4m2 0h3m2 0h2m1 0h3m1 0h1m1 0h2m2 0h5m1 0h1m1 0h2m1 0h1M8 125h1m11 0h1m2 0h1m5 0h1m1 0h2m7 0h2m2 0h1m2 0h1m5 0h5m1 0h1m1 0h1m1 0h1m1 0h1m2 0h1m1 0h1m2 0h6m1 0h3m3 0h1m1 0h2m2 0h3m1 0h1m2 0h1m1 0h2m1 0h7M8 126h1m3 0h1m6 0h1m3 0h1m3 0h1m5 0h1m2 0h1m1 0h1m1 0h1m1 0h2m6 0h2m4 0h1m2 0h1m2 0h1m1 0h4m1 0h1m4 0h1m1 0h2m3 0h1m2 0h5m1 0h1m2 0h1m1 0h3m1 0h2m1 0h3m3 0h1m1 0h1M9 127h1m1 0h1m5 0h2m2 0h2m3 0h1m1 0h1m4 0h2m6 0h1m6 0h1m4 0h1m2 0h1m1 0h1m1 0h1m1 0h2m1 0h2m2 0h4m3 0h2m3 0h1m1 0h1m1 0h1m3 0h2m1 0h6m1 0h2m1 0h5m1 0h2M9 128h1m8 0h1m2 0h1m4 0h2m2 0h1m2 0h1m10 0h1m5 0h1m1 0h1m14 0h1m5 0h1m2 0h1m1 0h1m1 0h1m4 0h3m4 0h3m2 0h5m1 0h1m2 0h2m1 0h1M13 129h2m11 0h1m1 0h2m2 0h1m5 0h2m3 0h1m1 0h4m4 0h1m1 0h1m6 0h2m6 0h1m5 0h1m1 0h1m1 0h7m2 0h6m1 0h1m1 0h7m1 0h5M12 130h1m8 0h1m4 0h1m2 0h1m1 0h3m2 0h1m2 0h2m1 0h1m1 0h4m2 0h1m5 0h1m7 0h1m1 0h1m2 0h2m1 0h4m1 0h3m1 0h3m3 0h3m1 0h2m2 0h1m3 0h1m1 0h1m2 0h5m1 0h1M15 131h1m3 0h1m9 0h1m1 0h1m3 0h1m5 0h2m9 0h1m1 0h1m2 0h3m1 0h2m1 0h2m1 0h5m2 0h1m2 0h1m1 0h1m2 0h3m4 0h5m1 0h1m2 0h4m1 0h1m1 0h6M6 132h1m1 0h1m1 0h1m1 0h1m5 0h1m2 0h1m3 0h3m2 0h1m2 0h1m1 0h1m2 0h2m4 0h1m3 0h2m3 0h1m2 0h1m3 0h1m1 0h1m3 0h2m1 0h2m2 0h1m3 0h7m1 0h2m1 0h4m1 0h2m1 0h1m1 0h1m2 0h3m3 0h1m1 0h2M11 133h1m2 0h1m3 0h2m1 0h1m2 0h1m5 0h1m5 0h1m4 0h1m1 0h1m5 0h1m2 0h1m2 0h1m2 0h2m1 0h1m2 0h1m2 0h1m3 0h2m1 0h6m1 0h1m1 0h1m1 0h1m1 0h2m1 0h2m1 0h1m1 0h6m2 0h8M15 134h1m9 0h1m3 0h3m5 0h1m1 0h1m5 0h1m3 0h1m2 0h1m2 0h1m3 0h1m1 0h1m3 0h4m2 0h5m2 0h5m2 0h1m3 0h6m1 0h13m1 0h1M6 135h1m5 0h1m5 0h1m6 0h1m12 0h1m5 0h1m3 0h2m1 0h2m1 0h1m2 0h1m1 0h4m5 0h2m7 0h2m1 0h3m3 0h1m3 0h2m1 0h3m2 0h1m3 0h2m1 0h1m1 0h1m1 0h2M5 136h1m9 0h1m1 0h1m1 0h1m1 0h2m1 0h1m1 0h2m4 0h2m5 0h1m3 0h2m1 0h2m4 0h1m1 0h1m2 0h1m5 0h1m3 0h2m5 0h3m1 0h3m1 0h3m4 0h6m1 0h1m1 0h13M4 137h1m1 0h1m1 0h2m6 0h1m2 0h2m14 0h2m3 0h1m1 0h2m2 0h2m1 0h2m2 0h1m1 0h1m4 0h1m1 0h2m2 0h3m1 0h1m1 0h3m1 0h1m2 0h2m1 0h2m1 0h1m4 0h2m1 0h2m1 0h4m1 0h2m3 0h3m1 0h1M20 138h4m12 0h1m2 0h1m2 0h1m1 0h2m2 0h3m1 0h1m4 0h1m8 0h1m4 0h1m1 0h2m1 0h4m4 0h2m1 0h1m1 0h2m2 0h1m1 0h6m1 0h3m1 0h4M20 139h1m7 0h2m7 0h1m5 0h2m2 0h1m1 0h2m5 0h1m1 0h1m2 0h1m5 0h1m5 0h3m6 0h4m2 0h2m1 0h1m1 0h3m1 0h2m2 0h2m2 0h1m1 0h4M8 140h1m1 0h1m10 0h1m3 0h1m3 0h1m14 0h1m1 0h2m3 0h1m1 0h1m1 0h1m1 0h1m3 0h2m1 0h1m2 0h3m4 0h2m3 0h3m2 0h2m1 0h3m1 0h1m3 0h1m3 0h2m6 0h1m1 0h2M17 141h1m1 0h2m4 0h1m1 0h1m2 0h1m3 0h1m4 0h2m1 0h1m1 0h1m4 0h1m1 0h1m2 0h2m3 0h1m1 0h3m1 0h2m1 0h1m1 0h3m1 0h2m1 0h1m2 0h2m1 0h2m2 0h1m3 0h4m1 0h4m1 0h4m1 0h3m1 0h1M14 142h1m4 0h1m1 0h3m2 0h2m1 0h1m6 0h1m1 0h1m10 0h4m1 0h1m4 0h1m4 0h1m2 0h1m2 0h2m2 0h3m3 0h4m1 0h2m3 0h1m1 0h4m2 0h2m1 0h2m2 0h2m2 0h2M6 143h1m4 0h1m2 0h1m5 0h1m1 0h2m3 0h1m1 0h1m1 0h1m1 0h1m2 0h1m3 0h1m2 0h2m3 0h1m1 0h1m6 0h1m1 0h2m2 0h1m4 0h2m1 0h1m1 0h1m1 0h4m2 0h1m1 0h1m1 0h1m1 0h6m1 0h10m1 0h2m2 0h2M16 144h2m2 0h1m2 0h1m6 0h1m2 0h2m1 0h2m2 0h1m4 0h1m10 0h3m1 0h1m2 0h2m1 0h7m1 0h1m2 0h5m1 0h3m1 0h2m3 0h3m1 0h2m1 0h3m1 0h1m1 0h1m2 0h1M7 145h1m3 0h1m6 0h1m2 0h1m6 0h2m5 0h2m1 0h2m4 0h1m3 0h2m2 0h4m1 0h2m7 0h2m1 0h1m1 0h1m4 0h2m1 0h2m4 0h1m1 0h1m1 0h1m1 0h2m1 0h1m2 0h1m1 0h2m1 0h2m1 0h6M10 146h1m2 0h2m6 0h1m3 0h1m3 0h2m1 0h2m10 0h3m1 0h2m3 0h1m1 0h1m3 0h2m1 0h1m12 0h1m2 0h1m4 0h1m1 0h1m1 0h5m1 0h9m2 0h4m2 0h1M6 147h1m5 0h1m1 0h1m1 0h1m6 0h1m15 0h1m1 0h2m1 0h3m1 0h1m1 0h2m2 0h4m1 0h2m1 0h3m1 0h1m1 0h1m1 0h2m1 0h3m1 0h1m2 0h2m2 0h1m3 0h3m1 0h2m2 0h1m2 0h1m2 0h2m2 0h2m1 0h1M6 148h1m5 0h2m1 0h1m8 0h1m4 0h1m8 0h1m1 0h1m3 0h1m1 0h1m3 0h1m1 0h3m2 0h4m1 0h2m2 0h3m2 0h4m5 0h1m1 0h1m1 0h3m1 0h6m1 0h1m1 0h3m1 0h2m1 0h6M5 149h1m4 0h1m1 0h2m4 0h1m7 0h1m2 0h1m1 0h1m2 0h1m8 0h1m5 0h2m7 0h1m2 0h2m4 0h1m1 0h1m2 0h6m2 0h3m4 0h2m1 0h1m4 0h10m2 0h4M7 150h1m10 0h1m5 0h2m1 0h1m3 0h1m1 0h1m2 0h2m11 0h1m1 0h2m3 0h1m2 0h1m2 0h1m4 0h2m2 0h2m1 0h3m1 0h1m1 0h1m2 0h1m1 0h1m3 0h1m3 0h1m1 0h7m2 0h7M8 151h1m5 0h1m1 0h1m4 0h1m2 0h1m10 0h2m2 0h1m9 0h1m1 0h3m2 0h1m3 0h1m4 0h1m1 0h5m4 0h6m2 0h1m3 0h4m1 0h2m1 0h1m1 0h2m1 0h7m2 0h1M17 152h2m4 0h1m3 0h1m1 0h1m3 0h2m1 0h3m5 0h1m3 0h1m5 0h1m3 0h1m2 0h1m5 0h1m1 0h2m1 0h6m1 0h4m1 0h3m3 0h2m2 0h1m1 0h5m2 0h5m1 0h2M11 153h1m1 0h2m6 0h1m1 0h1m1 0h1m4 0h1m2 0h1m1 0h1m5 0h1m4 0h2m1 0h1m1 0h1m1 0h1m1 0h1m1 0h2m1 0h4m2 0h2m1 0h2m2 0h3m2 0h4m7 0h6m1 0h2m2 0h2m1 0h2m1 0h4M6 154h1m2 0h1m1 0h1m2 0h1m5 0h1m2 0h1m6 0h1m5 0h1m10 0h1m2 0h1m3 0h2m3 0h1m3 0h2m3 0h1m7 0h1m3 0h1m1 0h3m2 0h2m3 0h7m1 0h11M15 155h1m6 0h1m4 0h1m4 0h1m4 0h1m4 0h1m5 0h1m1 0h2m1 0h2m7 0h2m4 0h2m2 0h1m1 0h2m2 0h2m1 0h4m1 0h1m1 0h4m2 0h1m1 0h1m1 0h1m1 0h4m1 0h2m1 0h3M4 156h1m7 0h2m1 0h2m6 0h2m2 0h1m2 0h1m4 0h1m4 0h1m5 0h1m4 0h4m3 0h1m2 0h2m1 0h1m1 0h2m1 0h4m2 0h2m1 0h1m1 0h1m1 0h1m3 0h2m2 0h9m2 0h1m1 0h2m2 0h4M12 157h1m4 0h2m3 0h1m3 0h1m5 0h1m2 0h3m3 0h2m1 0h1m2 0h1m1 0h1m4 0h2m2 0h1m2 0h2m2 0h1m2 0h5m1 0h5m1 0h6m3 0h2m1 0h1m1 0h3m4 0h8m1 0h1M5 158h1m3 0h1m5 0h1m2 0h1m4 0h2m10 0h1m3 0h1m3 0h1m5 0h1m1 0h2m1 0h2m1 0h1m5 0h1m1 0h1m1 0h6m1 0h2m1 0h4m1 0h3m1 0h4m1 0h1m2 0h4m2 0h9m1 0h1M7 159h1m5 0h1m7 0h2m4 0h1m3 0h2m7 0h1m1 0h2m6 0h1m7 0h1m1 0h1m2 0h1m1 0h1m4 0h1m2 0h4m1 0h1m3 0h1m1 0h3m1 0h1m1 0h8m1 0h2m1 0h5m3 0h1M13 160h1m1 0h2m4 0h1m1 0h1m9 0h1m9 0h1m9 0h1m4 0h4m1 0h2m1 0h4m2 0h3m2 0h2m1 0h2m1 0h2m1 0h1m1 0h3m3 0h1m1 0h1m1 0h3m2 0h1m1 0h2m1 0h1m1 0h1M8 161h1m1 0h1m5 0h2m2 0h1m2 0h1m9 0h1m2 0h1m1 0h1m4 0h2m2 0h1m4 0h1m1 0h2m2 0h2m2 0h1m3 0h2m1 0h1m1 0h1m1 0h2m1 0h4m4 0h4m1 0h1m2 0h1m1 0h3m1 0h2m1 0h5m3 0h2M15 162h1m4 0h2m2 0h1m7 0h2m1 0h1m3 0h1m1 0h1m5 0h1m3 0h1m4 0h1m2 0h3m3 0h1m2 0h2m2 0h2m2 0h2m6 0h5m1 0h2m1 0h2m1 0h2m2 0h11M8 163h2m2 0h1m1 0h1m4 0h1m3 0h2m5 0h1m1 0h1m2 0h1m6 0h1m2 0h2m1 0h1m6 0h3m1 0h1m5 0h1m1 0h1m1 0h2m1 0h3m2 0h2m2 0h3m1 0h2m2 0h1m1 0h5m2 0h10M9 164h2m1 0h1m1 0h2m1 0h1m5 0h2m1 0h1m4 0h1m1 0h1m7 0h1m2 0h1m3 0h2m2 0h3m4 0h2m1 0h2m3 0h3m3 0h1m1 0h2m1 0h1m3 0h1m2 0h1m2 0h1m2 0h2m1 0h3m1 0h1m1 0h8m2 0h1M6 165h2m3 0h1m8 0h1m6 0h1m4 0h2m5 0h2m7 0h1m7 0h1m3 0h2m1 0h1m3 0h2m2 0h1m1 0h1m1 0h1m1 0h7m3 0h7m2 0h1m1 0h1m1 0h1m1 0h9M3 166h1m4 0h1m19 0h1m7 0h1m4 0h2m10 0h2m1 0h1m6 0h3m3 0h1m1 0h5m1 0h2m3 0h3m1 0h8m1 0h1m2 0h1m1 0h1m1 0h1m1 0h2m1 0h4M8 167h1m18 0h2m3 0h1m9 0h3m3 0h1m1 0h1m1 0h1m1 0h2m1 0h1m1 0h2m4 0h2m2 0h1m1 0h1m1 0h1m1 0h4m1 0h1m3 0h4m1 0h2m1 0h2m1 0h1m1 0h2m1 0h2m1 0h3m2 0h1m1 0h1M12 168h1m1 0h1m1 0h1m6 0h1m9 0h1m1 0h1m8 0h2m2 0h1m2 0h2m1 0h1m1 0h1m1 0h1m3 0h1m2 0h3m1 0h3m3 0h4m3 0h1m1 0h2m1 0h1m1 0h1m2 0h5m1 0h6m3 0h1m1 0h2M8 169h1m1 0h1m3 0h1m1 0h1m2 0h1m1 0h2m5 0h1m1 0h2m5 0h2m1 0h3m1 0h2m1 0h1m1 0h1m2 0h2m2 0h2m4 0h1m2 0h2m1 0h2m1 0h1m3 0h11m1 0h2m5 0h2m2 0h7m1 0h2m1 0h2M7 170h1m1 0h1m1 0h2m3 0h2m5 0h1m1 0h1m7 0h1m8 0h4m1 0h1m6 0h1m7 0h1m1 0h2m2 0h1m2 0h1m1 0h3m1 0h2m1 0h2m2 0h1m1 0h1m1 0h2m1 0h1m1 0h10m1 0h2m2 0h3M5 171h1m2 0h1m3 0h1m5 0h1m4 0h1m2 0h1m1 0h1m3 0h2m5 0h1m1 0h1m6 0h3m2 0h1m1 0h1m1 0h2m1 0h2m1 0h1m1 0h1m4 0h2m3 0h1m1 0h2m3 0h5m3 0h3m1 0h4m2 0h1m1 0h3m1 0h5M15 172h1m3 0h1m4 0h2m5 0h1m10 0h1m1 0h1m4 0h2m1 0h2m1 0h1m1 0h1m4 0h2m2 0h1m2 0h2m3 0h2m1 0h3m3 0h3m5 0h1m1 0h3m2 0h3m1 0h3m1 0h1m1 0h1M15 173h1m4 0h1m7 0h1m1 0h1m6 0h1m10 0h1m7 0h1m3 0h3m4 0h7m5 0h1m2 0h1m1 0h14m3 0h2m1 0h7M12 174h1m2 0h2m6 0h4m2 0h1m3 0h1m4 0h1m4 0h4m2 0h1m2 0h1m3 0h1m5 0h1m4 0h1m6 0h4m1 0h6m1 0h1m1 0h2m2 0h2m3 0h1m1 0h3m1 0h1m1 0h1m2 0h3M18 175h2m1 0h2m1 0h1m2 0h1m8 0h1m1 0h1m5 0h1m4 0h1m2 0h3m1 0h2m2 0h3m1 0h2m3 0h2m1 0h1m2 0h3m1 0h1m2 0h1m1 0h1m3 0h1m1 0h2m2 0h17M7 176h1m10 0h1m1 0h3m4 0h1m1 0h1m2 0h2m1 0h1m4 0h2m1 0h2m1 0h1m1 0h1m1 0h3m2 0h2m1 0h2m1 0h1m2 0h5m3 0h2m3 0h1m2 0h3m2 0h5m1 0h8m2 0h1m1 0h1m1 0h4m1 0h1M8 177h1m6 0h1m9 0h2m2 0h1m1 0h1m1 0h2m2 0h1m3 0h1m1 0h1m2 0h2m3 0h1m3 0h1m7 0h3m7 0h1m1 0h2m1 0h3m1 0h2m1 0h6m2 0h18M13 178h2m2 0h1m1 0h1m4 0h1m1 0h3m8 0h1m3 0h2m1 0h4m3 0h3m2 0h1m1 0h6m1 0h4m1 0h1m1 0h4m1 0h1m2 0h2m3 0h1m1 0h6m2 0h6m1 0h6m1 0h2M4 179h1m5 0h1m6 0h1m5 0h1m1 0h1m1 0h2m2 0h4m1 0h7m3 0h3m2 0h1m3 0h1m5 0h3m3 0h1m1 0h1m1 0h1m1 0h6m1 0h1m1 0h1m1 0h13m1 0h13M8 180h1m4 0h1m1 0h1m3 0h1m1 0h2m1 0h3m2 0h4m5 0h1m2 0h2m1 0h1m1 0h1m3 0h2m4 0h1m2 0h1m1 0h2m1 0h1m3 0h1m1 0h1m3 0h9m1 0h15m1 0h8m1 0h2M7 181h1m1 0h1m1 0h3m4 0h1m4 0h1m3 0h1m2 0h1m2 0h1m1 0h1m2 0h3m1 0h1m2 0h1m1 0h10m3 0h3m3 0h2m1 0h11m1 0h1m1 0h4m2 0h2m1 0h15m1 0h3M5 182h1m5 0h1m1 0h2m1 0h1m2 0h1m4 0h1m1 0h2m1 0h3m1 0h2m1 0h3m3 0h1m4 0h1m2 0h1m1 0h3m4 0h6m1 0h5m3 0h2m1 0h3m1 0h3m1 0h3m2 0h21M9 183h1m3 0h1m2 0h1m1 0h1m1 0h1m1 0h1m3 0h1m2 0h5m1 0h2m5 0h2m1 0h2m1 0h2m3 0h4m2 0h2m4 0h1m1 0h4m1 0h4m1 0h4m1 0h1m1 0h8m2 0h1m1 0h9m1 0h5M10 184h2m1 0h2m1 0h1m2 0h1m1 0h5m1 0h1m1 0h1m2 0h1m2 0h1m1 0h1m1 0h1m2 0h2m2 0h1m1 0h2m1 0h1m2 0h2m2 0h6m1 0h8m2 0h1m1 0h5m1 0h23m1 0h4M6 185h2m1 0h1m1 0h3m3 0h1m1 0h1m2 0h1m2 0h1m2 0h1m2 0h1m1 0h1m1 0h1m2 0h5m4 0h3m1 0h3m3 0h1m1 0h3m1 0h4m2 0h15m1 0h7m1 0h16m1 0h1M4 186h1m2 0h1m7 0h2m2 0h1m1 0h1m1 0h2m2 0h1m1 0h6m2 0h2m3 0h2m1 0h1m1 0h1m4 0h1m1 0h1m1 0h7m3 0h1m1 0h2m1 0h3m2 0h11m1 0h8m1 0h2m1 0h11M6 187h1m2 0h1m1 0h3m1 0h1m2 0h2m1 0h1m3 0h3m1 0h1m3 0h2m1 0h1m1 0h5m2 0h1m1 0h2m1 0h3m1 0h3m2 0h1m1 0h2m1 0h1m1 0h4m1 0h16m1 0h5m1 0h17M6 188h2m1 0h1m2 0h2m1 0h5m1 0h2m1 0h3m3 0h1m1 0h2m1 0h1m3 0h1m1 0h4m1 0h4m1 0h4m1 0h1m2 0h2m1 0h6m1 0h15m1 0h3m1 0h2m1 0h8m1 0h5m1 0h4M10 189h3m2 0h2m1 0h5m1 0h4m2 0h6m5 0h2m3 0h2m1 0h1m1 0h9m3 0h1m2 0h13m1 0h3m1 0h11m1 0h15M5 190h1m3 0h1m5 0h2m1 0h3m4 0h3m3 0h1m2 0h2m1 0h1m1 0h1m3 0h3m1 0h3m1 0h1m1 0h1m1 0h8m1 0h3m3 0h5m2 0h3m1 0h30M4 191h2m5 0h2m1 0h1m3 0h1m1 0h3m1 0h1m1 0h3m1 0h1m1 0h1m1 0h7m2 0h2m1 0h1m1 0h3m1 0h2m1 0h1m1 0h6m1 0h7m2 0h1m1 0h25m1 0h10M5 192h1m3 0h3m1 0h1m3 0h2m1 0h2m2 0h1m1 0h2m2 0h1m1 0h3m4 0h8m1 0h3m1 0h2m1 0h2m1 0h48m1 0h4M4 193h2m1 0h3m5 0h3m4 0h1m2 0h5m3 0h1m2 0h2m1 0h2m3 0h1m1 0h1m1 0h4m1 0h1m1 0h3m1 0h2m1 0h1m1 0h5m2 0h14m1 0h11m1 0h13M6 194h1m1 0h1m4 0h1m2 0h1m1 0h3m1 0h6m1 0h1m3 0h1m2 0h7m1 0h1m1 0h2m1 0h6m2 0h2m1 0h4m2 0h3m1 0h2m2 0h16m1 0h10m1 0h9M5 195h1m7 0h5m3 0h4m1 0h1m3 0h2m1 0h2m1 0h8m1 0h1m1 0h2m1 0h3m1 0h5m1 0h1m1 0h3m1 0h3m1 0h3m1 0h7m1 0h10m1 0h11m1 0h6M7 196h3m1 0h2m1 0h1m1 0h1m1 0h5m3 0h9m1 0h3m3 0h5m1 0h3m2 0h3m1 0h3m2 0h1m1 0h2m1 0h10m1 0h1m1 0h13m1 0h4m1 0h12M5 197h3m3 0h2m1 0h3m1 0h2m1 0h3m1 0h9m3 0h5m1 0h2m1 0h2m1 0h4m1 0h1m1 0h1m1 0h4m1 0h3m1 0h9m1 0h2m1 0h28m1 0h2M4 198h1m6 0h2m2 0h3m1 0h2m1 0h1m1 0h1m4 0h2m1 0h1m1 0h1m1 0h3m6 0h4m1 0h1m2 0h3m1 0h12m1 0h1m2 0h11m1 0h17m1 0h8M9 199h4m1 0h2m1 0h2m3 0h1m1 0h2m1 0h1m1 0h2m1 0h4m2 0h8m1 0h5m1 0h1m3 0h1m1 0h2m1 0h7m1 0h2m1 0h12m1 0h6m1 0h3m1 0h4m1 0h2m1 0h6M7 200h2m1 0h1m2 0h2m2 0h1m1 0h1m2 0h4m1 0h5m1 0h5m1 0h1m2 0h1m5 0h6m2 0h5m3 0h1m1 0h2m1 0h4m1 0h9m1 0h2m1 0h8m1 0h1m1 0h13M8 201h1m3 0h2m1 0h1m3 0h2m1 0h2m1 0h2m1 0h2m2 0h1m3 0h2m1 0h5m3 0h2m1 0h3m1 0h2m2 0h4m1 0h21m1 0h23m1 0h2M3 202h1m3 0h1m1 0h2m2 0h1m1 0h1m2 0h1m1 0h1m4 0h3m5 0h3m2 0h1m1 0h2m1 0h1m3 0h2m2 0h5m1 0h18m1 0h1m1 0h33M4 203h1m1 0h1m4 0h2m3 0h2m3 0h6m2 0h1m1 0h1m1 0h2m2 0h1m1 0h1m1 0h1m5 0h2m1 0h1m1 0h9m4 0h1m2 0h1m1 0h2m2 0h19m1 0h14m1 0h2M13 204h3m2 0h2m2 0h2m1 0h5m1 0h3m1 0h3m1 0h4m4 0h2m1 0h2m2 0h2m1 0h5m2 0h2m1 0h5m1 0h1m1 0h4m1 0h16m1 0h11m1 0h2M6 205h3m3 0h1m1 0h1m2 0h1m1 0h1m2 0h1m1 0h1m4 0h2m2 0h3m6 0h1m3 0h2m2 0h2m3 0h1m1 0h1m1 0h2m3 0h2m1 0h3m2 0h4m1 0h22m1 0h11M4 206h2m2 0h1m1 0h3m2 0h1m1 0h1m2 0h1m1 0h1m1 0h1m1 0h3m1 0h2m2 0h1m1 0h4m1 0h3m1 0h1m1 0h7m1 0h4m1 0h1m2 0h2m2 0h1m2 0h2m1 0h7m1 0h4m1 0h2m1 0h2m1 0h16m1 0h2M7 207h3m1 0h1m2 0h2m2 0h2m1 0h4m1 0h1m1 0h1m3 0h2m2 0h1m2 0h2m1 0h1m1 0h8m1 0h1m5 0h2m1 0h1m1 0h2m1 0h5m1 0h1m1 0h19m1 0h11m1 0h3M6 208h1m5 0h1m2 0h2m2 0h5m1 0h2m1 0h6m4 0h1m1 0h1m3 0h1m2 0h1m1 0h2m3 0h1m2 0h1m2 0h1m1 0h1m1 0h1m1 0h7m1 0h4m1 0h1m1 0h5m1 0h24M6 209h2m1 0h1m3 0h2m1 0h5m1 0h1m1 0h1m2 0h1m1 0h1m1 0h1m1 0h6m1 0h2m2 0h1m1 0h3m1 0h1m1 0h2m2 0h1m1 0h3m3 0h1m1 0h1m2 0h5m1 0h1m1 0h6m2 0h15m1 0h10M7 210h1m2 0h1m2 0h1m1 0h1m4 0h1m3 0h2m1 0h3m4 0h1m2 0h2m1 0h1m2 0h1m4 0h1m1 0h1m2 0h3m2 0h2m2 0h4m1 0h3m1 0h1m1 0h1m4 0h2m1 0h12m1 0h1m1 0h10m1 0h4M9 211h1m2 0h1m4 0h1m1 0h1m6 0h2m2 0h2m1 0h2m3 0h3m1 0h2m2 0h1m2 0h4m6 0h1m1 0h2m3 0h3m2 0h2m1 0h2m2 0h9m1 0h6m2 0h15M7 212h1m1 0h1m4 0h1m2 0h2m2 0h2m1 0h3m1 0h4m1 0h2m2 0h1m1 0h1m2 0h4m2 0h1m1 0h1m3 0h1m3 0h1m2 0h1m1 0h2m2 0h1m3 0h1m1 0h2m1 0h2m1 0h3m1 0h1m1 0h14m1 0h11M6 213h1m2 0h3m1 0h1m1 0h2m1 0h2m2 0h1m7 0h1m1 0h6m2 0h1m4 0h2m2 0h1m1 0h1m3 0h2m4 0h1m6 0h4m1 0h3m1 0h1m2 0h8m1 0h5m1 0h9m1 0h6M7 214h1m4 0h1m2 0h2m1 0h1m1 0h1m3 0h1m1 0h5m1 0h1m2 0h4m4 0h1m1 0h3m3 0h2m1 0h3m1 0h2m2 0h2m2 0h1m3 0h2m1 0h6m1 0h1m1 0h22m1 0h3m1 0h2M4 215h1m4 0h3m2 0h1m1 0h1m2 0h1m2 0h2m6 0h4m1 0h1m2 0h1m2 0h4m2 0h1m5 0h1m1 0h1m4 0h2m1 0h4m1 0h1m3 0h1m3 0h2m1 0h1m3 0h9m1 0h13m2 0h3M6 216h1m6 0h1m2 0h1m2 0h4m1 0h1m1 0h1m7 0h1m5 0h2m1 0h1m5 0h1m1 0h3m1 0h2m1 0h2m4 0h2m1 0h3m2 0h1m1 0h6m1 0h3m1 0h1m2 0h11m1 0h11M5 217h2m1 0h1m3 0h2m1 0h1m2 0h5m1 0h1m4 0h1m1 0h1m1 0h3m4 0h1m1 0h1m3 0h1m2 0h3m2 0h2m1 0h1m1 0h1m1 0h1m2 0h5m1 0h4m1 0h12m1 0h1m1 0h21M6 218h1m5 0h2m3 0h1m1 0h1m1 0h3m1 0h2m3 0h5m2 0h1m5 0h1m4 0h1m2 0h1m1 0h1m1 0h1m1 0h2m2 0h1m1 0h3m2 0h5m1 0h1m1 0h1m1 0h7m1 0h4m1 0h9m1 0h1m1 0h8M7 219h1m3 0h1m3 0h4m4 0h1m1 0h1m1 0h1m1 0h1m4 0h2m3 0h1m1 0h1m3 0h2m2 0h2m1 0h2m2 0h4m1 0h1m1 0h1m1 0h1m3 0h1m1 0h1m1 0h5m1 0h1m2 0h1m1 0h2m1 0h9m1 0h14M6 220h1m1 0h1m4 0h1m2 0h1m3 0h1m6 0h1m1 0h2m1 0h1m6 0h2m7 0h1m1 0h1m1 0h1m2 0h1m2 0h1m2 0h1m1 0h2m2 0h1m1 0h1m3 0h1m2 0h1m1 0h2m1 0h2m1 0h12m1 0h14M7 221h1m2 0h2m5 0h2m1 0h1m2 0h1m3 0h1m1 0h2m1 0h1m1 0h1m1 0h1m1 0h1m1 0h2m10 0h1m2 0h1m3 0h2m1 0h2m4 0h2m1 0h1m1 0h1m1 0h9m1 0h5m1 0h17m1 0h2M6 222h1m2 0h2m4 0h1m6 0h1m1 0h1m1 0h2m3 0h2m1 0h1m2 0h1m1 0h1m5 0h1m1 0h1m1 0h1m1 0h1m7 0h2m4 0h5m3 0h2m1 0h1m4 0h1m1 0h3m2 0h5m1 0h13m1 0h2M5 223h1m8 0h2m1 0h1m8 0h3m5 0h3m3 0h2m2 0h1m1 0h1m2 0h1m2 0h1m1 0h3m2 0h1m2 0h1m1 0h1m5 0h2m1 0h1m2 0h1m2 0h4m3 0h2m1 0h1m3 0h1m1 0h5m1 0h10M5 224h1m1 0h2m3 0h1m2 0h1m1 0h1m3 0h1m2 0h1m1 0h1m5 0h2m1 0h2m3 0h1m1 0h1m1 0h2m1 0h1m4 0h2m1 0h1m5 0h1m1 0h1m1 0h3m2 0h1m3 0h1m2 0h4m1 0h1m3 0h2m1 0h6m1 0h2m1 0h1m3 0h3m1 0h1m1 0h2M5 225h1m2 0h1m1 0h1m8 0h1m7 0h1m3 0h1m2 0h1m8 0h2m4 0h1m1 0h1m5 0h1m15 0h1m2 0h2m8 0h1m2 0h1m1 0h2m5 0h4m4 0h2m2 0h1M13 226h1m1 0h1m3 0h1m5 0h1m12 0h2m4 0h2m2 0h1m3 0h1m4 0h1m1 0h1m5 0h1m6 0h1m5 0h1m6 0h5m1 0h1m1 0h1m1 0h1m2 0h3m1 0h2m1 0h1m2 0h1M17 227h1m5 0h2m1 0h1m5 0h1m1 0h2m6 0h1m1 0h1m3 0h1m1 0h1m2 0h1m4 0h1m2 0h1m1 0h1m4 0h1m2 0h1m1 0h1m9 0h3m2 0h2m6 0h2m4 0h1m1 0h2m2 0h1m1 0h1M15 228h1m1 0h1m3 0h1m3 0h1m1 0h1m4 0h1m8 0h1m5 0h4m2 0h1m6 0h1m1 0h2m4 0h3m9 0h1m5 0h2m2 0h1m1 0h1m6 0h1m1 0h1M8 229h1m1 0h1m8 0h1m4 0h1m2 0h1m1 0h1m3 0h1m3 0h1m1 0h2m2 0h1m1 0h1m2 0h1m2 0h1m1 0h1m6 0h1m14 0h2m15 0h1m7 0h2m1 0h1m1 0h3m1 0h1M16 230h1m3 0h1m8 0h1m1 0h1m1 0h1m5 0h1m5 0h1m3 0h2m10 0h1m3 0h1m7 0h1m8 0h2m8 0h1m3 0h3m7 0h2m1 0h2M11 231h1m10 0h1m4 0h1m6 0h1m2 0h1m7 0h1m1 0h1m6 0h1m5 0h1m6 0h1m2 0h1m19 0h1m2 0h1m1 0h1m14 0h1M18 232h1m3 0h3m1 0h1m6 0h1m18 0h1m1 0h3m4 0h1m5 0h1m1 0h2m6 0h1m3 0h1m3 0h1m2 0h1m3 0h1m4 0h2m2 0h1m4 0h4M11 233h1m12 0h1m1 0h1m5 0h1m2 0h1m7 0h1m1 0h1m5 0h1m2 0h1m1 0h1m11 0h3m16 0h1m1 0h1m2 0h1m4 0h1M17 234h1m6 0h1m16 0h1m2 0h2m6 0h2m7 0h1m13 0h1m6 0h3m7 0h1M9 235h1m8 0h1m1 0h1m6 0h1m18 0h1m7 0h1m6 0h1m2 0h2m5 0h1m1 0h1m5 0h1m7 0h1m1 0h1m12 0h1M7 236h1m1 0h1m14 0h1m5 0h1m3 0h1m5 0h1m10 0h1m14 0h1m4 0h1m1 0h3m3 0h2m3 0h1m3 0h1M14 237h1m6 0h1m4 0h1m12 0h1m5 0h1m11 0h1m6 0h1m5 0h3m1 0h1m29 0h1m3 0h1M29 238h1m30 0h1m28 0h1m6 0h1m1 0h1m4 0h1m3 0h3M9 239h1m2 0h1m9 0h1m2 0h2m67 0h3m1 0h2m10 0h1M33 240h1m9 0h1m9 0h1m20 0h1m13 0h1m10 0h1M20 241h1m11 0h1m62 0h1m1 0h1m4 0h1M25 242h1m25 0h1m1 0h1m6 0h1m24 0h1m3 0h2m12 0h1M19 243h1m3 0h1m2 0h1m10 0h1m7 0h1m2 0h1m19 0h1M7 244h1m15 0h1m43 0h1m36 0h1M40 245h1m29 0h1M93 246h1M57 247h1M18 248h1M61 250h1m1 0h1M9 251h1m21 0h1M105 253h1M52 255h1M93 258h1" stroke="#000" stroke-width="1.12" fill="none"/>
<rect x="103.8" y="1995.4" width="408.7" height="409.3" fill="none" stroke="#000" stroke-width="1.4"/>
<rect x="93.5" y="2360.25" width="10.3" height="2.9" fill="#000"/>
<rect x="93.5" y="2317.35" width="10.3" height="2.9" fill="#000"/>
<rect x="93.5" y="2223.55" width="10.3" height="2.9" fill="#000"/>
<rect x="93.5" y="2125.75" width="10.3" height="2.9" fill="#000"/>
<rect x="93.5" y="2031.75" width="10.3" height="2.9" fill="#000"/>
<rect x="98.9" y="2289.81" width="4.9" height="1.5" fill="#000"/>
<rect x="98.9" y="2273.3" width="4.9" height="1.5" fill="#000"/>
<rect x="98.9" y="2261.58" width="4.9" height="1.5" fill="#000"/>
<rect x="96.3" y="2252.49" width="7.5" height="1.5" fill="#000"/>
<rect x="98.9" y="2245.06" width="4.9" height="1.5" fill="#000"/>
<rect x="98.9" y="2238.78" width="4.9" height="1.5" fill="#000"/>
<rect x="98.9" y="2233.34" width="4.9" height="1.5" fill="#000"/>
<rect x="98.9" y="2228.54" width="4.9" height="1.5" fill="#000"/>
<rect x="98.9" y="2194.81" width="4.9" height="1.5" fill="#000"/>
<rect x="98.9" y="2177.59" width="4.9" height="1.5" fill="#000"/>
<rect x="98.9" y="2165.37" width="4.9" height="1.5" fill="#000"/>
<rect x="96.3" y="2155.89" width="7.5" height="1.5" fill="#000"/>
<rect x="98.9" y="2148.15" width="4.9" height="1.5" fill="#000"/>
<rect x="98.9" y="2141.6" width="4.9" height="1.5" fill="#000"/>
<rect x="98.9" y="2135.93" width="4.9" height="1.5" fill="#000"/>
<rect x="98.9" y="2130.93" width="4.9" height="1.5" fill="#000"/>
<rect x="98.9" y="2098.15" width="4.9" height="1.5" fill="#000"/>
<rect x="98.9" y="2081.6" width="4.9" height="1.5" fill="#000"/>
<rect x="98.9" y="2069.86" width="4.9" height="1.5" fill="#000"/>
<rect x="96.3" y="2060.75" width="7.5" height="1.5" fill="#000"/>
<rect x="98.9" y="2053.3" width="4.9" height="1.5" fill="#000"/>
<rect x="98.9" y="2047.01" width="4.9" height="1.5" fill="#000"/>
<rect x="98.9" y="2041.56" width="4.9" height="1.5" fill="#000"/>
<rect x="98.9" y="2036.75" width="4.9" height="1.5" fill="#000"/>
<rect x="98.9" y="2004.15" width="4.9" height="1.5" fill="#000"/>
<rect x="98.8" y="2336.5" width="5" height="8" fill="#000"/>
<rect x="92.3" y="2335.4" width="11.5" height="2.2" fill="#000"/>
<rect x="92.3" y="2339.4" width="11.5" height="2.2" fill="#000"/>
<rect x="92.3" y="2343.4" width="11.5" height="2.2" fill="#000"/>
<rect x="98.9" y="2337.07" width="4.9" height="1.5" fill="#000"/>
<rect x="98.9" y="2335.52" width="4.9" height="1.5" fill="#000"/>
<rect x="98.9" y="2333.79" width="4.9" height="1.5" fill="#000"/>
<rect x="96.3" y="2331.85" width="7.5" height="1.5" fill="#000"/>
<rect x="98.9" y="2329.66" width="4.9" height="1.5" fill="#000"/>
<rect x="98.9" y="2327.18" width="4.9" height="1.5" fill="#000"/>
<rect x="98.9" y="2324.39" width="4.9" height="1.5" fill="#000"/>
<rect x="98.9" y="2321.31" width="4.9" height="1.5" fill="#000"/>
<rect x="98.9" y="2342.37" width="4.9" height="1.5" fill="#000"/>
<rect x="98.9" y="2343.89" width="4.9" height="1.5" fill="#000"/>
<rect x="98.9" y="2345.57" width="4.9" height="1.5" fill="#000"/>
<rect x="96.3" y="2347.47" width="7.5" height="1.5" fill="#000"/>
<rect x="98.9" y="2349.61" width="4.9" height="1.5" fill="#000"/>
<rect x="98.9" y="2352.03" width="4.9" height="1.5" fill="#000"/>
<rect x="98.9" y="2354.76" width="4.9" height="1.5" fill="#000"/>
<rect x="98.9" y="2357.77" width="4.9" height="1.5" fill="#000"/>
<rect x="98.9" y="2379.45" width="4.9" height="1.5" fill="#000"/>
<rect x="98.9" y="2396.05" width="4.9" height="1.5" fill="#000"/>
<rect x="136.35" y="2404.7" width="2.9" height="10.3" fill="#000"/>
<rect x="251.35" y="2404.7" width="2.9" height="10.3" fill="#000"/>
<rect x="328.15" y="2404.7" width="2.9" height="10.3" fill="#000"/>
<rect x="403.65" y="2404.7" width="2.9" height="10.3" fill="#000"/>
<rect x="478.35" y="2404.7" width="2.9" height="10.3" fill="#000"/>
<rect x="275.17" y="2404.7" width="1.5" height="4.9" fill="#000"/>
<rect x="288.69" y="2404.7" width="1.5" height="4.9" fill="#000"/>
<rect x="298.29" y="2404.7" width="1.5" height="4.9" fill="#000"/>
<rect x="305.73" y="2404.7" width="1.5" height="7.5" fill="#000"/>
<rect x="311.81" y="2404.7" width="1.5" height="4.9" fill="#000"/>
<rect x="316.95" y="2404.7" width="1.5" height="4.9" fill="#000"/>
<rect x="321.41" y="2404.7" width="1.5" height="4.9" fill="#000"/>
<rect x="325.34" y="2404.7" width="1.5" height="4.9" fill="#000"/>
<rect x="351.58" y="2404.7" width="1.5" height="4.9" fill="#000"/>
<rect x="364.87" y="2404.7" width="1.5" height="4.9" fill="#000"/>
<rect x="374.31" y="2404.7" width="1.5" height="4.9" fill="#000"/>
<rect x="381.62" y="2404.7" width="1.5" height="7.5" fill="#000"/>
<rect x="387.6" y="2404.7" width="1.5" height="4.9" fill="#000"/>
<rect x="392.65" y="2404.7" width="1.5" height="4.9" fill="#000"/>
<rect x="397.03" y="2404.7" width="1.5" height="4.9" fill="#000"/>
<rect x="400.9" y="2404.7" width="1.5" height="4.9" fill="#000"/>
<rect x="426.84" y="2404.7" width="1.5" height="4.9" fill="#000"/>
<rect x="439.99" y="2404.7" width="1.5" height="4.9" fill="#000"/>
<rect x="449.32" y="2404.7" width="1.5" height="4.9" fill="#000"/>
<rect x="456.56" y="2404.7" width="1.5" height="7.5" fill="#000"/>
<rect x="462.48" y="2404.7" width="1.5" height="4.9" fill="#000"/>
<rect x="467.48" y="2404.7" width="1.5" height="4.9" fill="#000"/>
<rect x="471.81" y="2404.7" width="1.5" height="4.9" fill="#000"/>
<rect x="475.63" y="2404.7" width="1.5" height="4.9" fill="#000"/>
<rect x="501.54" y="2404.7" width="1.5" height="4.9" fill="#000"/>
<rect x="187" y="2404.7" width="16.8" height="5" fill="#000"/>
<rect x="189.68" y="2404.7" width="2.2" height="7.5" fill="#000"/>
<rect x="198.92" y="2404.7" width="2.2" height="7.5" fill="#000"/>
<rect x="185.6" y="2404.7" width="2.8" height="10.3" fill="#000"/>
<rect x="194" y="2404.7" width="2.8" height="10.3" fill="#000"/>
<rect x="202.4" y="2404.7" width="2.8" height="10.3" fill="#000"/>
<rect x="211.42" y="2404.7" width="1.5" height="4.9" fill="#000"/>
<rect x="218.8" y="2404.7" width="1.5" height="4.9" fill="#000"/>
<rect x="225.36" y="2404.7" width="1.5" height="4.9" fill="#000"/>
<rect x="231.15" y="2404.7" width="1.5" height="7.5" fill="#000"/>
<rect x="236.28" y="2404.7" width="1.5" height="4.9" fill="#000"/>
<rect x="240.85" y="2404.7" width="1.5" height="4.9" fill="#000"/>
<rect x="244.96" y="2404.7" width="1.5" height="4.9" fill="#000"/>
<rect x="248.67" y="2404.7" width="1.5" height="4.9" fill="#000"/>
<rect x="177.82" y="2404.7" width="1.5" height="4.9" fill="#000"/>
<rect x="170.41" y="2404.7" width="1.5" height="4.9" fill="#000"/>
<rect x="163.83" y="2404.7" width="1.5" height="4.9" fill="#000"/>
<rect x="158.02" y="2404.7" width="1.5" height="7.5" fill="#000"/>
<rect x="152.87" y="2404.7" width="1.5" height="4.9" fill="#000"/>
<rect x="148.29" y="2404.7" width="1.5" height="4.9" fill="#000"/>
<rect x="144.17" y="2404.7" width="1.5" height="4.9" fill="#000"/>
<rect x="140.44" y="2404.7" width="1.5" height="4.9" fill="#000"/>
<rect x="113.93" y="2404.7" width="1.5" height="4.9" fill="#000"/>
<text transform="translate(195.7,2450) scale(1.08,1)" text-anchor="middle" fill="#101010" font-family="Liberation Sans, Arial, Helvetica, sans-serif" font-size="15.0" stroke="#101010" stroke-width="0.35">0</text>
<text transform="translate(322.3,2450) scale(1.08,1)" fill="#101010" font-family="Liberation Sans, Arial, Helvetica, sans-serif" font-size="15.0" stroke="#101010" stroke-width="0.35">10</text>
<text transform="translate(340.2,2438) scale(1.08,1)" fill="#101010" font-family="Liberation Sans, Arial, Helvetica, sans-serif" font-size="15.0" stroke="#101010" stroke-width="0.35">3</text>
<text transform="translate(397.8,2450) scale(1.08,1)" fill="#101010" font-family="Liberation Sans, Arial, Helvetica, sans-serif" font-size="15.0" stroke="#101010" stroke-width="0.35">10</text>
<text transform="translate(415.7,2438) scale(1.08,1)" fill="#101010" font-family="Liberation Sans, Arial, Helvetica, sans-serif" font-size="15.0" stroke="#101010" stroke-width="0.35">4</text>
<text transform="translate(472.5,2450) scale(1.08,1)" fill="#101010" font-family="Liberation Sans, Arial, Helvetica, sans-serif" font-size="15.0" stroke="#101010" stroke-width="0.35">10</text>
<text transform="translate(490.4,2438) scale(1.08,1)" fill="#101010" font-family="Liberation Sans, Arial, Helvetica, sans-serif" font-size="15.0" stroke="#101010" stroke-width="0.35">5</text>
<text transform="translate(57.6,2044) scale(1.08,1)" fill="#101010" font-family="Liberation Sans, Arial, Helvetica, sans-serif" font-size="15.0" stroke="#101010" stroke-width="0.35">10</text>
<text transform="translate(75.5,2032) scale(1.08,1)" fill="#101010" font-family="Liberation Sans, Arial, Helvetica, sans-serif" font-size="15.0" stroke="#101010" stroke-width="0.35">5</text>
<text transform="translate(57.6,2138) scale(1.08,1)" fill="#101010" font-family="Liberation Sans, Arial, Helvetica, sans-serif" font-size="15.0" stroke="#101010" stroke-width="0.35">10</text>
<text transform="translate(75.5,2126) scale(1.08,1)" fill="#101010" font-family="Liberation Sans, Arial, Helvetica, sans-serif" font-size="15.0" stroke="#101010" stroke-width="0.35">4</text>
<text transform="translate(57.6,2236) scale(1.08,1)" fill="#101010" font-family="Liberation Sans, Arial, Helvetica, sans-serif" font-size="15.0" stroke="#101010" stroke-width="0.35">10</text>
<text transform="translate(75.5,2224) scale(1.08,1)" fill="#101010" font-family="Liberation Sans, Arial, Helvetica, sans-serif" font-size="15.0" stroke="#101010" stroke-width="0.35">3</text>
<text transform="translate(70.5,2346) scale(1.08,1)" text-anchor="middle" fill="#101010" font-family="Liberation Sans, Arial, Helvetica, sans-serif" font-size="15.0" stroke="#101010" stroke-width="0.35">0</text>
<text transform="translate(202.8,2490.9) scale(0.875,1)" textLength="233.26" lengthAdjust="spacing" font-weight="bold" font-family="Liberation Sans, Arial, Helvetica, sans-serif" font-size="21.6" stroke="#000" stroke-width="0.5">Comp-PE-A :: TIGIT</text>
<text transform="translate(44,2313) rotate(-90) scale(0.875,1)" textLength="256.23" lengthAdjust="spacing" font-weight="bold" font-family="Liberation Sans, Arial, Helvetica, sans-serif" font-size="21.6" stroke="#000" stroke-width="0.5">Comp-V450-A :: IFN-r</text>
<rect x="110.8" y="2051.8" width="236.7" height="196.4" fill="none" stroke="#000" stroke-width="1.4"/>
<rect x="345.9" y="2051.1" width="3.2" height="197.8" fill="#000"/>
<text transform="translate(386.1,2158.3)" textLength="44" lengthAdjust="spacing" font-weight="bold" font-family="Liberation Sans, Arial, Helvetica, sans-serif" font-size="22.3" stroke="#000" stroke-width="0.3">48.7</text>
<path transform="translate(621.00,1994.71) scale(1.430)" d="M126 66h1M127 68h1M116 69h1m37 0h1M118 70h1m3 0h1m11 0h1M121 71h1M115 72h1m7 0h1m12 0h1M116 73h1m1 0h2m3 0h1M126 74h1m5 0h1m8 0h1M117 75h1m1 0h1m1 0h1m9 0h1m6 0h1M116 76h1m1 0h1m7 0h1m3 0h2M116 77h1m3 0h2m6 0h1m2 0h1m6 0h1m1 0h1M125 78h1m1 0h1m1 0h1m2 0h1m7 0h1M120 79h2m3 0h2m1 0h1m1 0h1m1 0h1m4 0h1m3 0h1M115 80h1m4 0h1m1 0h1m12 0h1M117 81h2m3 0h1m1 0h1m4 0h1m13 0h1m1 0h1M115 82h1m2 0h1m3 0h2m1 0h1m6 0h2m6 0h1m1 0h1m5 0h1M119 83h3m4 0h2m1 0h2m2 0h1m2 0h2m3 0h2M118 84h3m1 0h1m4 0h1m12 0h1m1 0h1M119 85h2m4 0h1m2 0h1m6 0h1m1 0h1m5 0h1M115 86h3m2 0h1m3 0h4m4 0h1m22 0h1M115 87h1m1 0h2m1 0h2m1 0h1m2 0h2m6 0h1m1 0h1m1 0h1m2 0h1m6 0h1M116 88h1m2 0h8m1 0h1m1 0h1m1 0h1m2 0h2m2 0h1m3 0h1m7 0h1m9 0h1M116 89h2m1 0h1m1 0h1m6 0h3m1 0h2m1 0h1m2 0h2m6 0h1M115 90h6m2 0h1m3 0h2m2 0h2m1 0h1m1 0h1m12 0h1M115 91h2m1 0h6m1 0h2m1 0h1m1 0h1m1 0h1m6 0h1m4 0h2m3 0h1M115 92h1m1 0h5m2 0h2m1 0h1m1 0h1m1 0h1m3 0h1m3 0h1m8 0h1M115 93h11m1 0h1m1 0h2m3 0h2m1 0h5m9 0h1M115 94h6m2 0h2m1 0h1m1 0h3m4 0h3m2 0h1M115 95h6m1 0h4m1 0h1m1 0h1m4 0h1m6 0h2M116 96h6m1 0h2m2 0h2m1 0h2m2 0h1m1 0h1m2 0h1m3 0h1M115 97h5m1 0h5m1 0h1m1 0h1m4 0h1m1 0h3m11 0h1m12 0h1M115 98h6m1 0h4m2 0h5m2 0h1m1 0h3m9 0h1m9 0h2m1 0h1m3 0h1M115 99h1m1 0h5m1 0h5m1 0h3m5 0h1m4 0h2M115 100h7m2 0h6m3 0h1m1 0h2m2 0h1m1 0h2M115 101h12m1 0h1m1 0h2m1 0h3m3 0h1m3 0h3m8 0h1m15 0h1M115 102h11m1 0h5m1 0h3m1 0h4m6 0h1M115 103h5m1 0h3m1 0h2m1 0h5m2 0h1m2 0h2m1 0h3m1 0h1M115 104h12m1 0h3m1 0h7m1 0h1m1 0h1M115 105h12m1 0h2m1 0h1m3 0h2m5 0h1M115 106h15m1 0h5m2 0h3m1 0h2m8 0h1M115 107h14m1 0h3m4 0h1m13 0h1M116 108h14m1 0h2m2 0h1m1 0h1m1 0h1m2 0h2M115 109h16m2 0h2m1 0h1m2 0h2m2 0h2m3 0h1m6 0h2m6 0h1M115 110h9m1 0h4m1 0h4m1 0h5m2 0h1m1 0h1m1 0h1m5 0h1m14 0h1M115 111h1m1 0h6m1 0h6m1 0h1m2 0h6m1 0h3m3 0h1m4 0h1M115 112h9m3 0h2m1 0h6m1 0h4m2 0h2m2 0h2M115 113h9m1 0h6m1 0h2m1 0h2m2 0h1m1 0h3M115 114h14m1 0h2m1 0h2m1 0h2m1 0h1m1 0h2m3 0h1m3 0h1m1 0h1M115 115h15m5 0h1m6 0h1m3 0h1m1 0h1m11 0h1M115 116h5m1 0h11m1 0h1m3 0h5m1 0h1m4 0h1m2 0h2M115 117h4m1 0h13m1 0h2m4 0h1M115 118h5m1 0h6m1 0h6m2 0h4m18 0h1M115 119h7m1 0h5m1 0h2m1 0h8m4 0h1m1 0h1m2 0h1M115 120h20m1 0h1m1 0h3m2 0h1M115 121h9m1 0h1m1 0h3m2 0h4m2 0h2m3 0h2m1 0h1m12 0h1M115 122h13m1 0h2m1 0h1m1 0h1m1 0h1m2 0h2m5 0h1m5 0h1M115 123h9m1 0h3m1 0h2m1 0h1m1 0h2m1 0h1m1 0h1m3 0h4m1 0h1M115 124h15m1 0h3m1 0h3m2 0h1m4 0h1m1 0h1m1 0h1m1 0h1m1 0h3m3 0h2M115 125h3m1 0h8m2 0h6m5 0h1m3 0h1m1 0h2m1 0h1m14 0h1M115 126h20m2 0h3m2 0h2m3 0h1m1 0h1m2 0h1m11 0h1M115 127h14m1 0h2m1 0h3m1 0h4m1 0h1m7 0h1m1 0h2m5 0h1M115 128h4m1 0h6m1 0h3m1 0h5m1 0h5m3 0h2M115 129h11m1 0h7m1 0h4m4 0h1m4 0h2M115 130h18m1 0h2m1 0h1m2 0h1m2 0h1m3 0h1m1 0h1m4 0h1m3 0h1M115 131h12m1 0h4m1 0h1m1 0h1m1 0h1m1 0h2m1 0h1m1 0h1m2 0h1m14 0h1M115 132h18m2 0h1m1 0h5m1 0h1m2 0h2m5 0h1m4 0h1M115 133h10m1 0h2m1 0h3m2 0h1m1 0h5m2 0h3m3 0h1m1 0h1m1 0h1M115 134h15m1 0h2m1 0h2m2 0h1m1 0h2m4 0h1m3 0h1M115 135h15m1 0h1m3 0h1m1 0h1m1 0h1m1 0h3m2 0h1m4 0h1m4 0h1M115 136h5m1 0h12m1 0h2m2 0h1m1 0h1m1 0h1m1 0h1m2 0h1m5 0h1M115 137h17m1 0h4m1 0h1m1 0h1m1 0h3m3 0h1m4 0h1M115 138h20m1 0h1m1 0h3m2 0h1m3 0h3m1 0h1M115 139h2m1 0h12m2 0h3m1 0h1m4 0h1m2 0h1m9 0h1m4 0h2M115 140h15m3 0h2m1 0h1m1 0h1m1 0h1m10 0h1m2 0h1m2 0h1M115 141h17m3 0h4m3 0h1M115 142h8m1 0h4m1 0h8m2 0h3m5 0h1m1 0h1M115 143h15m1 0h2m1 0h2m2 0h3m16 0h1m2 0h3M115 144h17m1 0h1m1 0h1m2 0h3m4 0h4M115 145h12m1 0h4m1 0h3m1 0h3m3 0h1m1 0h1m4 0h2m4 0h1m16 0h1M115 146h13m1 0h4m1 0h3m1 0h3m5 0h1m5 0h2M115 147h4m1 0h9m2 0h5m1 0h1m2 0h2m1 0h1m4 0h1m1 0h1m9 0h1M115 148h16m1 0h7m1 0h3m10 0h1m2 0h2m3 0h2M115 149h14m1 0h4m1 0h1m3 0h4m6 0h1m3 0h1m3 0h1M115 150h13m1 0h4m1 0h4m1 0h2m1 0h2m2 0h2m5 0h1m13 0h1M115 151h11m1 0h2m1 0h6m9 0h1m1 0h1m9 0h1m9 0h1M115 152h14m2 0h7m2 0h1m1 0h1m2 0h1m5 0h1m2 0h1m12 0h1M115 153h22m1 0h2m10 0h1m8 0h1m9 0h1M115 154h16m1 0h3m1 0h1m1 0h1m2 0h1M115 155h3m1 0h10m1 0h2m1 0h4m1 0h2m1 0h2m6 0h1m1 0h2M115 156h21m1 0h6m1 0h1m4 0h2m2 0h1M115 157h14m2 0h6m1 0h5m1 0h2m2 0h1m1 0h1M115 158h6m1 0h11m2 0h1m1 0h3m1 0h7m2 0h1M115 159h12m1 0h5m1 0h4m1 0h1m2 0h1m2 0h1m1 0h1m2 0h1M115 160h10m1 0h7m2 0h2m1 0h1m1 0h1m5 0h1m2 0h1m2 0h2m8 0h1M115 161h14m2 0h7m4 0h3m2 0h1m1 0h2m1 0h1M115 162h16m1 0h5m2 0h1m2 0h1m1 0h2m3 0h2M115 163h7m1 0h5m1 0h1m1 0h10m1 0h1m6 0h1m7 0h1M115 164h13m1 0h3m1 0h1m2 0h1m6 0h1m1 0h1m4 0h1m5 0h1m2 0h1m5 0h1M115 165h12m1 0h3m1 0h5m1 0h1m1 0h2m2 0h2M115 166h16m1 0h3m4 0h1m1 0h2m3 0h1m1 0h2M115 167h24m1 0h1m1 0h3m1 0h2m1 0h1m4 0h1M115 168h17m1 0h1m2 0h2m1 0h5m1 0h3m3 0h1m2 0h1M115 169h11m1 0h4m1 0h1m2 0h5m1 0h1m2 0h2m4 0h1m1 0h1m5 0h1M115 170h13m1 0h3m1 0h7m1 0h2m2 0h1m5 0h1m1 0h1m2 0h1M115 171h20m1 0h2m1 0h1m2 0h4m1 0h1m5 0h2m8 0h1M115 172h18m1 0h4m2 0h4m2 0h1m1 0h1m1 0h1m4 0h1M115 173h1m1 0h20m1 0h4m1 0h1m1 0h1m1 0h1m4 0h1m2 0h1M115 174h7m1 0h9m1 0h6m3 0h3m1 0h1m3 0h1m13 0h1M115 175h2m1 0h21m1 0h3m2 0h1m3 0h1M115 176h26m3 0h2m3 0h2m4 0h1m5 0h2M115 177h19m1 0h6m2 0h5m3 0h1m5 0h1m1 0h1m1 0h1M115 178h28m1 0h3m2 0h1m2 0h1m2 0h1m4 0h1m3 0h1M115 179h13m1 0h10m2 0h1m3 0h1m1 0h1m1 0h2m4 0h1m3 0h1M116 180h24m1 0h3m1 0h1m1 0h3m3 0h1m8 0h1M115 181h29m1 0h3m1 0h1m1 0h2m1 0h1m1 0h5M115 182h31m2 0h1m1 0h3m1 0h1m4 0h2m1 0h1M115 183h32m1 0h1m2 0h2m2 0h1m3 0h1m1 0h1M115 184h10m1 0h22m1 0h3m1 0h2m5 0h1M115 185h36m2 0h1m1 0h2m3 0h3M115 186h17m1 0h9m1 0h7m2 0h1m4 0h1m9 0h1M115 187h32m1 0h1m6 0h1m2 0h1m1 0h1M115 188h31m1 0h2m1 0h4m2 0h1M115 189h13m1 0h20m1 0h3m3 0h2m1 0h2m5 0h1M115 190h16m1 0h15m1 0h3m2 0h1m5 0h2M115 191h31m1 0h2m4 0h2m3 0h2m1 0h1M115 192h19m1 0h2m1 0h11m5 0h1m2 0h1m2 0h1m1 0h1m1 0h1M115 193h33m1 0h4m1 0h5m3 0h2M115 194h15m1 0h20m1 0h6m1 0h1m3 0h1M115 195h39M115 196h24m1 0h14m1 0h4m2 0h1m8 0h1M115 197h26m1 0h10m1 0h2m1 0h1m2 0h1m1 0h1m1 0h1m2 0h1M115 198h4m1 0h16m1 0h20m2 0h1m1 0h3m6 0h1M115 199h25m1 0h9m2 0h5m1 0h1m5 0h1M115 200h2m1 0h34m2 0h2m4 0h1m1 0h2m3 0h1M115 201h40m4 0h2m1 0h2M115 202h22m1 0h5m1 0h8m1 0h1m2 0h6M115 203h34m1 0h8m2 0h1m8 0h1M115 204h42m3 0h2M115 205h37m1 0h2m1 0h1m1 0h2M115 206h22m1 0h6m1 0h9m1 0h3m1 0h1m2 0h2M115 207h22m1 0h25m1 0h1M115 208h36m1 0h3m1 0h2m1 0h1m1 0h1m3 0h2M115 209h15m1 0h3m1 0h19m1 0h1m2 0h1m1 0h4m3 0h1m2 0h1M115 210h6m1 0h3m1 0h4m2 0h20m1 0h1m1 0h2m2 0h4M115 211h36m1 0h2m3 0h3m3 0h1M115 212h13m1 0h23m2 0h4m1 0h2m1 0h1m4 0h1M115 213h32m1 0h11M115 214h33m1 0h4m1 0h2M115 215h2m1 0h34m3 0h1m1 0h1m3 0h1M115 216h34m2 0h1m1 0h3m2 0h1m2 0h1M115 217h36m1 0h3m4 0h1M115 218h15m1 0h3m1 0h1m1 0h14m2 0h3m3 0h1M115 219h29m1 0h1m1 0h2m1 0h1m1 0h1m2 0h1M115 220h32m2 0h2m1 0h1M115 221h27m1 0h2m1 0h4m3 0h1m1 0h3M115 222h7m1 0h2m1 0h10m1 0h2m1 0h2m1 0h1m1 0h1m3 0h1m11 0h1M115 223h24m1 0h2m1 0h6m2 0h1m4 0h2m2 0h1M115 224h21m2 0h5m1 0h6M115 225h21m1 0h1m1 0h4m2 0h2m1 0h1m2 0h1M115 226h13m2 0h7m1 0h1m1 0h1m4 0h1m11 0h1M116 227h7m1 0h3m1 0h1m5 0h1m1 0h2m1 0h2m10 0h1M115 228h3m1 0h6m1 0h2m2 0h1m1 0h3m1 0h1m3 0h1m3 0h1m2 0h1m2 0h1m2 0h1M115 229h5m1 0h3m5 0h1m2 0h1m2 0h1m27 0h1M115 230h1m1 0h2m1 0h1m3 0h2m2 0h1m1 0h1m1 0h1m2 0h2m14 0h1M116 231h3m4 0h2m5 0h1m1 0h1m1 0h1m3 0h1m1 0h2M115 232h1m1 0h3m2 0h2m4 0h1m1 0h2m2 0h1m2 0h1M116 233h1m1 0h1m1 0h1m2 0h2m6 0h3m2 0h1m2 0h1M115 234h2m4 0h2m1 0h2m1 0h1m1 0h2m3 0h1m1 0h1m8 0h1m2 0h1M115 235h2m3 0h2m4 0h1M118 236h1m4 0h1m2 0h2m4 0h1m1 0h1M124 237h1m5 0h1m2 0h1m7 0h1M116 238h1m1 0h1m2 0h1m3 0h1m2 0h1m13 0h1M120 239h1m1 0h1M117 240h1m10 0h2M122 241h1m2 0h1m32 0h1M121 242h1m4 0h1M120 243h1M121 244h1m5 0h1m2 0h1M117 245h1m19 0h1m15 0h1M127 246h1M117 249h1" stroke="#000" stroke-width="1.12" fill="none"/>
<rect x="621" y="1994" width="408.5" height="409.2" fill="none" stroke="#000" stroke-width="1.4"/>
<rect x="610.7" y="2358.85" width="10.3" height="2.9" fill="#000"/>
<rect x="610.7" y="2315.95" width="10.3" height="2.9" fill="#000"/>
<rect x="610.7" y="2222.15" width="10.3" height="2.9" fill="#000"/>
<rect x="610.7" y="2124.35" width="10.3" height="2.9" fill="#000"/>
<rect x="610.7" y="2030.35" width="10.3" height="2.9" fill="#000"/>
<rect x="616.1" y="2288.41" width="4.9" height="1.5" fill="#000"/>
<rect x="616.1" y="2271.9" width="4.9" height="1.5" fill="#000"/>
<rect x="616.1" y="2260.18" width="4.9" height="1.5" fill="#000"/>
<rect x="613.5" y="2251.09" width="7.5" height="1.5" fill="#000"/>
<rect x="616.1" y="2243.66" width="4.9" height="1.5" fill="#000"/>
<rect x="616.1" y="2237.38" width="4.9" height="1.5" fill="#000"/>
<rect x="616.1" y="2231.94" width="4.9" height="1.5" fill="#000"/>
<rect x="616.1" y="2227.14" width="4.9" height="1.5" fill="#000"/>
<rect x="616.1" y="2193.41" width="4.9" height="1.5" fill="#000"/>
<rect x="616.1" y="2176.19" width="4.9" height="1.5" fill="#000"/>
<rect x="616.1" y="2163.97" width="4.9" height="1.5" fill="#000"/>
<rect x="613.5" y="2154.49" width="7.5" height="1.5" fill="#000"/>
<rect x="616.1" y="2146.75" width="4.9" height="1.5" fill="#000"/>
<rect x="616.1" y="2140.2" width="4.9" height="1.5" fill="#000"/>
<rect x="616.1" y="2134.53" width="4.9" height="1.5" fill="#000"/>
<rect x="616.1" y="2129.53" width="4.9" height="1.5" fill="#000"/>
<rect x="616.1" y="2096.75" width="4.9" height="1.5" fill="#000"/>
<rect x="616.1" y="2080.2" width="4.9" height="1.5" fill="#000"/>
<rect x="616.1" y="2068.46" width="4.9" height="1.5" fill="#000"/>
<rect x="613.5" y="2059.35" width="7.5" height="1.5" fill="#000"/>
<rect x="616.1" y="2051.9" width="4.9" height="1.5" fill="#000"/>
<rect x="616.1" y="2045.61" width="4.9" height="1.5" fill="#000"/>
<rect x="616.1" y="2040.16" width="4.9" height="1.5" fill="#000"/>
<rect x="616.1" y="2035.35" width="4.9" height="1.5" fill="#000"/>
<rect x="616.1" y="2002.75" width="4.9" height="1.5" fill="#000"/>
<rect x="616" y="2335.1" width="5" height="8" fill="#000"/>
<rect x="609.5" y="2334" width="11.5" height="2.2" fill="#000"/>
<rect x="609.5" y="2338" width="11.5" height="2.2" fill="#000"/>
<rect x="609.5" y="2342" width="11.5" height="2.2" fill="#000"/>
<rect x="616.1" y="2335.67" width="4.9" height="1.5" fill="#000"/>
<rect x="616.1" y="2334.12" width="4.9" height="1.5" fill="#000"/>
<rect x="616.1" y="2332.39" width="4.9" height="1.5" fill="#000"/>
<rect x="613.5" y="2330.45" width="7.5" height="1.5" fill="#000"/>
<rect x="616.1" y="2328.26" width="4.9" height="1.5" fill="#000"/>
<rect x="616.1" y="2325.78" width="4.9" height="1.5" fill="#000"/>
<rect x="616.1" y="2322.99" width="4.9" height="1.5" fill="#000"/>
<rect x="616.1" y="2319.91" width="4.9" height="1.5" fill="#000"/>
<rect x="616.1" y="2340.97" width="4.9" height="1.5" fill="#000"/>
<rect x="616.1" y="2342.49" width="4.9" height="1.5" fill="#000"/>
<rect x="616.1" y="2344.17" width="4.9" height="1.5" fill="#000"/>
<rect x="613.5" y="2346.07" width="7.5" height="1.5" fill="#000"/>
<rect x="616.1" y="2348.21" width="4.9" height="1.5" fill="#000"/>
<rect x="616.1" y="2350.63" width="4.9" height="1.5" fill="#000"/>
<rect x="616.1" y="2353.36" width="4.9" height="1.5" fill="#000"/>
<rect x="616.1" y="2356.37" width="4.9" height="1.5" fill="#000"/>
<rect x="616.1" y="2378.05" width="4.9" height="1.5" fill="#000"/>
<rect x="616.1" y="2394.65" width="4.9" height="1.5" fill="#000"/>
<rect x="653.55" y="2403.2" width="2.9" height="10.3" fill="#000"/>
<rect x="768.55" y="2403.2" width="2.9" height="10.3" fill="#000"/>
<rect x="845.35" y="2403.2" width="2.9" height="10.3" fill="#000"/>
<rect x="920.85" y="2403.2" width="2.9" height="10.3" fill="#000"/>
<rect x="995.55" y="2403.2" width="2.9" height="10.3" fill="#000"/>
<rect x="792.37" y="2403.2" width="1.5" height="4.9" fill="#000"/>
<rect x="805.89" y="2403.2" width="1.5" height="4.9" fill="#000"/>
<rect x="815.49" y="2403.2" width="1.5" height="4.9" fill="#000"/>
<rect x="822.93" y="2403.2" width="1.5" height="7.5" fill="#000"/>
<rect x="829.01" y="2403.2" width="1.5" height="4.9" fill="#000"/>
<rect x="834.15" y="2403.2" width="1.5" height="4.9" fill="#000"/>
<rect x="838.61" y="2403.2" width="1.5" height="4.9" fill="#000"/>
<rect x="842.54" y="2403.2" width="1.5" height="4.9" fill="#000"/>
<rect x="868.78" y="2403.2" width="1.5" height="4.9" fill="#000"/>
<rect x="882.07" y="2403.2" width="1.5" height="4.9" fill="#000"/>
<rect x="891.51" y="2403.2" width="1.5" height="4.9" fill="#000"/>
<rect x="898.82" y="2403.2" width="1.5" height="7.5" fill="#000"/>
<rect x="904.8" y="2403.2" width="1.5" height="4.9" fill="#000"/>
<rect x="909.85" y="2403.2" width="1.5" height="4.9" fill="#000"/>
<rect x="914.23" y="2403.2" width="1.5" height="4.9" fill="#000"/>
<rect x="918.1" y="2403.2" width="1.5" height="4.9" fill="#000"/>
<rect x="944.04" y="2403.2" width="1.5" height="4.9" fill="#000"/>
<rect x="957.19" y="2403.2" width="1.5" height="4.9" fill="#000"/>
<rect x="966.52" y="2403.2" width="1.5" height="4.9" fill="#000"/>
<rect x="973.76" y="2403.2" width="1.5" height="7.5" fill="#000"/>
<rect x="979.68" y="2403.2" width="1.5" height="4.9" fill="#000"/>
<rect x="984.68" y="2403.2" width="1.5" height="4.9" fill="#000"/>
<rect x="989.01" y="2403.2" width="1.5" height="4.9" fill="#000"/>
<rect x="992.83" y="2403.2" width="1.5" height="4.9" fill="#000"/>
<rect x="1018.74" y="2403.2" width="1.5" height="4.9" fill="#000"/>
<rect x="704.2" y="2403.2" width="16.8" height="5" fill="#000"/>
<rect x="706.88" y="2403.2" width="2.2" height="7.5" fill="#000"/>
<rect x="716.12" y="2403.2" width="2.2" height="7.5" fill="#000"/>
<rect x="702.8" y="2403.2" width="2.8" height="10.3" fill="#000"/>
<rect x="711.2" y="2403.2" width="2.8" height="10.3" fill="#000"/>
<rect x="719.6" y="2403.2" width="2.8" height="10.3" fill="#000"/>
<rect x="728.62" y="2403.2" width="1.5" height="4.9" fill="#000"/>
<rect x="736" y="2403.2" width="1.5" height="4.9" fill="#000"/>
<rect x="742.56" y="2403.2" width="1.5" height="4.9" fill="#000"/>
<rect x="748.35" y="2403.2" width="1.5" height="7.5" fill="#000"/>
<rect x="753.48" y="2403.2" width="1.5" height="4.9" fill="#000"/>
<rect x="758.05" y="2403.2" width="1.5" height="4.9" fill="#000"/>
<rect x="762.16" y="2403.2" width="1.5" height="4.9" fill="#000"/>
<rect x="765.87" y="2403.2" width="1.5" height="4.9" fill="#000"/>
<rect x="695.02" y="2403.2" width="1.5" height="4.9" fill="#000"/>
<rect x="687.61" y="2403.2" width="1.5" height="4.9" fill="#000"/>
<rect x="681.03" y="2403.2" width="1.5" height="4.9" fill="#000"/>
<rect x="675.22" y="2403.2" width="1.5" height="7.5" fill="#000"/>
<rect x="670.07" y="2403.2" width="1.5" height="4.9" fill="#000"/>
<rect x="665.49" y="2403.2" width="1.5" height="4.9" fill="#000"/>
<rect x="661.37" y="2403.2" width="1.5" height="4.9" fill="#000"/>
<rect x="657.64" y="2403.2" width="1.5" height="4.9" fill="#000"/>
<rect x="631.13" y="2403.2" width="1.5" height="4.9" fill="#000"/>
<text transform="translate(712.9,2448) scale(1.08,1)" text-anchor="middle" fill="#101010" font-family="Liberation Sans, Arial, Helvetica, sans-serif" font-size="15.0" stroke="#101010" stroke-width="0.35">0</text>
<text transform="translate(839.5,2448) scale(1.08,1)" fill="#101010" font-family="Liberation Sans, Arial, Helvetica, sans-serif" font-size="15.0" stroke="#101010" stroke-width="0.35">10</text>
<text transform="translate(857.4,2436) scale(1.08,1)" fill="#101010" font-family="Liberation Sans, Arial, Helvetica, sans-serif" font-size="15.0" stroke="#101010" stroke-width="0.35">3</text>
<text transform="translate(915,2448) scale(1.08,1)" fill="#101010" font-family="Liberation Sans, Arial, Helvetica, sans-serif" font-size="15.0" stroke="#101010" stroke-width="0.35">10</text>
<text transform="translate(932.9,2436) scale(1.08,1)" fill="#101010" font-family="Liberation Sans, Arial, Helvetica, sans-serif" font-size="15.0" stroke="#101010" stroke-width="0.35">4</text>
<text transform="translate(989.7,2448) scale(1.08,1)" fill="#101010" font-family="Liberation Sans, Arial, Helvetica, sans-serif" font-size="15.0" stroke="#101010" stroke-width="0.35">10</text>
<text transform="translate(1007.6,2436) scale(1.08,1)" fill="#101010" font-family="Liberation Sans, Arial, Helvetica, sans-serif" font-size="15.0" stroke="#101010" stroke-width="0.35">5</text>
<text transform="translate(574.8,2043) scale(1.08,1)" fill="#101010" font-family="Liberation Sans, Arial, Helvetica, sans-serif" font-size="15.0" stroke="#101010" stroke-width="0.35">10</text>
<text transform="translate(592.7,2031) scale(1.08,1)" fill="#101010" font-family="Liberation Sans, Arial, Helvetica, sans-serif" font-size="15.0" stroke="#101010" stroke-width="0.35">5</text>
<text transform="translate(574.8,2137) scale(1.08,1)" fill="#101010" font-family="Liberation Sans, Arial, Helvetica, sans-serif" font-size="15.0" stroke="#101010" stroke-width="0.35">10</text>
<text transform="translate(592.7,2125) scale(1.08,1)" fill="#101010" font-family="Liberation Sans, Arial, Helvetica, sans-serif" font-size="15.0" stroke="#101010" stroke-width="0.35">4</text>
<text transform="translate(574.8,2234) scale(1.08,1)" fill="#101010" font-family="Liberation Sans, Arial, Helvetica, sans-serif" font-size="15.0" stroke="#101010" stroke-width="0.35">10</text>
<text transform="translate(592.7,2222) scale(1.08,1)" fill="#101010" font-family="Liberation Sans, Arial, Helvetica, sans-serif" font-size="15.0" stroke="#101010" stroke-width="0.35">3</text>
<text transform="translate(587.7,2345) scale(1.08,1)" text-anchor="middle" fill="#101010" font-family="Liberation Sans, Arial, Helvetica, sans-serif" font-size="15.0" stroke="#101010" stroke-width="0.35">0</text>
<text transform="translate(720,2489.1) scale(0.875,1)" textLength="233.26" lengthAdjust="spacing" font-weight="bold" font-family="Liberation Sans, Arial, Helvetica, sans-serif" font-size="21.6" stroke="#000" stroke-width="0.5">Comp-PE-A :: TIGIT</text>
<text transform="translate(560.5,2310.5) rotate(-90) scale(0.875,1)" textLength="255.31" lengthAdjust="spacing" font-weight="bold" font-family="Liberation Sans, Arial, Helvetica, sans-serif" font-size="21.6" stroke="#000" stroke-width="0.5">Comp-V450-A :: IFN-r</text>
<rect x="764.7" y="2043.8" width="146.3" height="196.3" fill="none" stroke="#000" stroke-width="1.4"/>
<rect x="909.4" y="2043.1" width="3.2" height="197.7" fill="#000"/>
<text transform="translate(914.9,2135.5)" textLength="44" lengthAdjust="spacing" font-weight="bold" font-family="Liberation Sans, Arial, Helvetica, sans-serif" font-size="22.3" stroke="#000" stroke-width="0.3">37.2</text>
<rect x="1392.4" y="113.8" width="3.0" height="305.1" fill="#000"/>
<rect x="1381.5" y="415.9" width="214.2" height="3.0" fill="#000"/>
<rect x="1381.5" y="113.8" width="12.4" height="3.0" fill="#000"/>
<text x="1377.3" y="123" text-anchor="end" font-family="Liberation Sans, Arial, Helvetica, sans-serif" font-weight="bold" font-size="21.6">100</text>
<rect x="1381.5" y="174.2" width="12.4" height="3.0" fill="#000"/>
<text x="1377.3" y="183.4" text-anchor="end" font-family="Liberation Sans, Arial, Helvetica, sans-serif" font-weight="bold" font-size="21.6">80</text>
<rect x="1381.5" y="234.2" width="12.4" height="3.0" fill="#000"/>
<text x="1377.3" y="243.4" text-anchor="end" font-family="Liberation Sans, Arial, Helvetica, sans-serif" font-weight="bold" font-size="21.6">60</text>
<rect x="1381.5" y="295.3" width="12.4" height="3.0" fill="#000"/>
<text x="1377.3" y="304.5" text-anchor="end" font-family="Liberation Sans, Arial, Helvetica, sans-serif" font-weight="bold" font-size="21.6">40</text>
<rect x="1381.5" y="355.3" width="12.4" height="3.0" fill="#000"/>
<text x="1377.3" y="364.5" text-anchor="end" font-family="Liberation Sans, Arial, Helvetica, sans-serif" font-weight="bold" font-size="21.6">20</text>
<rect x="1381.5" y="415.9" width="12.4" height="3.0" fill="#000"/>
<text x="1377.3" y="425.1" text-anchor="end" font-family="Liberation Sans, Arial, Helvetica, sans-serif" font-weight="bold" font-size="21.6">0</text>
<rect x="1449.7" y="417.4" width="3.0" height="12.4" fill="#000"/>
<rect x="1536" y="417.4" width="3.0" height="12.4" fill="#000"/>
<circle cx="1537.5" cy="148.5" r="5.3" fill="#ff1c12"/>
<circle cx="1537.5" cy="237.4" r="5.3" fill="#ff1c12"/>
<circle cx="1537.5" cy="267.4" r="5.3" fill="#ff1c12"/>
<circle cx="1537.5" cy="271.1" r="5.3" fill="#ff1c12"/>
<circle cx="1537.5" cy="272.1" r="5.3" fill="#ff1c12"/>
<circle cx="1537.5" cy="274.3" r="5.3" fill="#ff1c12"/>
<circle cx="1537.5" cy="283.9" r="5.3" fill="#ff1c12"/>
<circle cx="1537.5" cy="290.3" r="5.3" fill="#ff1c12"/>
<circle cx="1537.5" cy="297.8" r="5.3" fill="#ff1c12"/>
<circle cx="1537.5" cy="315.4" r="5.3" fill="#ff1c12"/>
<circle cx="1537.5" cy="332.6" r="5.3" fill="#ff1c12"/>
<circle cx="1537.5" cy="343.3" r="5.3" fill="#ff1c12"/>
<circle cx="1537.5" cy="347.1" r="5.3" fill="#ff1c12"/>
<circle cx="1537.5" cy="352.5" r="5.3" fill="#ff1c12"/>
<circle cx="1537.5" cy="357.8" r="5.3" fill="#ff1c12"/>
<circle cx="1537.5" cy="362.1" r="5.3" fill="#ff1c12"/>
<circle cx="1537.5" cy="365.3" r="5.3" fill="#ff1c12"/>
<circle cx="1537.5" cy="368.5" r="5.3" fill="#ff1c12"/>
<circle cx="1537.5" cy="371.8" r="5.3" fill="#ff1c12"/>
<circle cx="1537.5" cy="375" r="5.3" fill="#ff1c12"/>
<circle cx="1537.5" cy="376" r="5.3" fill="#ff1c12"/>
<circle cx="1537.5" cy="379.3" r="5.3" fill="#ff1c12"/>
<circle cx="1537.5" cy="381.4" r="5.3" fill="#ff1c12"/>
<circle cx="1537.5" cy="385.7" r="5.3" fill="#ff1c12"/>
<circle cx="1537.5" cy="387.8" r="5.3" fill="#ff1c12"/>
<circle cx="1537.5" cy="392.1" r="5.3" fill="#ff1c12"/>
<circle cx="1537.5" cy="397.5" r="5.3" fill="#ff1c12"/>
<circle cx="1537.5" cy="415.7" r="5.3" fill="#ff1c12"/>
<circle cx="1537.5" cy="416.3" r="5.3" fill="#ff1c12"/>
<path d="M1451.2 162.8L1537.5 148.5M1451.2 264.6L1537.5 237.4M1451.2 299.6L1537.5 267.4M1451.2 319.3L1537.5 271.1M1451.2 321L1537.5 274.3M1451.2 322.5L1537.5 283.9M1451.2 324L1537.5 290.3M1451.2 326.8L1537.5 315.4M1451.2 338.6L1537.5 315.4M1451.2 349.3L1537.5 343.3M1451.2 353.6L1537.5 297.8M1451.2 365.3L1537.5 332.6M1451.2 368.5L1537.5 347.1M1451.2 370.7L1537.5 272.1M1451.2 379.3L1537.5 352.5M1451.2 381.4L1537.5 357.8M1451.2 383.5L1537.5 362.1M1451.2 387.8L1537.5 368.5M1451.2 390L1537.5 365.3M1451.2 393.2L1537.5 375M1451.2 395.3L1537.5 371.8M1451.2 398.5L1537.5 379.3M1451.2 400.7L1537.5 368.5M1451.2 402.8L1537.5 385.7M1451.2 405L1537.5 376M1451.2 407.1L1537.5 392.1M1451.2 408.2L1537.5 381.4M1451.2 410.3L1537.5 397.5M1451.2 412.5L1537.5 387.8M1451.2 414.6L1537.5 415.7M1451.2 416.3L1537.5 416.3" stroke="#0a0a0a" stroke-width="1.4" fill="none"/>
<circle cx="1451.2" cy="162.8" r="5.4" fill="#2008ff" fill-opacity="0.9"/>
<circle cx="1451.2" cy="264.6" r="5.4" fill="#2008ff" fill-opacity="0.9"/>
<circle cx="1451.2" cy="299.6" r="5.4" fill="#2008ff" fill-opacity="0.9"/>
<circle cx="1451.2" cy="319.3" r="5.4" fill="#2008ff" fill-opacity="0.9"/>
<circle cx="1451.2" cy="321" r="5.4" fill="#2008ff" fill-opacity="0.9"/>
<circle cx="1451.2" cy="322.5" r="5.4" fill="#2008ff" fill-opacity="0.9"/>
<circle cx="1451.2" cy="324" r="5.4" fill="#2008ff" fill-opacity="0.9"/>
<circle cx="1451.2" cy="326.8" r="5.4" fill="#2008ff" fill-opacity="0.9"/>
<circle cx="1451.2" cy="338.6" r="5.4" fill="#2008ff" fill-opacity="0.9"/>
<circle cx="1451.2" cy="349.3" r="5.4" fill="#2008ff" fill-opacity="0.9"/>
<circle cx="1451.2" cy="353.6" r="5.4" fill="#2008ff" fill-opacity="0.9"/>
<circle cx="1451.2" cy="365.3" r="5.4" fill="#2008ff" fill-opacity="0.9"/>
<circle cx="1451.2" cy="368.5" r="5.4" fill="#2008ff" fill-opacity="0.9"/>
<circle cx="1451.2" cy="370.7" r="5.4" fill="#2008ff" fill-opacity="0.9"/>
<circle cx="1451.2" cy="379.3" r="5.4" fill="#2008ff" fill-opacity="0.9"/>
<circle cx="1451.2" cy="381.4" r="5.4" fill="#2008ff" fill-opacity="0.9"/>
<circle cx="1451.2" cy="383.5" r="5.4" fill="#2008ff" fill-opacity="0.9"/>
<circle cx="1451.2" cy="387.8" r="5.4" fill="#2008ff" fill-opacity="0.9"/>
<circle cx="1451.2" cy="390" r="5.4" fill="#2008ff" fill-opacity="0.9"/>
<circle cx="1451.2" cy="393.2" r="5.4" fill="#2008ff" fill-opacity="0.9"/>
<circle cx="1451.2" cy="395.3" r="5.4" fill="#2008ff" fill-opacity="0.9"/>
<circle cx="1451.2" cy="398.5" r="5.4" fill="#2008ff" fill-opacity="0.9"/>
<circle cx="1451.2" cy="400.7" r="5.4" fill="#2008ff" fill-opacity="0.9"/>
<circle cx="1451.2" cy="402.8" r="5.4" fill="#2008ff" fill-opacity="0.9"/>
<circle cx="1451.2" cy="405" r="5.4" fill="#2008ff" fill-opacity="0.9"/>
<circle cx="1451.2" cy="407.1" r="5.4" fill="#2008ff" fill-opacity="0.9"/>
<circle cx="1451.2" cy="408.2" r="5.4" fill="#2008ff" fill-opacity="0.9"/>
<circle cx="1451.2" cy="410.3" r="5.4" fill="#2008ff" fill-opacity="0.9"/>
<circle cx="1451.2" cy="412.5" r="5.4" fill="#2008ff" fill-opacity="0.9"/>
<circle cx="1451.2" cy="414.6" r="5.4" fill="#2008ff" fill-opacity="0.9"/>
<circle cx="1451.2" cy="416.3" r="5.4" fill="#2008ff" fill-opacity="0.9"/>
<rect x="1452.1" y="104.1" width="83.6" height="3.0" rx="1" fill="#000"/>
<text x="1477.1" y="98.9" text-anchor="middle" font-family="DejaVu Sans, Liberation Sans, sans-serif" font-weight="bold" font-size="29.5">*</text>
<text x="1494.5" y="98.9" text-anchor="middle" font-family="DejaVu Sans, Liberation Sans, sans-serif" font-weight="bold" font-size="29.5">*</text>
<text x="1511.9" y="98.9" text-anchor="middle" font-family="DejaVu Sans, Liberation Sans, sans-serif" font-weight="bold" font-size="29.5">*</text>
<text transform="translate(1324.3,310.5) rotate(-90)" textLength="92.5" lengthAdjust="spacingAndGlyphs" font-family="Liberation Sans, Arial, Helvetica, sans-serif" font-size="25.5" stroke="#000" stroke-width="0.45" >PD-1+%</text>
<text transform="translate(1457.9,449.9) rotate(-45)" text-anchor="end" font-family="Liberation Sans, Arial, Helvetica, sans-serif" font-size="22" stroke="#000" stroke-width="0.5">TIGIT<tspan dx="1.2" dy="-14.6" font-size="12">-</tspan><tspan dx="5" dy="14.6">CD8</tspan><tspan dx="1.4" dy="-14.6" font-size="12">+</tspan><tspan dx="1.5" dy="14.6">T</tspan></text>
<text transform="translate(1544.2,449.9) rotate(-45)" text-anchor="end" font-family="Liberation Sans, Arial, Helvetica, sans-serif" font-size="22" stroke="#000" stroke-width="0.5">TIGIT<tspan dx="1.2" dy="-14.6" font-size="12">+</tspan><tspan dx="3" dy="14.6">CD8</tspan><tspan dx="1.4" dy="-14.6" font-size="12">+</tspan><tspan dx="1.5" dy="14.6">T</tspan></text>
<rect x="1407.5" y="743.7" width="3.0" height="306.7" fill="#000"/>
<rect x="1396.6" y="1047.4" width="213.8" height="3.0" fill="#000"/>
<rect x="1396.6" y="743.7" width="12.4" height="3.0" fill="#000"/>
<text x="1392.4" y="752.9" text-anchor="end" font-family="Liberation Sans, Arial, Helvetica, sans-serif" font-weight="bold" font-size="21.6">15</text>
<rect x="1396.6" y="845.3" width="12.4" height="3.0" fill="#000"/>
<text x="1392.4" y="854.5" text-anchor="end" font-family="Liberation Sans, Arial, Helvetica, sans-serif" font-weight="bold" font-size="21.6">10</text>
<rect x="1396.6" y="946.2" width="12.4" height="3.0" fill="#000"/>
<text x="1392.4" y="955.4" text-anchor="end" font-family="Liberation Sans, Arial, Helvetica, sans-serif" font-weight="bold" font-size="21.6">5</text>
<rect x="1396.6" y="1047.4" width="12.4" height="3.0" fill="#000"/>
<text x="1392.4" y="1056.6" text-anchor="end" font-family="Liberation Sans, Arial, Helvetica, sans-serif" font-weight="bold" font-size="21.6">0</text>
<rect x="1464.5" y="1048.9" width="3.0" height="12.4" fill="#000"/>
<rect x="1551.1" y="1048.9" width="3.0" height="12.4" fill="#000"/>
<circle cx="1552.6" cy="769.1" r="5.3" fill="#ff1c12"/>
<circle cx="1552.6" cy="859.7" r="5.3" fill="#ff1c12"/>
<circle cx="1552.6" cy="875.2" r="5.3" fill="#ff1c12"/>
<circle cx="1552.6" cy="888" r="5.3" fill="#ff1c12"/>
<circle cx="1552.6" cy="904.2" r="5.3" fill="#ff1c12"/>
<circle cx="1552.6" cy="926.3" r="5.3" fill="#ff1c12"/>
<circle cx="1552.6" cy="954.3" r="5.3" fill="#ff1c12"/>
<circle cx="1552.6" cy="965.4" r="5.3" fill="#ff1c12"/>
<circle cx="1552.6" cy="984.5" r="5.3" fill="#ff1c12"/>
<circle cx="1552.6" cy="988.2" r="5.3" fill="#ff1c12"/>
<circle cx="1552.6" cy="991.1" r="5.3" fill="#ff1c12"/>
<circle cx="1552.6" cy="1019.5" r="5.3" fill="#ff1c12"/>
<circle cx="1552.6" cy="1032.4" r="5.3" fill="#ff1c12"/>
<circle cx="1552.6" cy="1037.9" r="5.3" fill="#ff1c12"/>
<circle cx="1552.6" cy="1041.6" r="5.3" fill="#ff1c12"/>
<circle cx="1552.6" cy="1043.4" r="5.3" fill="#ff1c12"/>
<circle cx="1552.6" cy="1045.3" r="5.3" fill="#ff1c12"/>
<circle cx="1552.6" cy="1046.4" r="5.3" fill="#ff1c12"/>
<circle cx="1552.6" cy="1047.1" r="5.3" fill="#ff1c12"/>
<circle cx="1552.6" cy="1048.9" r="5.3" fill="#ff1c12"/>
<path d="M1466 891.7L1552.6 904.2M1466 925.6L1552.6 888M1466 956.2L1552.6 875.2M1466 998.5L1552.6 954.3M1466 1005.9L1552.6 965.4M1466 1025L1552.6 769.1M1466 1026.8L1552.6 859.7M1466 1028.7L1552.6 926.3M1466 1030.5L1552.6 984.5M1466 1032.4L1552.6 991.1M1466 1034.2L1552.6 988.2M1466 1036.1L1552.6 888M1466 1037.9L1552.6 904.2M1466 1039.7L1552.6 1019.5M1466 1041.6L1552.6 1032.4M1466 1043.4L1552.6 1037.9M1466 1044.5L1552.6 1041.6M1466 1045.6L1552.6 1043.4M1466 1046.7L1552.6 1045.3M1466 1047.8L1552.6 1047.1M1466 1048.9L1552.6 1048.9M1466 1048.9L1552.6 1046.4" stroke="#0a0a0a" stroke-width="1.4" fill="none"/>
<circle cx="1466" cy="891.7" r="5.1" fill="#2008ff" fill-opacity="0.9"/>
<circle cx="1466" cy="925.6" r="5.1" fill="#2008ff" fill-opacity="0.9"/>
<circle cx="1466" cy="956.2" r="5.1" fill="#2008ff" fill-opacity="0.9"/>
<circle cx="1466" cy="998.5" r="5.1" fill="#2008ff" fill-opacity="0.9"/>
<circle cx="1466" cy="1005.9" r="5.1" fill="#2008ff" fill-opacity="0.9"/>
<circle cx="1466" cy="1025" r="5.1" fill="#2008ff" fill-opacity="0.9"/>
<circle cx="1466" cy="1026.8" r="5.1" fill="#2008ff" fill-opacity="0.9"/>
<circle cx="1466" cy="1028.7" r="5.1" fill="#2008ff" fill-opacity="0.9"/>
<circle cx="1466" cy="1030.5" r="5.1" fill="#2008ff" fill-opacity="0.9"/>
<circle cx="1466" cy="1032.4" r="5.1" fill="#2008ff" fill-opacity="0.9"/>
<circle cx="1466" cy="1034.2" r="5.1" fill="#2008ff" fill-opacity="0.9"/>
<circle cx="1466" cy="1036.1" r="5.1" fill="#2008ff" fill-opacity="0.9"/>
<circle cx="1466" cy="1037.9" r="5.1" fill="#2008ff" fill-opacity="0.9"/>
<circle cx="1466" cy="1039.7" r="5.1" fill="#2008ff" fill-opacity="0.9"/>
<circle cx="1466" cy="1041.6" r="5.1" fill="#2008ff" fill-opacity="0.9"/>
<circle cx="1466" cy="1043.4" r="5.1" fill="#2008ff" fill-opacity="0.9"/>
<circle cx="1466" cy="1044.5" r="5.1" fill="#2008ff" fill-opacity="0.9"/>
<circle cx="1466" cy="1045.6" r="5.1" fill="#2008ff" fill-opacity="0.9"/>
<circle cx="1466" cy="1046.7" r="5.1" fill="#2008ff" fill-opacity="0.9"/>
<circle cx="1466" cy="1047.8" r="5.1" fill="#2008ff" fill-opacity="0.9"/>
<circle cx="1466" cy="1048.9" r="5.1" fill="#2008ff" fill-opacity="0.9"/>
<rect x="1467.2" y="738.9" width="83.5" height="3.0" rx="1" fill="#000"/>
<text x="1491.6" y="735" text-anchor="middle" font-family="DejaVu Sans, Liberation Sans, sans-serif" font-weight="bold" font-size="29.5">*</text>
<text x="1509" y="735" text-anchor="middle" font-family="DejaVu Sans, Liberation Sans, sans-serif" font-weight="bold" font-size="29.5">*</text>
<text x="1526.4" y="735" text-anchor="middle" font-family="DejaVu Sans, Liberation Sans, sans-serif" font-weight="bold" font-size="29.5">*</text>
<text transform="translate(1352.5,948) rotate(-90)" textLength="103.5" lengthAdjust="spacingAndGlyphs" font-family="Liberation Sans, Arial, Helvetica, sans-serif" font-size="25.5" stroke="#000" stroke-width="0.45" >TIM-3+%</text>
<text transform="translate(1472.7,1081.4) rotate(-45)" text-anchor="end" font-family="Liberation Sans, Arial, Helvetica, sans-serif" font-size="22" stroke="#000" stroke-width="0.8">TIGIT<tspan dx="1.2" dy="-14.6" font-size="12">-</tspan><tspan dx="5" dy="14.6">CD8</tspan><tspan dx="1.4" dy="-14.6" font-size="12">+</tspan><tspan dx="1.5" dy="14.6">T</tspan></text>
<text transform="translate(1559.3,1081.4) rotate(-45)" text-anchor="end" font-family="Liberation Sans, Arial, Helvetica, sans-serif" font-size="22" stroke="#000" stroke-width="0.8">TIGIT<tspan dx="1.2" dy="-14.6" font-size="12">+</tspan><tspan dx="3" dy="14.6">CD8</tspan><tspan dx="1.4" dy="-14.6" font-size="12">+</tspan><tspan dx="1.5" dy="14.6">T</tspan></text>
<rect x="1411.9" y="1385.8" width="3.0" height="306.4" fill="#000"/>
<rect x="1401" y="1689.2" width="212.3" height="3.0" fill="#000"/>
<rect x="1401" y="1385.8" width="12.4" height="3.0" fill="#000"/>
<text x="1396.8" y="1395" text-anchor="end" font-family="Liberation Sans, Arial, Helvetica, sans-serif" font-weight="bold" font-size="21.6">80</text>
<rect x="1401" y="1462" width="12.4" height="3.0" fill="#000"/>
<text x="1396.8" y="1471.2" text-anchor="end" font-family="Liberation Sans, Arial, Helvetica, sans-serif" font-weight="bold" font-size="21.6">60</text>
<rect x="1401" y="1537.8" width="12.4" height="3.0" fill="#000"/>
<text x="1396.8" y="1547" text-anchor="end" font-family="Liberation Sans, Arial, Helvetica, sans-serif" font-weight="bold" font-size="21.6">40</text>
<rect x="1401" y="1613.3" width="12.4" height="3.0" fill="#000"/>
<text x="1396.8" y="1622.5" text-anchor="end" font-family="Liberation Sans, Arial, Helvetica, sans-serif" font-weight="bold" font-size="21.6">20</text>
<rect x="1401" y="1689.2" width="12.4" height="3.0" fill="#000"/>
<text x="1396.8" y="1698.4" text-anchor="end" font-family="Liberation Sans, Arial, Helvetica, sans-serif" font-weight="bold" font-size="21.6">0</text>
<rect x="1468.2" y="1690.7" width="3.0" height="12.4" fill="#000"/>
<rect x="1553.7" y="1690.7" width="3.0" height="12.4" fill="#000"/>
<circle cx="1555.2" cy="1473.4" r="5.3" fill="#ff1c12"/>
<circle cx="1555.2" cy="1502.2" r="5.3" fill="#ff1c12"/>
<circle cx="1555.2" cy="1505.8" r="5.3" fill="#ff1c12"/>
<circle cx="1555.2" cy="1518.7" r="5.3" fill="#ff1c12"/>
<circle cx="1555.2" cy="1524.2" r="5.3" fill="#ff1c12"/>
<circle cx="1555.2" cy="1534.6" r="5.3" fill="#ff1c12"/>
<circle cx="1555.2" cy="1592.4" r="5.3" fill="#ff1c12"/>
<circle cx="1555.2" cy="1601.9" r="5.3" fill="#ff1c12"/>
<circle cx="1555.2" cy="1629.5" r="5.3" fill="#ff1c12"/>
<circle cx="1555.2" cy="1637.6" r="5.3" fill="#ff1c12"/>
<circle cx="1555.2" cy="1646.8" r="5.3" fill="#ff1c12"/>
<circle cx="1555.2" cy="1654.2" r="5.3" fill="#ff1c12"/>
<circle cx="1555.2" cy="1667.8" r="5.3" fill="#ff1c12"/>
<circle cx="1555.2" cy="1672.6" r="5.3" fill="#ff1c12"/>
<circle cx="1555.2" cy="1680" r="5.3" fill="#ff1c12"/>
<circle cx="1555.2" cy="1686.2" r="5.3" fill="#ff1c12"/>
<circle cx="1555.2" cy="1585.4" r="5.3" fill="#ff1c12"/>
<path d="M1469.7 1446.6L1555.2 1473.4M1469.7 1464.6L1555.2 1524.2M1469.7 1486.7L1555.2 1502.2M1469.7 1494.1L1555.2 1505.8M1469.7 1497.7L1555.2 1518.7M1469.7 1500.7L1555.2 1534.6M1469.7 1503.3L1555.2 1524.2M1469.7 1505.8L1555.2 1601.9M1469.7 1542.7L1555.2 1592.4M1469.7 1547.4L1555.2 1601.9M1469.7 1553L1555.2 1534.6M1469.7 1590.5L1555.2 1601.9M1469.7 1590.5L1555.2 1646.8M1469.7 1622.2L1555.2 1646.8M1469.7 1626.6L1555.2 1654.2M1469.7 1635.1L1555.2 1654.2M1469.7 1652.4L1555.2 1629.5M1469.7 1656.1L1555.2 1637.6M1469.7 1657.9L1555.2 1672.6M1469.7 1659.7L1555.2 1667.8M1469.7 1670L1555.2 1680M1469.7 1674.5L1555.2 1680M1469.7 1678.1L1555.2 1686.2" stroke="#0a0a0a" stroke-width="1.4" fill="none"/>
<circle cx="1469.7" cy="1446.6" r="5.1" fill="#2008ff" fill-opacity="0.9"/>
<circle cx="1469.7" cy="1464.6" r="5.1" fill="#2008ff" fill-opacity="0.9"/>
<circle cx="1469.7" cy="1486.7" r="5.1" fill="#2008ff" fill-opacity="0.9"/>
<circle cx="1469.7" cy="1494.1" r="5.1" fill="#2008ff" fill-opacity="0.9"/>
<circle cx="1469.7" cy="1497.7" r="5.1" fill="#2008ff" fill-opacity="0.9"/>
<circle cx="1469.7" cy="1500.7" r="5.1" fill="#2008ff" fill-opacity="0.9"/>
<circle cx="1469.7" cy="1503.3" r="5.1" fill="#2008ff" fill-opacity="0.9"/>
<circle cx="1469.7" cy="1505.8" r="5.1" fill="#2008ff" fill-opacity="0.9"/>
<circle cx="1469.7" cy="1542.7" r="5.1" fill="#2008ff" fill-opacity="0.9"/>
<circle cx="1469.7" cy="1547.4" r="5.1" fill="#2008ff" fill-opacity="0.9"/>
<circle cx="1469.7" cy="1553" r="5.1" fill="#2008ff" fill-opacity="0.9"/>
<circle cx="1469.7" cy="1590.5" r="5.1" fill="#2008ff" fill-opacity="0.9"/>
<circle cx="1469.7" cy="1622.2" r="5.1" fill="#2008ff" fill-opacity="0.9"/>
<circle cx="1469.7" cy="1626.6" r="5.1" fill="#2008ff" fill-opacity="0.9"/>
<circle cx="1469.7" cy="1635.1" r="5.1" fill="#2008ff" fill-opacity="0.9"/>
<circle cx="1469.7" cy="1652.4" r="5.1" fill="#2008ff" fill-opacity="0.9"/>
<circle cx="1469.7" cy="1656.1" r="5.1" fill="#2008ff" fill-opacity="0.9"/>
<circle cx="1469.7" cy="1657.9" r="5.1" fill="#2008ff" fill-opacity="0.9"/>
<circle cx="1469.7" cy="1659.7" r="5.1" fill="#2008ff" fill-opacity="0.9"/>
<circle cx="1469.7" cy="1670" r="5.1" fill="#2008ff" fill-opacity="0.9"/>
<circle cx="1469.7" cy="1674.5" r="5.1" fill="#2008ff" fill-opacity="0.9"/>
<circle cx="1469.7" cy="1678.1" r="5.1" fill="#2008ff" fill-opacity="0.9"/>
<rect x="1469.7" y="1399.8" width="84.7" height="3.0" rx="1" fill="#000"/>
<text x="1504.1" y="1394.9" text-anchor="middle" font-family="DejaVu Sans, Liberation Sans, sans-serif" font-weight="bold" font-size="29.5">*</text>
<text x="1521.5" y="1394.9" text-anchor="middle" font-family="DejaVu Sans, Liberation Sans, sans-serif" font-weight="bold" font-size="29.5">*</text>
<text transform="translate(1356,1592) rotate(-90)" textLength="110" lengthAdjust="spacingAndGlyphs" font-family="Liberation Sans, Arial, Helvetica, sans-serif" font-size="25.5" stroke="#000" stroke-width="0.45" >TNF-α+%</text>
<text transform="translate(1476.4,1723.2) rotate(-45)" text-anchor="end" font-family="Liberation Sans, Arial, Helvetica, sans-serif" font-size="22" stroke="#000" stroke-width="0.8">TIGIT<tspan dx="1.2" dy="-14.6" font-size="12">-</tspan><tspan dx="5" dy="14.6">CD8</tspan><tspan dx="1.4" dy="-14.6" font-size="12">+</tspan><tspan dx="1.5" dy="14.6">T</tspan></text>
<text transform="translate(1561.9,1723.2) rotate(-45)" text-anchor="end" font-family="Liberation Sans, Arial, Helvetica, sans-serif" font-size="22" stroke="#000" stroke-width="0.8">TIGIT<tspan dx="1.2" dy="-14.6" font-size="12">+</tspan><tspan dx="3" dy="14.6">CD8</tspan><tspan dx="1.4" dy="-14.6" font-size="12">+</tspan><tspan dx="1.5" dy="14.6">T</tspan></text>
<rect x="1397.2" y="2035.5" width="3.0" height="304.9" fill="#000"/>
<rect x="1386.3" y="2337.4" width="214.1" height="3.0" fill="#000"/>
<rect x="1386.3" y="2035.5" width="12.4" height="3.0" fill="#000"/>
<text x="1382.1" y="2044.7" text-anchor="end" font-family="Liberation Sans, Arial, Helvetica, sans-serif" font-weight="bold" font-size="21.6">80</text>
<rect x="1386.3" y="2111.3" width="12.4" height="3.0" fill="#000"/>
<text x="1382.1" y="2120.5" text-anchor="end" font-family="Liberation Sans, Arial, Helvetica, sans-serif" font-weight="bold" font-size="21.6">60</text>
<rect x="1386.3" y="2185.7" width="12.4" height="3.0" fill="#000"/>
<text x="1382.1" y="2194.9" text-anchor="end" font-family="Liberation Sans, Arial, Helvetica, sans-serif" font-weight="bold" font-size="21.6">40</text>
<rect x="1386.3" y="2261.2" width="12.4" height="3.0" fill="#000"/>
<text x="1382.1" y="2270.4" text-anchor="end" font-family="Liberation Sans, Arial, Helvetica, sans-serif" font-weight="bold" font-size="21.6">20</text>
<rect x="1386.3" y="2337.4" width="12.4" height="3.0" fill="#000"/>
<text x="1382.1" y="2346.6" text-anchor="end" font-family="Liberation Sans, Arial, Helvetica, sans-serif" font-weight="bold" font-size="21.6">0</text>
<rect x="1454.2" y="2338.9" width="3.0" height="12.4" fill="#000"/>
<rect x="1541.1" y="2338.9" width="3.0" height="12.4" fill="#000"/>
<circle cx="1542.6" cy="2098.8" r="5.3" fill="#ff1c12"/>
<circle cx="1542.6" cy="2119.4" r="5.3" fill="#ff1c12"/>
<circle cx="1542.6" cy="2132" r="5.3" fill="#ff1c12"/>
<circle cx="1542.6" cy="2135.6" r="5.3" fill="#ff1c12"/>
<circle cx="1542.6" cy="2138.6" r="5.3" fill="#ff1c12"/>
<circle cx="1542.6" cy="2141.2" r="5.3" fill="#ff1c12"/>
<circle cx="1542.6" cy="2169.9" r="5.3" fill="#ff1c12"/>
<circle cx="1542.6" cy="2175.4" r="5.3" fill="#ff1c12"/>
<circle cx="1542.6" cy="2199" r="5.3" fill="#ff1c12"/>
<circle cx="1542.6" cy="2206.3" r="5.3" fill="#ff1c12"/>
<circle cx="1542.6" cy="2214.8" r="5.3" fill="#ff1c12"/>
<circle cx="1542.6" cy="2227" r="5.3" fill="#ff1c12"/>
<circle cx="1542.6" cy="2240.6" r="5.3" fill="#ff1c12"/>
<circle cx="1542.6" cy="2252.7" r="5.3" fill="#ff1c12"/>
<circle cx="1542.6" cy="2264.5" r="5.3" fill="#ff1c12"/>
<circle cx="1542.6" cy="2270.8" r="5.3" fill="#ff1c12"/>
<circle cx="1542.6" cy="2284.8" r="5.3" fill="#ff1c12"/>
<circle cx="1542.6" cy="2303.2" r="5.3" fill="#ff1c12"/>
<circle cx="1542.6" cy="2306.1" r="5.3" fill="#ff1c12"/>
<path d="M1455.7 2067.2L1542.6 2119.4M1455.7 2080.4L1542.6 2199M1455.7 2092.6L1542.6 2098.8M1455.7 2110.6L1542.6 2135.6M1455.7 2123.9L1542.6 2132M1455.7 2127.5L1542.6 2138.6M1455.7 2131.2L1542.6 2141.2M1455.7 2155.9L1542.6 2206.3M1455.7 2166.9L1542.6 2169.9M1455.7 2203.8L1542.6 2175.4M1455.7 2206.7L1542.6 2227M1455.7 2213.7L1542.6 2214.8M1455.7 2233.2L1542.6 2240.6M1455.7 2236.9L1542.6 2252.7M1455.7 2243.5L1542.6 2264.5M1455.7 2268.2L1542.6 2270.8M1455.7 2279.2L1542.6 2303.2M1455.7 2306.8L1542.6 2284.8M1455.7 2312.4L1542.6 2306.1" stroke="#0a0a0a" stroke-width="1.4" fill="none"/>
<circle cx="1455.7" cy="2067.2" r="5.1" fill="#2008ff" fill-opacity="0.9"/>
<circle cx="1455.7" cy="2080.4" r="5.1" fill="#2008ff" fill-opacity="0.9"/>
<circle cx="1455.7" cy="2092.6" r="5.1" fill="#2008ff" fill-opacity="0.9"/>
<circle cx="1455.7" cy="2110.6" r="5.1" fill="#2008ff" fill-opacity="0.9"/>
<circle cx="1455.7" cy="2123.9" r="5.1" fill="#2008ff" fill-opacity="0.9"/>
<circle cx="1455.7" cy="2127.5" r="5.1" fill="#2008ff" fill-opacity="0.9"/>
<circle cx="1455.7" cy="2131.2" r="5.1" fill="#2008ff" fill-opacity="0.9"/>
<circle cx="1455.7" cy="2155.9" r="5.1" fill="#2008ff" fill-opacity="0.9"/>
<circle cx="1455.7" cy="2166.9" r="5.1" fill="#2008ff" fill-opacity="0.9"/>
<circle cx="1455.7" cy="2203.8" r="5.1" fill="#2008ff" fill-opacity="0.9"/>
<circle cx="1455.7" cy="2206.7" r="5.1" fill="#2008ff" fill-opacity="0.9"/>
<circle cx="1455.7" cy="2213.7" r="5.1" fill="#2008ff" fill-opacity="0.9"/>
<circle cx="1455.7" cy="2233.2" r="5.1" fill="#2008ff" fill-opacity="0.9"/>
<circle cx="1455.7" cy="2236.9" r="5.1" fill="#2008ff" fill-opacity="0.9"/>
<circle cx="1455.7" cy="2243.5" r="5.1" fill="#2008ff" fill-opacity="0.9"/>
<circle cx="1455.7" cy="2268.2" r="5.1" fill="#2008ff" fill-opacity="0.9"/>
<circle cx="1455.7" cy="2279.2" r="5.1" fill="#2008ff" fill-opacity="0.9"/>
<circle cx="1455.7" cy="2306.8" r="5.1" fill="#2008ff" fill-opacity="0.9"/>
<circle cx="1455.7" cy="2312.4" r="5.1" fill="#2008ff" fill-opacity="0.9"/>
<rect x="1453.2" y="2026.6" width="90.2" height="3.0" rx="1" fill="#000"/>
<text x="1499.2" y="2021.7" text-anchor="middle" font-family="DejaVu Sans, Liberation Sans, sans-serif" font-weight="bold" font-size="29.5">*</text>
<text transform="translate(1341.5,2233.5) rotate(-90)" textLength="95" lengthAdjust="spacingAndGlyphs" font-family="Liberation Sans, Arial, Helvetica, sans-serif" font-size="25.5" stroke="#000" stroke-width="0.45" >IFN-γ+%</text>
<text transform="translate(1462.4,2371.4) rotate(-45)" text-anchor="end" font-family="Liberation Sans, Arial, Helvetica, sans-serif" font-size="22" stroke="#000" stroke-width="0.5">TIGIT<tspan dx="1.2" dy="-14.6" font-size="12">-</tspan><tspan dx="5" dy="14.6">CD8</tspan><tspan dx="1.4" dy="-14.6" font-size="12">+</tspan><tspan dx="1.5" dy="14.6">T</tspan></text>
<text transform="translate(1549.3,2371.4) rotate(-45)" text-anchor="end" font-family="Liberation Sans, Arial, Helvetica, sans-serif" font-size="22" stroke="#000" stroke-width="0.5">TIGIT<tspan dx="1.2" dy="-14.6" font-size="12">+</tspan><tspan dx="3" dy="14.6">CD8</tspan><tspan dx="1.4" dy="-14.6" font-size="12">+</tspan><tspan dx="1.5" dy="14.6">T</tspan></text>
<text transform="translate(2.3,30.2) scale(1.07,1)" font-family="Liberation Serif, Times New Roman, serif" font-size="39.5" fill="#000">A</text>
<text transform="translate(1097.8,30.2) scale(1.07,1)" font-family="Liberation Serif, Times New Roman, serif" font-size="39.5" fill="#000">B</text>
<text transform="translate(0.8,672.6) scale(1.07,1)" font-family="Liberation Serif, Times New Roman, serif" font-size="39.5" fill="#000">C</text>
<text transform="translate(1062.8,677.1) scale(1.07,1)" font-family="Liberation Serif, Times New Roman, serif" font-size="39.5" fill="#000">D</text>
<text transform="translate(1.3,1309) scale(1.07,1)" font-family="Liberation Serif, Times New Roman, serif" font-size="39.5" fill="#000">E</text>
<text transform="translate(1067.3,1314.7) scale(1.07,1)" font-family="Liberation Serif, Times New Roman, serif" font-size="39.5" fill="#000">F</text>
<text transform="translate(17.8,1959.6) scale(1.07,1)" font-family="Liberation Serif, Times New Roman, serif" font-size="39.5" fill="#000">G</text>
<text transform="translate(1086.3,1960.8) scale(1.07,1)" font-family="Liberation Serif, Times New Roman, serif" font-size="39.5" fill="#000">H</text>
</svg>
</body></html>
